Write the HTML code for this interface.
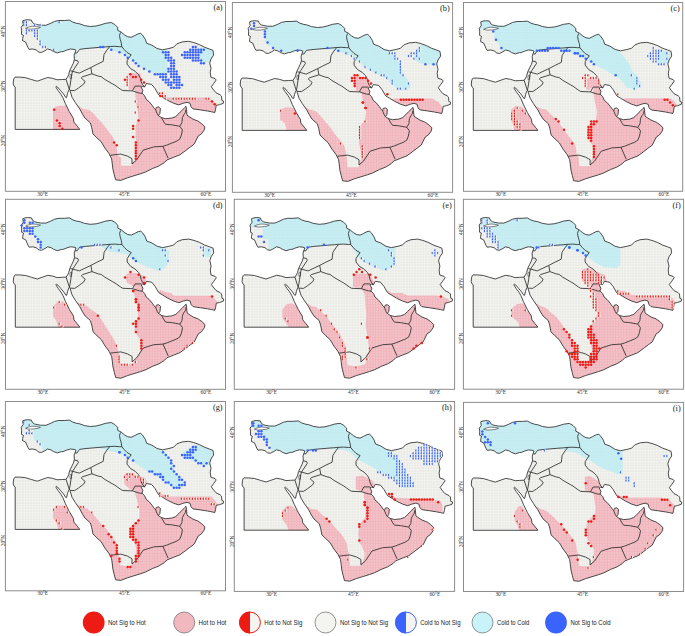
<!DOCTYPE html>
<html><head><meta charset="utf-8"><style>
html,body{margin:0;padding:0;background:#fff;width:685px;height:636px;overflow:hidden}
svg{display:block}
.ax{font-family:"Liberation Serif",serif;font-size:5.4px;fill:#333;text-anchor:middle}
.ax2{font-family:"Liberation Serif",serif;font-size:5.4px;fill:#333;text-anchor:middle}
.pl{font-family:"Liberation Serif",serif;font-size:8.3px;fill:#222;text-anchor:end}
.lg{font-family:"Liberation Sans",sans-serif;font-size:7.2px;fill:#1a1a1a}
</style></head><body>
<svg width="685" height="636" viewBox="0 0 685 636">
<defs>
<pattern id="pg" patternUnits="userSpaceOnUse" x="1.180" y="-0.875" width="2.72" height="2.73"><rect width="2.72" height="2.73" fill="#e7e7e3"/><rect x="0.38" y="0.38" width="1.96" height="1.97" rx="0.5" fill="#f7f8f3"/></pattern>
<pattern id="pp" patternUnits="userSpaceOnUse" x="1.180" y="-0.875" width="2.72" height="2.73"><rect width="2.72" height="2.73" fill="#efb1b9"/><rect x="0.35" y="0.35" width="2.02" height="2.03" rx="0.9" fill="#f2b6be"/><circle cx="0" cy="0" r="0.62" fill="#fbe8ea"/><circle cx="2.72" cy="0" r="0.62" fill="#fbe8ea"/><circle cx="0" cy="2.73" r="0.62" fill="#fbe8ea"/><circle cx="2.72" cy="2.73" r="0.62" fill="#fbe8ea"/></pattern>
<pattern id="pc" patternUnits="userSpaceOnUse" x="1.180" y="-0.875" width="2.72" height="2.73"><rect width="2.72" height="2.73" fill="#bde5ea"/><rect x="0.4" y="0.4" width="1.92" height="1.93" rx="0.6" fill="#c8f4fa"/><circle cx="0" cy="0" r="0.5" fill="#eafafb"/><circle cx="2.72" cy="0" r="0.5" fill="#eafafb"/><circle cx="0" cy="2.73" r="0.5" fill="#eafafb"/><circle cx="2.72" cy="2.73" r="0.5" fill="#eafafb"/></pattern>
<clipPath id="land"><polygon points="22.7,20.8 25.0,20.1 27.3,19.7 31.4,20.1 32.4,22.5 34.4,23.9 37.0,24.6 40.5,25.2 45.8,25.3 50.1,23.6 54.5,21.4 58.9,20.5 64.2,20.5 69.3,20.1 72.8,22.1 76.3,23.3 79.8,23.9 84.5,25.6 90.3,26.5 96.1,26.0 100.8,24.8 105.5,23.3 111.3,22.5 114.8,24.5 117.7,27.4 117.7,30.3 121.2,32.1 124.7,35.0 127.7,36.7 131.2,37.3 134.7,35.6 138.2,33.8 140.7,33.4 142.7,35.3 145.3,39.3 146.6,43.2 151.9,45.2 157.1,48.5 162.4,49.8 169.0,48.5 173.6,47.2 176.8,43.9 182.1,41.9 188.7,41.3 193.9,42.6 199.2,44.5 204.4,47.2 209.7,49.1 213.0,50.4 213.6,55.1 211.0,59.0 209.7,62.9 211.0,68.2 210.2,72.2 210.9,77.2 215.1,78.6 216.2,80.0 213.7,83.5 211.3,86.7 213.0,89.2 215.9,92.7 220.1,94.8 221.5,96.2 221.9,100.5 223.6,101.2 223.3,103.3 219.4,104.7 216.2,105.4 215.5,109.7 214.8,112.5 211.6,111.8 207.4,111.0 200.3,109.9 193.1,108.9 191.1,106.9 190.0,103.3 187.0,102.3 182.9,103.3 178.8,104.9 173.7,103.3 167.6,100.3 162.5,97.2 158.7,94.9 155.1,88.7 151.6,84.4 146.4,83.5 144.6,87.0 142.5,86.3 141.1,87.0 142.9,90.5 142.0,93.1 144.6,95.7 146.1,99.2 149.2,101.8 152.2,105.4 154.3,108.4 155.6,109.8 156.3,107.4 158.4,106.9 160.4,108.4 159.9,113.6 158.4,115.6 161.4,117.6 165.5,118.7 171.6,118.1 175.7,116.6 178.8,113.6 181.9,110.5 184.9,107.4 186.0,106.4 186.5,109.5 187.0,115.1 189.0,116.6 193.1,119.2 198.2,121.2 201.8,123.8 204.9,126.8 204.3,129.9 201.3,134.0 198.2,136.0 196.2,140.1 194.1,144.2 190.4,146.9 185.2,150.9 179.9,154.8 173.4,157.4 166.8,160.0 164.2,162.7 158.9,166.0 152.3,168.6 145.8,171.9 140.5,173.8 133.9,175.8 127.4,177.8 120.8,180.4 115.6,179.8 114.2,174.5 112.9,169.2 112.3,164.0 111.6,158.7 109.0,153.5 105.0,148.2 101.1,141.7 96.9,137.9 93.0,134.0 91.7,127.4 90.3,122.8 85.1,118.2 82.5,114.2 79.8,109.0 75.2,102.4 72.0,97.2 70.0,90.6 69.3,89.5 68.7,90.2 67.5,93.5 66.7,97.2 66.0,97.8 63.5,94.0 60.5,90.5 57.5,87.0 56.5,86.2 55.8,87.0 58.0,90.5 61.0,94.5 62.8,97.5 65.4,103.7 69.3,111.6 73.3,118.2 73.9,122.1 77.2,126.1 79.8,129.4 15.2,129.4 15.2,87.0 14.0,86.0 13.2,84.0 13.5,80.0 14.3,77.8 15.0,77.1 19.7,77.1 25.5,77.7 31.4,79.5 37.2,81.2 41.9,79.5 47.7,77.5 52.4,78.3 57.1,79.8 61.7,79.5 66.0,79.3 67.5,77.1 68.6,74.9 69.7,70.6 71.5,66.9 73.3,63.3 74.4,59.6 74.1,55.2 75.1,52.3 75.9,50.1 74.0,49.4 70.4,49.0 66.7,50.1 63.1,51.6 61.5,51.6 57.2,52.9 53.6,51.6 51.0,49.9 47.5,49.0 44.9,50.7 41.4,52.5 38.8,52.1 36.1,49.9 32.6,49.0 29.1,49.4 27.8,47.2 26.9,45.1 25.6,42.0 22.6,40.7 22.6,38.5 23.4,35.4 21.5,34.4 21.6,30.3 21.2,27.3 23.2,24.5 22.7,21.8"/></clipPath>
</defs>
<rect width="685" height="636" fill="#fff"/>
<rect x="5.4" y="1.5" width="220.1" height="189.8" fill="none" stroke="#8c8c8c" stroke-width="1"/>
<g transform="translate(0.00,0.00)">
<polygon points="22.7,20.8 25.0,20.1 27.3,19.7 31.4,20.1 32.4,22.5 34.4,23.9 37.0,24.6 40.5,25.2 45.8,25.3 50.1,23.6 54.5,21.4 58.9,20.5 64.2,20.5 69.3,20.1 72.8,22.1 76.3,23.3 79.8,23.9 84.5,25.6 90.3,26.5 96.1,26.0 100.8,24.8 105.5,23.3 111.3,22.5 114.8,24.5 117.7,27.4 117.7,30.3 121.2,32.1 124.7,35.0 127.7,36.7 131.2,37.3 134.7,35.6 138.2,33.8 140.7,33.4 142.7,35.3 145.3,39.3 146.6,43.2 151.9,45.2 157.1,48.5 162.4,49.8 169.0,48.5 173.6,47.2 176.8,43.9 182.1,41.9 188.7,41.3 193.9,42.6 199.2,44.5 204.4,47.2 209.7,49.1 213.0,50.4 213.6,55.1 211.0,59.0 209.7,62.9 211.0,68.2 210.2,72.2 210.9,77.2 215.1,78.6 216.2,80.0 213.7,83.5 211.3,86.7 213.0,89.2 215.9,92.7 220.1,94.8 221.5,96.2 221.9,100.5 223.6,101.2 223.3,103.3 219.4,104.7 216.2,105.4 215.5,109.7 214.8,112.5 211.6,111.8 207.4,111.0 200.3,109.9 193.1,108.9 191.1,106.9 190.0,103.3 187.0,102.3 182.9,103.3 178.8,104.9 173.7,103.3 167.6,100.3 162.5,97.2 158.7,94.9 155.1,88.7 151.6,84.4 146.4,83.5 144.6,87.0 142.5,86.3 141.1,87.0 142.9,90.5 142.0,93.1 144.6,95.7 146.1,99.2 149.2,101.8 152.2,105.4 154.3,108.4 155.6,109.8 156.3,107.4 158.4,106.9 160.4,108.4 159.9,113.6 158.4,115.6 161.4,117.6 165.5,118.7 171.6,118.1 175.7,116.6 178.8,113.6 181.9,110.5 184.9,107.4 186.0,106.4 186.5,109.5 187.0,115.1 189.0,116.6 193.1,119.2 198.2,121.2 201.8,123.8 204.9,126.8 204.3,129.9 201.3,134.0 198.2,136.0 196.2,140.1 194.1,144.2 190.4,146.9 185.2,150.9 179.9,154.8 173.4,157.4 166.8,160.0 164.2,162.7 158.9,166.0 152.3,168.6 145.8,171.9 140.5,173.8 133.9,175.8 127.4,177.8 120.8,180.4 115.6,179.8 114.2,174.5 112.9,169.2 112.3,164.0 111.6,158.7 109.0,153.5 105.0,148.2 101.1,141.7 96.9,137.9 93.0,134.0 91.7,127.4 90.3,122.8 85.1,118.2 82.5,114.2 79.8,109.0 75.2,102.4 72.0,97.2 70.0,90.6 69.3,89.5 68.7,90.2 67.5,93.5 66.7,97.2 66.0,97.8 63.5,94.0 60.5,90.5 57.5,87.0 56.5,86.2 55.8,87.0 58.0,90.5 61.0,94.5 62.8,97.5 65.4,103.7 69.3,111.6 73.3,118.2 73.9,122.1 77.2,126.1 79.8,129.4 15.2,129.4 15.2,87.0 14.0,86.0 13.2,84.0 13.5,80.0 14.3,77.8 15.0,77.1 19.7,77.1 25.5,77.7 31.4,79.5 37.2,81.2 41.9,79.5 47.7,77.5 52.4,78.3 57.1,79.8 61.7,79.5 66.0,79.3 67.5,77.1 68.6,74.9 69.7,70.6 71.5,66.9 73.3,63.3 74.4,59.6 74.1,55.2 75.1,52.3 75.9,50.1 74.0,49.4 70.4,49.0 66.7,50.1 63.1,51.6 61.5,51.6 57.2,52.9 53.6,51.6 51.0,49.9 47.5,49.0 44.9,50.7 41.4,52.5 38.8,52.1 36.1,49.9 32.6,49.0 29.1,49.4 27.8,47.2 26.9,45.1 25.6,42.0 22.6,40.7 22.6,38.5 23.4,35.4 21.5,34.4 21.6,30.3 21.2,27.3 23.2,24.5 22.7,21.8" fill="url(#pg)"/>
<g clip-path="url(#land)">
<polygon points="37.9,10.0 125.0,10.0 165.0,40.0 166.8,50.8 167.5,73.0 151.9,72.7 144.0,68.7 138.7,66.1 133.1,60.5 127.9,57.9 125.0,55.3 119.5,52.6 111.3,49.7 104.0,47.8 90.0,48.5 76.5,49.5 76.5,58.0 52.5,58.0 52.5,48.5 46.0,48.5 46.0,45.8 40.6,45.8 40.6,40.3 37.9,40.3" fill="url(#pc)"/>
<polygon points="199.0,48.0 214.0,46.0 216.0,62.0 203.0,62.0 199.0,57.0" fill="url(#pc)"/>
<polygon points="76.0,104.0 83.1,108.9 88.9,109.7 93.8,113.8 98.0,118.8 102.1,122.9 106.2,127.9 109.5,132.8 112.8,136.9 115.3,142.7 116.9,149.3 117.5,155.5 121.1,157.6 121.1,165.8 131.8,165.8 131.8,162.5 135.5,160.0 136.0,150.0 135.5,126.0 138.4,118.0 137.6,109.7 135.9,101.5 135.1,91.6 134.7,89.7 128.5,89.7 128.5,73.3 140.5,73.3 141.5,80.0 142.4,84.4 144.5,88.0 162.0,99.0 165.5,97.5 205.5,97.5 210.5,99.0 216.0,103.5 220.0,112.0 230.0,120.0 230.0,195.0 100.0,195.0 92.0,140.0" fill="url(#pp)"/>
<polygon points="53.0,133.0 53.0,108.5 56.0,106.5 60.0,105.8 64.0,106.0 68.0,104.0 70.0,110.0 82.0,132.0" fill="url(#pp)"/>
</g>
<polygon points="25.5,28.3 28.0,27.2 32.0,26.2 36.5,26.5 40.5,27.3 38.0,28.3 34.0,28.9 29.0,29.2" fill="#fff" stroke="#333" stroke-width="0.6"/>
<polyline points="75.1,53.0 77.0,53.0 78.4,50.9 79.5,49.4 85.0,48.6 92.0,48.0 99.0,47.4 105.5,46.9 109.8,46.5" fill="none" stroke="#2d2d2d" stroke-width="0.85" stroke-linejoin="round"/>
<polyline points="109.8,46.5 114.8,46.3 119.5,46.7 121.8,46.7" fill="none" stroke="#2d2d2d" stroke-width="0.85" stroke-linejoin="round"/>
<polyline points="120.5,32.5 119.5,35.6 120.1,39.1 121.2,42.6 121.8,46.7" fill="none" stroke="#2d2d2d" stroke-width="0.85" stroke-linejoin="round"/>
<polyline points="121.8,46.7 124.2,49.6 127.1,52.5 130.0,54.2 131.2,54.8 129.4,57.2 127.1,60.7 127.1,64.2 130.6,68.6 135.0,71.2 138.5,74.7 140.3,78.2 141.1,81.7 142.4,84.4 144.6,87.0" fill="none" stroke="#2d2d2d" stroke-width="0.85" stroke-linejoin="round"/>
<polyline points="109.8,46.5 106.9,50.1 104.0,54.5 103.2,61.4 96.1,64.8 90.8,67.6" fill="none" stroke="#2d2d2d" stroke-width="0.85" stroke-linejoin="round"/>
<polyline points="90.8,67.6 79.2,73.1 72.6,71.3" fill="none" stroke="#2d2d2d" stroke-width="0.85" stroke-linejoin="round"/>
<polyline points="74.2,60.0 77.7,60.7 78.4,62.5 74.0,69.1 72.6,71.3" fill="none" stroke="#2d2d2d" stroke-width="0.85" stroke-linejoin="round"/>
<polyline points="70.2,70.8 72.6,71.3" fill="none" stroke="#2d2d2d" stroke-width="0.85" stroke-linejoin="round"/>
<polyline points="72.6,71.3 71.8,74.0 71.2,78.0 70.6,82.0 70.0,86.0 69.3,89.5" fill="none" stroke="#2d2d2d" stroke-width="0.85" stroke-linejoin="round"/>
<polyline points="66.0,79.3 69.3,89.5" fill="none" stroke="#2d2d2d" stroke-width="0.85" stroke-linejoin="round"/>
<polyline points="90.8,67.6 91.9,73.8" fill="none" stroke="#2d2d2d" stroke-width="0.85" stroke-linejoin="round"/>
<polyline points="91.9,73.8 82.5,76.8 81.2,78.0 85.1,81.4 83.8,84.0 78.5,88.0 74.6,90.6 70.0,90.3" fill="none" stroke="#2d2d2d" stroke-width="0.85" stroke-linejoin="round"/>
<polyline points="91.9,73.8 98.2,76.1 101.1,76.6 104.8,79.4 112.7,84.0 114.9,85.2 120.6,89.3 122.7,90.5 132.4,90.9" fill="none" stroke="#2d2d2d" stroke-width="0.85" stroke-linejoin="round"/>
<polyline points="132.4,90.9 135.0,86.1 141.1,86.1" fill="none" stroke="#2d2d2d" stroke-width="0.85" stroke-linejoin="round"/>
<polyline points="132.4,90.9 139.4,93.1 142.3,93.3" fill="none" stroke="#2d2d2d" stroke-width="0.85" stroke-linejoin="round"/>
<polyline points="155.6,109.8 157.2,113.8 158.4,115.6" fill="none" stroke="#2d2d2d" stroke-width="0.85" stroke-linejoin="round"/>
<polyline points="161.4,117.6 164.0,122.2 165.5,124.3 171.6,124.8 179.8,126.3" fill="none" stroke="#2d2d2d" stroke-width="0.85" stroke-linejoin="round"/>
<polyline points="179.8,126.3 181.9,122.7 182.4,117.6 183.9,114.6 185.4,112.5 185.9,109.5" fill="none" stroke="#2d2d2d" stroke-width="0.85" stroke-linejoin="round"/>
<polyline points="179.8,126.3 182.4,129.9 181.4,135.0 179.8,139.1 176.8,141.1 171.6,143.2 166.5,145.2 162.9,146.3" fill="none" stroke="#2d2d2d" stroke-width="0.85" stroke-linejoin="round"/>
<polyline points="162.9,146.3 168.1,158.1" fill="none" stroke="#2d2d2d" stroke-width="0.85" stroke-linejoin="round"/>
<polyline points="162.9,146.3 153.7,146.9 143.1,150.2 136.6,160.0 132.0,164.0 132.0,158.7 127.4,156.1 120.8,154.1 114.2,154.8 110.3,155.3" fill="none" stroke="#2d2d2d" stroke-width="0.85" stroke-linejoin="round"/>
<polygon points="70.3,74.5 71.8,74.3 71.5,78.3 70.2,78.6 69.8,76.5" fill="none" stroke="#3a3a3a" stroke-width="0.6"/>
<polygon points="22.7,20.8 25.0,20.1 27.3,19.7 31.4,20.1 32.4,22.5 34.4,23.9 37.0,24.6 40.5,25.2 45.8,25.3 50.1,23.6 54.5,21.4 58.9,20.5 64.2,20.5 69.3,20.1 72.8,22.1 76.3,23.3 79.8,23.9 84.5,25.6 90.3,26.5 96.1,26.0 100.8,24.8 105.5,23.3 111.3,22.5 114.8,24.5 117.7,27.4 117.7,30.3 121.2,32.1 124.7,35.0 127.7,36.7 131.2,37.3 134.7,35.6 138.2,33.8 140.7,33.4 142.7,35.3 145.3,39.3 146.6,43.2 151.9,45.2 157.1,48.5 162.4,49.8 169.0,48.5 173.6,47.2 176.8,43.9 182.1,41.9 188.7,41.3 193.9,42.6 199.2,44.5 204.4,47.2 209.7,49.1 213.0,50.4 213.6,55.1 211.0,59.0 209.7,62.9 211.0,68.2 210.2,72.2 210.9,77.2 215.1,78.6 216.2,80.0 213.7,83.5 211.3,86.7 213.0,89.2 215.9,92.7 220.1,94.8 221.5,96.2 221.9,100.5 223.6,101.2 223.3,103.3 219.4,104.7 216.2,105.4 215.5,109.7 214.8,112.5 211.6,111.8 207.4,111.0 200.3,109.9 193.1,108.9 191.1,106.9 190.0,103.3 187.0,102.3 182.9,103.3 178.8,104.9 173.7,103.3 167.6,100.3 162.5,97.2 158.7,94.9 155.1,88.7 151.6,84.4 146.4,83.5 144.6,87.0 142.5,86.3 141.1,87.0 142.9,90.5 142.0,93.1 144.6,95.7 146.1,99.2 149.2,101.8 152.2,105.4 154.3,108.4 155.6,109.8 156.3,107.4 158.4,106.9 160.4,108.4 159.9,113.6 158.4,115.6 161.4,117.6 165.5,118.7 171.6,118.1 175.7,116.6 178.8,113.6 181.9,110.5 184.9,107.4 186.0,106.4 186.5,109.5 187.0,115.1 189.0,116.6 193.1,119.2 198.2,121.2 201.8,123.8 204.9,126.8 204.3,129.9 201.3,134.0 198.2,136.0 196.2,140.1 194.1,144.2 190.4,146.9 185.2,150.9 179.9,154.8 173.4,157.4 166.8,160.0 164.2,162.7 158.9,166.0 152.3,168.6 145.8,171.9 140.5,173.8 133.9,175.8 127.4,177.8 120.8,180.4 115.6,179.8 114.2,174.5 112.9,169.2 112.3,164.0 111.6,158.7 109.0,153.5 105.0,148.2 101.1,141.7 96.9,137.9 93.0,134.0 91.7,127.4 90.3,122.8 85.1,118.2 82.5,114.2 79.8,109.0 75.2,102.4 72.0,97.2 70.0,90.6 69.3,89.5 68.7,90.2 67.5,93.5 66.7,97.2 66.0,97.8 63.5,94.0 60.5,90.5 57.5,87.0 56.5,86.2 55.8,87.0 58.0,90.5 61.0,94.5 62.8,97.5 65.4,103.7 69.3,111.6 73.3,118.2 73.9,122.1 77.2,126.1 79.8,129.4 15.2,129.4 15.2,87.0 14.0,86.0 13.2,84.0 13.5,80.0 14.3,77.8 15.0,77.1 19.7,77.1 25.5,77.7 31.4,79.5 37.2,81.2 41.9,79.5 47.7,77.5 52.4,78.3 57.1,79.8 61.7,79.5 66.0,79.3 67.5,77.1 68.6,74.9 69.7,70.6 71.5,66.9 73.3,63.3 74.4,59.6 74.1,55.2 75.1,52.3 75.9,50.1 74.0,49.4 70.4,49.0 66.7,50.1 63.1,51.6 61.5,51.6 57.2,52.9 53.6,51.6 51.0,49.9 47.5,49.0 44.9,50.7 41.4,52.5 38.8,52.1 36.1,49.9 32.6,49.0 29.1,49.4 27.8,47.2 26.9,45.1 25.6,42.0 22.6,40.7 22.6,38.5 23.4,35.4 21.5,34.4 21.6,30.3 21.2,27.3 23.2,24.5 22.7,21.8" fill="none" stroke="#2d2d2d" stroke-width="0.85" stroke-linejoin="round"/>
<circle cx="192.94" cy="46.90" r="1.25" fill="#3a63ff"/>
<circle cx="195.66" cy="46.90" r="1.25" fill="#3a63ff"/>
<circle cx="190.22" cy="49.63" r="1.25" fill="#3a63ff"/>
<circle cx="192.94" cy="49.63" r="1.25" fill="#3a63ff"/>
<circle cx="195.66" cy="49.63" r="1.25" fill="#3a63ff"/>
<circle cx="198.38" cy="49.63" r="1.25" fill="#3a63ff"/>
<circle cx="201.10" cy="49.63" r="1.25" fill="#3a63ff"/>
<circle cx="203.82" cy="49.63" r="1.25" fill="#3a63ff"/>
<circle cx="184.78" cy="52.36" r="1.25" fill="#3a63ff"/>
<circle cx="187.50" cy="52.36" r="1.25" fill="#3a63ff"/>
<circle cx="190.22" cy="52.36" r="1.25" fill="#3a63ff"/>
<circle cx="192.94" cy="52.36" r="1.25" fill="#3a63ff"/>
<circle cx="195.66" cy="52.36" r="1.25" fill="#3a63ff"/>
<circle cx="198.38" cy="52.36" r="1.25" fill="#3a63ff"/>
<circle cx="201.10" cy="52.36" r="1.25" fill="#3a63ff"/>
<circle cx="182.06" cy="55.09" r="1.25" fill="#3a63ff"/>
<circle cx="184.78" cy="55.09" r="1.25" fill="#3a63ff"/>
<circle cx="187.50" cy="55.09" r="1.25" fill="#3a63ff"/>
<circle cx="190.22" cy="55.09" r="1.25" fill="#3a63ff"/>
<circle cx="192.94" cy="55.09" r="1.25" fill="#3a63ff"/>
<circle cx="195.66" cy="55.09" r="1.25" fill="#3a63ff"/>
<circle cx="198.38" cy="55.09" r="1.25" fill="#3a63ff"/>
<circle cx="184.78" cy="57.82" r="1.25" fill="#3a63ff"/>
<circle cx="187.50" cy="57.82" r="1.25" fill="#3a63ff"/>
<circle cx="190.22" cy="57.82" r="1.25" fill="#3a63ff"/>
<circle cx="192.94" cy="57.82" r="1.25" fill="#3a63ff"/>
<circle cx="195.66" cy="57.82" r="1.25" fill="#3a63ff"/>
<circle cx="198.38" cy="57.82" r="1.25" fill="#3a63ff"/>
<circle cx="192.94" cy="60.55" r="1.25" fill="#3a63ff"/>
<circle cx="195.66" cy="60.55" r="1.25" fill="#3a63ff"/>
<circle cx="198.38" cy="60.55" r="1.25" fill="#3a63ff"/>
<circle cx="201.10" cy="60.55" r="1.25" fill="#3a63ff"/>
<circle cx="201.10" cy="63.28" r="1.25" fill="#3a63ff"/>
<circle cx="203.82" cy="63.28" r="1.25" fill="#3a63ff"/>
<circle cx="163.02" cy="52.36" r="1.25" fill="#3a63ff"/>
<circle cx="165.74" cy="52.36" r="1.25" fill="#3a63ff"/>
<circle cx="168.46" cy="52.36" r="1.25" fill="#3a63ff"/>
<circle cx="165.74" cy="55.09" r="1.25" fill="#3a63ff"/>
<circle cx="168.46" cy="55.09" r="1.25" fill="#3a63ff"/>
<circle cx="165.74" cy="57.82" r="1.25" fill="#3a63ff"/>
<circle cx="168.46" cy="57.82" r="1.25" fill="#3a63ff"/>
<circle cx="171.18" cy="57.82" r="1.25" fill="#3a63ff"/>
<circle cx="168.46" cy="60.55" r="1.25" fill="#3a63ff"/>
<circle cx="171.18" cy="60.55" r="1.25" fill="#3a63ff"/>
<circle cx="173.90" cy="60.55" r="1.25" fill="#3a63ff"/>
<circle cx="171.18" cy="63.28" r="1.25" fill="#3a63ff"/>
<circle cx="173.90" cy="63.28" r="1.25" fill="#3a63ff"/>
<circle cx="171.18" cy="66.01" r="1.25" fill="#3a63ff"/>
<circle cx="173.90" cy="66.01" r="1.25" fill="#3a63ff"/>
<circle cx="168.46" cy="68.74" r="1.25" fill="#3a63ff"/>
<circle cx="171.18" cy="68.74" r="1.25" fill="#3a63ff"/>
<circle cx="173.90" cy="68.74" r="1.25" fill="#3a63ff"/>
<circle cx="168.46" cy="71.47" r="1.25" fill="#3a63ff"/>
<circle cx="171.18" cy="71.47" r="1.25" fill="#3a63ff"/>
<circle cx="173.90" cy="71.47" r="1.25" fill="#3a63ff"/>
<circle cx="176.62" cy="71.47" r="1.25" fill="#3a63ff"/>
<circle cx="154.86" cy="74.20" r="1.25" fill="#3a63ff"/>
<circle cx="157.58" cy="74.20" r="1.25" fill="#3a63ff"/>
<circle cx="160.30" cy="74.20" r="1.25" fill="#3a63ff"/>
<circle cx="163.02" cy="74.20" r="1.25" fill="#3a63ff"/>
<circle cx="165.74" cy="74.20" r="1.25" fill="#3a63ff"/>
<circle cx="171.18" cy="74.20" r="1.25" fill="#3a63ff"/>
<circle cx="173.90" cy="74.20" r="1.25" fill="#3a63ff"/>
<circle cx="176.62" cy="74.20" r="1.25" fill="#3a63ff"/>
<circle cx="160.30" cy="76.93" r="1.25" fill="#3a63ff"/>
<circle cx="163.02" cy="76.93" r="1.25" fill="#3a63ff"/>
<circle cx="165.74" cy="76.93" r="1.25" fill="#3a63ff"/>
<circle cx="171.18" cy="76.93" r="1.25" fill="#3a63ff"/>
<circle cx="173.90" cy="76.93" r="1.25" fill="#3a63ff"/>
<circle cx="176.62" cy="76.93" r="1.25" fill="#3a63ff"/>
<circle cx="179.34" cy="76.93" r="1.25" fill="#3a63ff"/>
<circle cx="163.02" cy="79.66" r="1.25" fill="#3a63ff"/>
<circle cx="165.74" cy="79.66" r="1.25" fill="#3a63ff"/>
<circle cx="168.46" cy="79.66" r="1.25" fill="#3a63ff"/>
<circle cx="173.90" cy="79.66" r="1.25" fill="#3a63ff"/>
<circle cx="176.62" cy="79.66" r="1.25" fill="#3a63ff"/>
<circle cx="179.34" cy="79.66" r="1.25" fill="#3a63ff"/>
<circle cx="165.74" cy="82.39" r="1.25" fill="#3a63ff"/>
<circle cx="168.46" cy="82.39" r="1.25" fill="#3a63ff"/>
<circle cx="171.18" cy="82.39" r="1.25" fill="#3a63ff"/>
<circle cx="173.90" cy="82.39" r="1.25" fill="#3a63ff"/>
<circle cx="176.62" cy="82.39" r="1.25" fill="#3a63ff"/>
<circle cx="179.34" cy="82.39" r="1.25" fill="#3a63ff"/>
<circle cx="168.46" cy="85.12" r="1.25" fill="#3a63ff"/>
<circle cx="171.18" cy="85.12" r="1.25" fill="#3a63ff"/>
<circle cx="176.62" cy="85.12" r="1.25" fill="#3a63ff"/>
<circle cx="179.34" cy="85.12" r="1.25" fill="#3a63ff"/>
<circle cx="182.06" cy="85.12" r="1.25" fill="#3a63ff"/>
<circle cx="171.18" cy="87.85" r="1.25" fill="#3a63ff"/>
<circle cx="173.90" cy="87.85" r="1.25" fill="#3a63ff"/>
<circle cx="176.62" cy="87.85" r="1.25" fill="#3a63ff"/>
<circle cx="179.34" cy="87.85" r="1.25" fill="#3a63ff"/>
<circle cx="100.46" cy="46.90" r="1.25" fill="#3a63ff"/>
<circle cx="103.18" cy="46.90" r="1.25" fill="#3a63ff"/>
<circle cx="111.34" cy="49.63" r="1.25" fill="#3a63ff"/>
<circle cx="119.50" cy="52.36" r="1.25" fill="#3a63ff"/>
<circle cx="124.94" cy="55.09" r="1.25" fill="#3a63ff"/>
<circle cx="127.66" cy="57.82" r="1.25" fill="#3a63ff"/>
<circle cx="133.10" cy="60.55" r="1.25" fill="#3a63ff"/>
<circle cx="135.82" cy="63.28" r="1.25" fill="#3a63ff"/>
<circle cx="138.54" cy="66.01" r="1.25" fill="#3a63ff"/>
<circle cx="143.98" cy="68.74" r="1.25" fill="#3a63ff"/>
<circle cx="149.42" cy="71.47" r="1.25" fill="#3a63ff"/>
<circle cx="24.30" cy="22.33" r="1.25" fill="#f4f5f0"/>
<path d="M24.30,21.08a1.25,1.25 0 0 0 0,2.5z" fill="#3a63ff"/>
<circle cx="24.30" cy="25.06" r="1.25" fill="#f4f5f0"/>
<path d="M24.30,23.81a1.25,1.25 0 0 0 0,2.5z" fill="#3a63ff"/>
<circle cx="27.02" cy="22.33" r="1.25" fill="#f4f5f0"/>
<path d="M27.02,21.08a1.25,1.25 0 0 0 0,2.5z" fill="#3a63ff"/>
<circle cx="27.02" cy="25.06" r="1.25" fill="#f4f5f0"/>
<path d="M27.02,23.81a1.25,1.25 0 0 0 0,2.5z" fill="#3a63ff"/>
<circle cx="27.02" cy="30.52" r="1.25" fill="#f4f5f0"/>
<path d="M27.02,29.27a1.25,1.25 0 0 0 0,2.5z" fill="#3a63ff"/>
<circle cx="27.02" cy="33.25" r="1.25" fill="#f4f5f0"/>
<path d="M27.02,32.00a1.25,1.25 0 0 0 0,2.5z" fill="#3a63ff"/>
<circle cx="29.74" cy="30.52" r="1.25" fill="#f4f5f0"/>
<path d="M29.74,29.27a1.25,1.25 0 0 0 0,2.5z" fill="#3a63ff"/>
<circle cx="32.46" cy="30.52" r="1.25" fill="#f4f5f0"/>
<path d="M32.46,29.27a1.25,1.25 0 0 0 0,2.5z" fill="#3a63ff"/>
<circle cx="35.18" cy="30.52" r="1.25" fill="#f4f5f0"/>
<path d="M35.18,29.27a1.25,1.25 0 0 0 0,2.5z" fill="#3a63ff"/>
<circle cx="35.18" cy="33.25" r="1.25" fill="#f4f5f0"/>
<path d="M35.18,32.00a1.25,1.25 0 0 0 0,2.5z" fill="#3a63ff"/>
<circle cx="35.18" cy="35.98" r="1.25" fill="#f4f5f0"/>
<path d="M35.18,34.73a1.25,1.25 0 0 0 0,2.5z" fill="#3a63ff"/>
<circle cx="35.18" cy="25.06" r="1.25" fill="#f4f5f0"/>
<path d="M35.18,23.81a1.25,1.25 0 0 0 0,2.5z" fill="#3a63ff"/>
<circle cx="37.90" cy="30.52" r="1.25" fill="#f4f5f0"/>
<path d="M37.90,29.27a1.25,1.25 0 0 0 0,2.5z" fill="#3a63ff"/>
<circle cx="37.90" cy="33.25" r="1.25" fill="#f4f5f0"/>
<path d="M37.90,32.00a1.25,1.25 0 0 0 0,2.5z" fill="#3a63ff"/>
<circle cx="37.90" cy="35.98" r="1.25" fill="#f4f5f0"/>
<path d="M37.90,34.73a1.25,1.25 0 0 0 0,2.5z" fill="#3a63ff"/>
<circle cx="37.90" cy="38.71" r="1.25" fill="#f4f5f0"/>
<path d="M37.90,37.46a1.25,1.25 0 0 0 0,2.5z" fill="#3a63ff"/>
<circle cx="40.62" cy="41.44" r="1.25" fill="#f4f5f0"/>
<path d="M40.62,40.19a1.25,1.25 0 0 0 0,2.5z" fill="#3a63ff"/>
<circle cx="40.62" cy="44.17" r="1.25" fill="#f4f5f0"/>
<path d="M40.62,42.92a1.25,1.25 0 0 0 0,2.5z" fill="#3a63ff"/>
<circle cx="40.62" cy="25.06" r="1.25" fill="#f4f5f0"/>
<path d="M40.62,23.81a1.25,1.25 0 0 0 0,2.5z" fill="#3a63ff"/>
<circle cx="43.34" cy="46.90" r="1.25" fill="#f4f5f0"/>
<path d="M43.34,45.65a1.25,1.25 0 0 0 0,2.5z" fill="#3a63ff"/>
<circle cx="46.06" cy="46.90" r="1.25" fill="#f4f5f0"/>
<path d="M46.06,45.65a1.25,1.25 0 0 0 0,2.5z" fill="#3a63ff"/>
<circle cx="54.22" cy="49.63" r="1.25" fill="#f4f5f0"/>
<path d="M54.22,48.38a1.25,1.25 0 0 0 0,2.5z" fill="#3a63ff"/>
<circle cx="59.66" cy="22.33" r="1.25" fill="#f4f5f0"/>
<path d="M59.66,21.08a1.25,1.25 0 0 0 0,2.5z" fill="#3a63ff"/>
<circle cx="54.22" cy="109.69" r="1.25" fill="#ee1b14"/>
<circle cx="56.94" cy="120.61" r="1.25" fill="#ee1b14"/>
<circle cx="59.66" cy="123.34" r="1.25" fill="#ee1b14"/>
<circle cx="59.66" cy="126.07" r="1.25" fill="#ee1b14"/>
<circle cx="62.38" cy="128.80" r="1.25" fill="#ee1b14"/>
<circle cx="114.06" cy="142.45" r="1.25" fill="#ee1b14"/>
<circle cx="116.78" cy="145.18" r="1.25" fill="#ee1b14"/>
<circle cx="138.54" cy="120.61" r="1.25" fill="#ee1b14"/>
<circle cx="133.10" cy="126.07" r="1.25" fill="#ee1b14"/>
<circle cx="133.10" cy="128.80" r="1.25" fill="#ee1b14"/>
<circle cx="133.10" cy="136.99" r="1.25" fill="#ee1b14"/>
<circle cx="135.82" cy="142.45" r="1.25" fill="#ee1b14"/>
<circle cx="135.82" cy="145.18" r="1.25" fill="#ee1b14"/>
<circle cx="135.82" cy="147.91" r="1.25" fill="#ee1b14"/>
<circle cx="135.82" cy="150.64" r="1.25" fill="#ee1b14"/>
<circle cx="135.82" cy="153.37" r="1.25" fill="#ee1b14"/>
<circle cx="135.82" cy="156.10" r="1.25" fill="#ee1b14"/>
<circle cx="135.82" cy="158.83" r="1.25" fill="#ee1b14"/>
<circle cx="130.38" cy="74.20" r="1.25" fill="#ee1b14"/>
<circle cx="133.10" cy="76.93" r="1.25" fill="#ee1b14"/>
<circle cx="135.82" cy="76.93" r="1.25" fill="#ee1b14"/>
<circle cx="141.26" cy="79.66" r="1.25" fill="#ee1b14"/>
<circle cx="143.98" cy="82.39" r="1.25" fill="#ee1b14"/>
<circle cx="124.94" cy="79.66" r="1.25" fill="#ee1b14"/>
<circle cx="160.30" cy="96.04" r="1.25" fill="#ee1b14"/>
<circle cx="211.98" cy="101.50" r="1.25" fill="#ee1b14"/>
<circle cx="214.70" cy="104.23" r="1.25" fill="#ee1b14"/>
<circle cx="127.66" cy="76.93" r="1.25" fill="#f4f5f0"/>
<path d="M127.66,75.68a1.25,1.25 0 0 0 0,2.5z" fill="#ee1b14"/>
<circle cx="127.66" cy="79.66" r="1.25" fill="#f4f5f0"/>
<path d="M127.66,78.41a1.25,1.25 0 0 0 0,2.5z" fill="#ee1b14"/>
<circle cx="127.66" cy="82.39" r="1.25" fill="#f4f5f0"/>
<path d="M127.66,81.14a1.25,1.25 0 0 0 0,2.5z" fill="#ee1b14"/>
<circle cx="127.66" cy="85.12" r="1.25" fill="#f4f5f0"/>
<path d="M127.66,83.87a1.25,1.25 0 0 0 0,2.5z" fill="#ee1b14"/>
<circle cx="135.82" cy="101.50" r="1.25" fill="#f4f5f0"/>
<path d="M135.82,100.25a1.25,1.25 0 0 0 0,2.5z" fill="#ee1b14"/>
<circle cx="138.54" cy="106.96" r="1.25" fill="#f4f5f0"/>
<path d="M138.54,105.71a1.25,1.25 0 0 0 0,2.5z" fill="#ee1b14"/>
<circle cx="135.82" cy="112.42" r="1.25" fill="#f4f5f0"/>
<path d="M135.82,111.17a1.25,1.25 0 0 0 0,2.5z" fill="#ee1b14"/>
<circle cx="160.30" cy="93.31" r="1.25" fill="#f4f5f0"/>
<path d="M160.30,92.06a1.25,1.25 0 0 0 0,2.5z" fill="#ee1b14"/>
<circle cx="163.02" cy="93.31" r="1.25" fill="#f4f5f0"/>
<path d="M163.02,92.06a1.25,1.25 0 0 0 0,2.5z" fill="#ee1b14"/>
<circle cx="163.02" cy="96.04" r="1.25" fill="#f4f5f0"/>
<path d="M163.02,94.79a1.25,1.25 0 0 0 0,2.5z" fill="#ee1b14"/>
<circle cx="165.74" cy="96.04" r="1.25" fill="#f4f5f0"/>
<path d="M165.74,94.79a1.25,1.25 0 0 0 0,2.5z" fill="#ee1b14"/>
<circle cx="165.74" cy="98.77" r="1.25" fill="#f4f5f0"/>
<path d="M165.74,97.52a1.25,1.25 0 0 0 0,2.5z" fill="#ee1b14"/>
<circle cx="173.90" cy="98.77" r="1.25" fill="#f4f5f0"/>
<path d="M173.90,97.52a1.25,1.25 0 0 0 0,2.5z" fill="#ee1b14"/>
<circle cx="176.62" cy="98.77" r="1.25" fill="#f4f5f0"/>
<path d="M176.62,97.52a1.25,1.25 0 0 0 0,2.5z" fill="#ee1b14"/>
<circle cx="179.34" cy="98.77" r="1.25" fill="#f4f5f0"/>
<path d="M179.34,97.52a1.25,1.25 0 0 0 0,2.5z" fill="#ee1b14"/>
<circle cx="182.06" cy="98.77" r="1.25" fill="#f4f5f0"/>
<path d="M182.06,97.52a1.25,1.25 0 0 0 0,2.5z" fill="#ee1b14"/>
<circle cx="184.78" cy="98.77" r="1.25" fill="#f4f5f0"/>
<path d="M184.78,97.52a1.25,1.25 0 0 0 0,2.5z" fill="#ee1b14"/>
<circle cx="187.50" cy="98.77" r="1.25" fill="#f4f5f0"/>
<path d="M187.50,97.52a1.25,1.25 0 0 0 0,2.5z" fill="#ee1b14"/>
<circle cx="190.22" cy="98.77" r="1.25" fill="#f4f5f0"/>
<path d="M190.22,97.52a1.25,1.25 0 0 0 0,2.5z" fill="#ee1b14"/>
<circle cx="192.94" cy="98.77" r="1.25" fill="#f4f5f0"/>
<path d="M192.94,97.52a1.25,1.25 0 0 0 0,2.5z" fill="#ee1b14"/>
<circle cx="195.66" cy="98.77" r="1.25" fill="#f4f5f0"/>
<path d="M195.66,97.52a1.25,1.25 0 0 0 0,2.5z" fill="#ee1b14"/>
<circle cx="206.54" cy="98.77" r="1.25" fill="#f4f5f0"/>
<path d="M206.54,97.52a1.25,1.25 0 0 0 0,2.5z" fill="#ee1b14"/>
<circle cx="209.26" cy="98.77" r="1.25" fill="#f4f5f0"/>
<path d="M209.26,97.52a1.25,1.25 0 0 0 0,2.5z" fill="#ee1b14"/>
</g>
<text x="0" y="0" transform="translate(5.10,31.40) rotate(-90)" class="ax">40°N</text>
<text x="0" y="0" transform="translate(5.10,86.00) rotate(-90)" class="ax">30°N</text>
<text x="0" y="0" transform="translate(5.10,140.60) rotate(-90)" class="ax">20°N</text>
<text x="42.70" y="195.90" class="ax2">30°E</text>
<text x="124.50" y="195.90" class="ax2">45°E</text>
<text x="205.90" y="195.90" class="ax2">60°E</text>
<text x="222.60" y="10.30" class="pl">(a)</text>
<rect x="232.4" y="2.5" width="220.2" height="189.8" fill="none" stroke="#8c8c8c" stroke-width="1"/>
<g transform="translate(227.00,1.00)">
<polygon points="22.7,20.8 25.0,20.1 27.3,19.7 31.4,20.1 32.4,22.5 34.4,23.9 37.0,24.6 40.5,25.2 45.8,25.3 50.1,23.6 54.5,21.4 58.9,20.5 64.2,20.5 69.3,20.1 72.8,22.1 76.3,23.3 79.8,23.9 84.5,25.6 90.3,26.5 96.1,26.0 100.8,24.8 105.5,23.3 111.3,22.5 114.8,24.5 117.7,27.4 117.7,30.3 121.2,32.1 124.7,35.0 127.7,36.7 131.2,37.3 134.7,35.6 138.2,33.8 140.7,33.4 142.7,35.3 145.3,39.3 146.6,43.2 151.9,45.2 157.1,48.5 162.4,49.8 169.0,48.5 173.6,47.2 176.8,43.9 182.1,41.9 188.7,41.3 193.9,42.6 199.2,44.5 204.4,47.2 209.7,49.1 213.0,50.4 213.6,55.1 211.0,59.0 209.7,62.9 211.0,68.2 210.2,72.2 210.9,77.2 215.1,78.6 216.2,80.0 213.7,83.5 211.3,86.7 213.0,89.2 215.9,92.7 220.1,94.8 221.5,96.2 221.9,100.5 223.6,101.2 223.3,103.3 219.4,104.7 216.2,105.4 215.5,109.7 214.8,112.5 211.6,111.8 207.4,111.0 200.3,109.9 193.1,108.9 191.1,106.9 190.0,103.3 187.0,102.3 182.9,103.3 178.8,104.9 173.7,103.3 167.6,100.3 162.5,97.2 158.7,94.9 155.1,88.7 151.6,84.4 146.4,83.5 144.6,87.0 142.5,86.3 141.1,87.0 142.9,90.5 142.0,93.1 144.6,95.7 146.1,99.2 149.2,101.8 152.2,105.4 154.3,108.4 155.6,109.8 156.3,107.4 158.4,106.9 160.4,108.4 159.9,113.6 158.4,115.6 161.4,117.6 165.5,118.7 171.6,118.1 175.7,116.6 178.8,113.6 181.9,110.5 184.9,107.4 186.0,106.4 186.5,109.5 187.0,115.1 189.0,116.6 193.1,119.2 198.2,121.2 201.8,123.8 204.9,126.8 204.3,129.9 201.3,134.0 198.2,136.0 196.2,140.1 194.1,144.2 190.4,146.9 185.2,150.9 179.9,154.8 173.4,157.4 166.8,160.0 164.2,162.7 158.9,166.0 152.3,168.6 145.8,171.9 140.5,173.8 133.9,175.8 127.4,177.8 120.8,180.4 115.6,179.8 114.2,174.5 112.9,169.2 112.3,164.0 111.6,158.7 109.0,153.5 105.0,148.2 101.1,141.7 96.9,137.9 93.0,134.0 91.7,127.4 90.3,122.8 85.1,118.2 82.5,114.2 79.8,109.0 75.2,102.4 72.0,97.2 70.0,90.6 69.3,89.5 68.7,90.2 67.5,93.5 66.7,97.2 66.0,97.8 63.5,94.0 60.5,90.5 57.5,87.0 56.5,86.2 55.8,87.0 58.0,90.5 61.0,94.5 62.8,97.5 65.4,103.7 69.3,111.6 73.3,118.2 73.9,122.1 77.2,126.1 79.8,129.4 15.2,129.4 15.2,87.0 14.0,86.0 13.2,84.0 13.5,80.0 14.3,77.8 15.0,77.1 19.7,77.1 25.5,77.7 31.4,79.5 37.2,81.2 41.9,79.5 47.7,77.5 52.4,78.3 57.1,79.8 61.7,79.5 66.0,79.3 67.5,77.1 68.6,74.9 69.7,70.6 71.5,66.9 73.3,63.3 74.4,59.6 74.1,55.2 75.1,52.3 75.9,50.1 74.0,49.4 70.4,49.0 66.7,50.1 63.1,51.6 61.5,51.6 57.2,52.9 53.6,51.6 51.0,49.9 47.5,49.0 44.9,50.7 41.4,52.5 38.8,52.1 36.1,49.9 32.6,49.0 29.1,49.4 27.8,47.2 26.9,45.1 25.6,42.0 22.6,40.7 22.6,38.5 23.4,35.4 21.5,34.4 21.6,30.3 21.2,27.3 23.2,24.5 22.7,21.8" fill="url(#pg)"/>
<g clip-path="url(#land)">
<polygon points="37.9,17.1 37.9,40.9 41.0,44.0 46.4,47.0 54.0,50.1 64.0,53.2 70.0,56.0 75.1,53.0 77.0,53.0 78.4,50.9 79.5,49.4 85.0,48.6 92.0,48.0 99.0,47.4 100.8,47.8 110.7,50.5 119.2,52.7 124.5,55.3 127.0,58.6 132.8,61.1 137.7,66.9 143.5,69.4 148.5,72.7 154.2,75.1 160.8,78.4 165.8,83.4 170.7,89.2 180.6,89.2 183.6,85.0 180.6,78.4 176.5,73.5 174.0,64.4 169.1,57.0 162.5,48.7 162.5,40.5 125.0,10.0 37.9,10.0" fill="url(#pc)"/>
<polygon points="189.7,48.7 193.8,43.8 213.6,47.1 213.6,65.2 192.2,61.9 186.4,57.8" fill="url(#pc)"/>
<polygon points="73.0,103.0 82.9,108.5 89.1,110.3 93.4,114.7 97.8,119.9 103.1,126.0 106.6,131.3 110.1,135.7 113.6,140.1 117.1,144.4 118.8,150.6 119.7,155.8 120.2,166.3 131.5,166.3 132.9,161.1 134.6,157.6 133.7,150.6 132.0,141.8 132.0,129.5 133.7,124.3 138.1,119.0 139.0,110.3 136.4,101.5 134.6,92.8 133.7,87.5 134.5,91.3 129.2,89.7 128.4,85.7 128.4,75.2 138.9,76.8 142.1,83.3 150.0,92.0 162.0,99.0 167.4,97.4 205.4,97.4 212.0,101.5 216.1,107.3 222.0,112.0 230.0,125.0 230.0,195.0 100.0,195.0 92.0,140.0" fill="url(#pp)"/>
<polygon points="53.1,108.5 59.3,106.2 65.4,106.8 70.7,110.3 74.2,114.7 85.6,133.1 59.3,133.1 59.3,126.9 57.5,121.7 53.1,119.0" fill="url(#pp)"/>
</g>
<polygon points="25.5,28.3 28.0,27.2 32.0,26.2 36.5,26.5 40.5,27.3 38.0,28.3 34.0,28.9 29.0,29.2" fill="#fff" stroke="#333" stroke-width="0.6"/>
<polyline points="75.1,53.0 77.0,53.0 78.4,50.9 79.5,49.4 85.0,48.6 92.0,48.0 99.0,47.4 105.5,46.9 109.8,46.5" fill="none" stroke="#2d2d2d" stroke-width="0.85" stroke-linejoin="round"/>
<polyline points="109.8,46.5 114.8,46.3 119.5,46.7 121.8,46.7" fill="none" stroke="#2d2d2d" stroke-width="0.85" stroke-linejoin="round"/>
<polyline points="120.5,32.5 119.5,35.6 120.1,39.1 121.2,42.6 121.8,46.7" fill="none" stroke="#2d2d2d" stroke-width="0.85" stroke-linejoin="round"/>
<polyline points="121.8,46.7 124.2,49.6 127.1,52.5 130.0,54.2 131.2,54.8 129.4,57.2 127.1,60.7 127.1,64.2 130.6,68.6 135.0,71.2 138.5,74.7 140.3,78.2 141.1,81.7 142.4,84.4 144.6,87.0" fill="none" stroke="#2d2d2d" stroke-width="0.85" stroke-linejoin="round"/>
<polyline points="109.8,46.5 106.9,50.1 104.0,54.5 103.2,61.4 96.1,64.8 90.8,67.6" fill="none" stroke="#2d2d2d" stroke-width="0.85" stroke-linejoin="round"/>
<polyline points="90.8,67.6 79.2,73.1 72.6,71.3" fill="none" stroke="#2d2d2d" stroke-width="0.85" stroke-linejoin="round"/>
<polyline points="74.2,60.0 77.7,60.7 78.4,62.5 74.0,69.1 72.6,71.3" fill="none" stroke="#2d2d2d" stroke-width="0.85" stroke-linejoin="round"/>
<polyline points="70.2,70.8 72.6,71.3" fill="none" stroke="#2d2d2d" stroke-width="0.85" stroke-linejoin="round"/>
<polyline points="72.6,71.3 71.8,74.0 71.2,78.0 70.6,82.0 70.0,86.0 69.3,89.5" fill="none" stroke="#2d2d2d" stroke-width="0.85" stroke-linejoin="round"/>
<polyline points="66.0,79.3 69.3,89.5" fill="none" stroke="#2d2d2d" stroke-width="0.85" stroke-linejoin="round"/>
<polyline points="90.8,67.6 91.9,73.8" fill="none" stroke="#2d2d2d" stroke-width="0.85" stroke-linejoin="round"/>
<polyline points="91.9,73.8 82.5,76.8 81.2,78.0 85.1,81.4 83.8,84.0 78.5,88.0 74.6,90.6 70.0,90.3" fill="none" stroke="#2d2d2d" stroke-width="0.85" stroke-linejoin="round"/>
<polyline points="91.9,73.8 98.2,76.1 101.1,76.6 104.8,79.4 112.7,84.0 114.9,85.2 120.6,89.3 122.7,90.5 132.4,90.9" fill="none" stroke="#2d2d2d" stroke-width="0.85" stroke-linejoin="round"/>
<polyline points="132.4,90.9 135.0,86.1 141.1,86.1" fill="none" stroke="#2d2d2d" stroke-width="0.85" stroke-linejoin="round"/>
<polyline points="132.4,90.9 139.4,93.1 142.3,93.3" fill="none" stroke="#2d2d2d" stroke-width="0.85" stroke-linejoin="round"/>
<polyline points="155.6,109.8 157.2,113.8 158.4,115.6" fill="none" stroke="#2d2d2d" stroke-width="0.85" stroke-linejoin="round"/>
<polyline points="161.4,117.6 164.0,122.2 165.5,124.3 171.6,124.8 179.8,126.3" fill="none" stroke="#2d2d2d" stroke-width="0.85" stroke-linejoin="round"/>
<polyline points="179.8,126.3 181.9,122.7 182.4,117.6 183.9,114.6 185.4,112.5 185.9,109.5" fill="none" stroke="#2d2d2d" stroke-width="0.85" stroke-linejoin="round"/>
<polyline points="179.8,126.3 182.4,129.9 181.4,135.0 179.8,139.1 176.8,141.1 171.6,143.2 166.5,145.2 162.9,146.3" fill="none" stroke="#2d2d2d" stroke-width="0.85" stroke-linejoin="round"/>
<polyline points="162.9,146.3 168.1,158.1" fill="none" stroke="#2d2d2d" stroke-width="0.85" stroke-linejoin="round"/>
<polyline points="162.9,146.3 153.7,146.9 143.1,150.2 136.6,160.0 132.0,164.0 132.0,158.7 127.4,156.1 120.8,154.1 114.2,154.8 110.3,155.3" fill="none" stroke="#2d2d2d" stroke-width="0.85" stroke-linejoin="round"/>
<polygon points="70.3,74.5 71.8,74.3 71.5,78.3 70.2,78.6 69.8,76.5" fill="none" stroke="#3a3a3a" stroke-width="0.6"/>
<polygon points="22.7,20.8 25.0,20.1 27.3,19.7 31.4,20.1 32.4,22.5 34.4,23.9 37.0,24.6 40.5,25.2 45.8,25.3 50.1,23.6 54.5,21.4 58.9,20.5 64.2,20.5 69.3,20.1 72.8,22.1 76.3,23.3 79.8,23.9 84.5,25.6 90.3,26.5 96.1,26.0 100.8,24.8 105.5,23.3 111.3,22.5 114.8,24.5 117.7,27.4 117.7,30.3 121.2,32.1 124.7,35.0 127.7,36.7 131.2,37.3 134.7,35.6 138.2,33.8 140.7,33.4 142.7,35.3 145.3,39.3 146.6,43.2 151.9,45.2 157.1,48.5 162.4,49.8 169.0,48.5 173.6,47.2 176.8,43.9 182.1,41.9 188.7,41.3 193.9,42.6 199.2,44.5 204.4,47.2 209.7,49.1 213.0,50.4 213.6,55.1 211.0,59.0 209.7,62.9 211.0,68.2 210.2,72.2 210.9,77.2 215.1,78.6 216.2,80.0 213.7,83.5 211.3,86.7 213.0,89.2 215.9,92.7 220.1,94.8 221.5,96.2 221.9,100.5 223.6,101.2 223.3,103.3 219.4,104.7 216.2,105.4 215.5,109.7 214.8,112.5 211.6,111.8 207.4,111.0 200.3,109.9 193.1,108.9 191.1,106.9 190.0,103.3 187.0,102.3 182.9,103.3 178.8,104.9 173.7,103.3 167.6,100.3 162.5,97.2 158.7,94.9 155.1,88.7 151.6,84.4 146.4,83.5 144.6,87.0 142.5,86.3 141.1,87.0 142.9,90.5 142.0,93.1 144.6,95.7 146.1,99.2 149.2,101.8 152.2,105.4 154.3,108.4 155.6,109.8 156.3,107.4 158.4,106.9 160.4,108.4 159.9,113.6 158.4,115.6 161.4,117.6 165.5,118.7 171.6,118.1 175.7,116.6 178.8,113.6 181.9,110.5 184.9,107.4 186.0,106.4 186.5,109.5 187.0,115.1 189.0,116.6 193.1,119.2 198.2,121.2 201.8,123.8 204.9,126.8 204.3,129.9 201.3,134.0 198.2,136.0 196.2,140.1 194.1,144.2 190.4,146.9 185.2,150.9 179.9,154.8 173.4,157.4 166.8,160.0 164.2,162.7 158.9,166.0 152.3,168.6 145.8,171.9 140.5,173.8 133.9,175.8 127.4,177.8 120.8,180.4 115.6,179.8 114.2,174.5 112.9,169.2 112.3,164.0 111.6,158.7 109.0,153.5 105.0,148.2 101.1,141.7 96.9,137.9 93.0,134.0 91.7,127.4 90.3,122.8 85.1,118.2 82.5,114.2 79.8,109.0 75.2,102.4 72.0,97.2 70.0,90.6 69.3,89.5 68.7,90.2 67.5,93.5 66.7,97.2 66.0,97.8 63.5,94.0 60.5,90.5 57.5,87.0 56.5,86.2 55.8,87.0 58.0,90.5 61.0,94.5 62.8,97.5 65.4,103.7 69.3,111.6 73.3,118.2 73.9,122.1 77.2,126.1 79.8,129.4 15.2,129.4 15.2,87.0 14.0,86.0 13.2,84.0 13.5,80.0 14.3,77.8 15.0,77.1 19.7,77.1 25.5,77.7 31.4,79.5 37.2,81.2 41.9,79.5 47.7,77.5 52.4,78.3 57.1,79.8 61.7,79.5 66.0,79.3 67.5,77.1 68.6,74.9 69.7,70.6 71.5,66.9 73.3,63.3 74.4,59.6 74.1,55.2 75.1,52.3 75.9,50.1 74.0,49.4 70.4,49.0 66.7,50.1 63.1,51.6 61.5,51.6 57.2,52.9 53.6,51.6 51.0,49.9 47.5,49.0 44.9,50.7 41.4,52.5 38.8,52.1 36.1,49.9 32.6,49.0 29.1,49.4 27.8,47.2 26.9,45.1 25.6,42.0 22.6,40.7 22.6,38.5 23.4,35.4 21.5,34.4 21.6,30.3 21.2,27.3 23.2,24.5 22.7,21.8" fill="none" stroke="#2d2d2d" stroke-width="0.85" stroke-linejoin="round"/>
<circle cx="27.02" cy="22.33" r="1.25" fill="#3a63ff"/>
<circle cx="27.02" cy="25.06" r="1.25" fill="#3a63ff"/>
<circle cx="24.30" cy="27.79" r="1.25" fill="#3a63ff"/>
<circle cx="37.90" cy="30.52" r="1.25" fill="#3a63ff"/>
<circle cx="37.90" cy="33.25" r="1.25" fill="#3a63ff"/>
<circle cx="37.90" cy="35.98" r="1.25" fill="#3a63ff"/>
<circle cx="40.62" cy="41.44" r="1.25" fill="#3a63ff"/>
<circle cx="46.06" cy="46.90" r="1.25" fill="#3a63ff"/>
<circle cx="54.22" cy="49.63" r="1.25" fill="#3a63ff"/>
<circle cx="70.54" cy="49.63" r="1.25" fill="#3a63ff"/>
<circle cx="100.46" cy="46.90" r="1.25" fill="#3a63ff"/>
<circle cx="111.34" cy="49.63" r="1.25" fill="#3a63ff"/>
<circle cx="119.50" cy="52.36" r="1.25" fill="#3a63ff"/>
<circle cx="198.38" cy="63.28" r="1.25" fill="#3a63ff"/>
<circle cx="206.54" cy="63.28" r="1.25" fill="#3a63ff"/>
<circle cx="119.50" cy="52.36" r="1.25" fill="#f4f5f0"/>
<path d="M119.50,51.11a1.25,1.25 0 0 0 0,2.5z" fill="#3a63ff"/>
<circle cx="124.94" cy="55.09" r="1.25" fill="#f4f5f0"/>
<path d="M124.94,53.84a1.25,1.25 0 0 0 0,2.5z" fill="#3a63ff"/>
<circle cx="127.66" cy="57.82" r="1.25" fill="#f4f5f0"/>
<path d="M127.66,56.57a1.25,1.25 0 0 0 0,2.5z" fill="#3a63ff"/>
<circle cx="133.10" cy="60.55" r="1.25" fill="#f4f5f0"/>
<path d="M133.10,59.30a1.25,1.25 0 0 0 0,2.5z" fill="#3a63ff"/>
<circle cx="138.54" cy="66.01" r="1.25" fill="#f4f5f0"/>
<path d="M138.54,64.76a1.25,1.25 0 0 0 0,2.5z" fill="#3a63ff"/>
<circle cx="143.98" cy="68.74" r="1.25" fill="#f4f5f0"/>
<path d="M143.98,67.49a1.25,1.25 0 0 0 0,2.5z" fill="#3a63ff"/>
<circle cx="149.42" cy="71.47" r="1.25" fill="#f4f5f0"/>
<path d="M149.42,70.22a1.25,1.25 0 0 0 0,2.5z" fill="#3a63ff"/>
<circle cx="154.86" cy="74.20" r="1.25" fill="#f4f5f0"/>
<path d="M154.86,72.95a1.25,1.25 0 0 0 0,2.5z" fill="#3a63ff"/>
<circle cx="157.58" cy="74.20" r="1.25" fill="#f4f5f0"/>
<path d="M157.58,72.95a1.25,1.25 0 0 0 0,2.5z" fill="#3a63ff"/>
<circle cx="160.30" cy="76.93" r="1.25" fill="#f4f5f0"/>
<path d="M160.30,75.68a1.25,1.25 0 0 0 0,2.5z" fill="#3a63ff"/>
<circle cx="165.74" cy="79.66" r="1.25" fill="#f4f5f0"/>
<path d="M165.74,78.41a1.25,1.25 0 0 0 0,2.5z" fill="#3a63ff"/>
<circle cx="165.74" cy="82.39" r="1.25" fill="#f4f5f0"/>
<path d="M165.74,81.14a1.25,1.25 0 0 0 0,2.5z" fill="#3a63ff"/>
<circle cx="171.18" cy="87.85" r="1.25" fill="#f4f5f0"/>
<path d="M171.18,86.60a1.25,1.25 0 0 0 0,2.5z" fill="#3a63ff"/>
<circle cx="173.90" cy="87.85" r="1.25" fill="#f4f5f0"/>
<path d="M173.90,86.60a1.25,1.25 0 0 0 0,2.5z" fill="#3a63ff"/>
<circle cx="179.34" cy="87.85" r="1.25" fill="#f4f5f0"/>
<path d="M179.34,86.60a1.25,1.25 0 0 0 0,2.5z" fill="#3a63ff"/>
<circle cx="182.06" cy="82.39" r="1.25" fill="#f4f5f0"/>
<path d="M182.06,81.14a1.25,1.25 0 0 0 0,2.5z" fill="#3a63ff"/>
<circle cx="163.02" cy="52.36" r="1.25" fill="#f4f5f0"/>
<path d="M163.02,51.11a1.25,1.25 0 0 0 0,2.5z" fill="#3a63ff"/>
<circle cx="165.74" cy="52.36" r="1.25" fill="#f4f5f0"/>
<path d="M165.74,51.11a1.25,1.25 0 0 0 0,2.5z" fill="#3a63ff"/>
<circle cx="168.46" cy="52.36" r="1.25" fill="#f4f5f0"/>
<path d="M168.46,51.11a1.25,1.25 0 0 0 0,2.5z" fill="#3a63ff"/>
<circle cx="168.46" cy="55.09" r="1.25" fill="#f4f5f0"/>
<path d="M168.46,53.84a1.25,1.25 0 0 0 0,2.5z" fill="#3a63ff"/>
<circle cx="168.46" cy="57.82" r="1.25" fill="#f4f5f0"/>
<path d="M168.46,56.57a1.25,1.25 0 0 0 0,2.5z" fill="#3a63ff"/>
<circle cx="171.18" cy="57.82" r="1.25" fill="#f4f5f0"/>
<path d="M171.18,56.57a1.25,1.25 0 0 0 0,2.5z" fill="#3a63ff"/>
<circle cx="173.90" cy="60.55" r="1.25" fill="#f4f5f0"/>
<path d="M173.90,59.30a1.25,1.25 0 0 0 0,2.5z" fill="#3a63ff"/>
<circle cx="173.90" cy="63.28" r="1.25" fill="#f4f5f0"/>
<path d="M173.90,62.03a1.25,1.25 0 0 0 0,2.5z" fill="#3a63ff"/>
<circle cx="173.90" cy="66.01" r="1.25" fill="#f4f5f0"/>
<path d="M173.90,64.76a1.25,1.25 0 0 0 0,2.5z" fill="#3a63ff"/>
<circle cx="173.90" cy="68.74" r="1.25" fill="#f4f5f0"/>
<path d="M173.90,67.49a1.25,1.25 0 0 0 0,2.5z" fill="#3a63ff"/>
<circle cx="173.90" cy="71.47" r="1.25" fill="#f4f5f0"/>
<path d="M173.90,70.22a1.25,1.25 0 0 0 0,2.5z" fill="#3a63ff"/>
<circle cx="176.62" cy="74.20" r="1.25" fill="#f4f5f0"/>
<path d="M176.62,72.95a1.25,1.25 0 0 0 0,2.5z" fill="#3a63ff"/>
<circle cx="182.06" cy="55.09" r="1.25" fill="#f4f5f0"/>
<path d="M182.06,53.84a1.25,1.25 0 0 0 0,2.5z" fill="#3a63ff"/>
<circle cx="184.78" cy="52.36" r="1.25" fill="#f4f5f0"/>
<path d="M184.78,51.11a1.25,1.25 0 0 0 0,2.5z" fill="#3a63ff"/>
<circle cx="184.78" cy="55.09" r="1.25" fill="#f4f5f0"/>
<path d="M184.78,53.84a1.25,1.25 0 0 0 0,2.5z" fill="#3a63ff"/>
<circle cx="187.50" cy="52.36" r="1.25" fill="#f4f5f0"/>
<path d="M187.50,51.11a1.25,1.25 0 0 0 0,2.5z" fill="#3a63ff"/>
<circle cx="187.50" cy="57.82" r="1.25" fill="#f4f5f0"/>
<path d="M187.50,56.57a1.25,1.25 0 0 0 0,2.5z" fill="#3a63ff"/>
<circle cx="190.22" cy="49.63" r="1.25" fill="#f4f5f0"/>
<path d="M190.22,48.38a1.25,1.25 0 0 0 0,2.5z" fill="#3a63ff"/>
<circle cx="190.22" cy="52.36" r="1.25" fill="#f4f5f0"/>
<path d="M190.22,51.11a1.25,1.25 0 0 0 0,2.5z" fill="#3a63ff"/>
<circle cx="190.22" cy="55.09" r="1.25" fill="#f4f5f0"/>
<path d="M190.22,53.84a1.25,1.25 0 0 0 0,2.5z" fill="#3a63ff"/>
<circle cx="192.94" cy="46.90" r="1.25" fill="#f4f5f0"/>
<path d="M192.94,45.65a1.25,1.25 0 0 0 0,2.5z" fill="#3a63ff"/>
<circle cx="192.94" cy="49.63" r="1.25" fill="#f4f5f0"/>
<path d="M192.94,48.38a1.25,1.25 0 0 0 0,2.5z" fill="#3a63ff"/>
<circle cx="192.94" cy="57.82" r="1.25" fill="#f4f5f0"/>
<path d="M192.94,56.57a1.25,1.25 0 0 0 0,2.5z" fill="#3a63ff"/>
<circle cx="127.66" cy="74.20" r="1.25" fill="#ee1b14"/>
<circle cx="130.38" cy="74.20" r="1.25" fill="#ee1b14"/>
<circle cx="124.94" cy="76.93" r="1.25" fill="#ee1b14"/>
<circle cx="127.66" cy="76.93" r="1.25" fill="#ee1b14"/>
<circle cx="133.10" cy="76.93" r="1.25" fill="#ee1b14"/>
<circle cx="135.82" cy="76.93" r="1.25" fill="#ee1b14"/>
<circle cx="138.54" cy="76.93" r="1.25" fill="#ee1b14"/>
<circle cx="124.94" cy="79.66" r="1.25" fill="#ee1b14"/>
<circle cx="127.66" cy="79.66" r="1.25" fill="#ee1b14"/>
<circle cx="127.66" cy="82.39" r="1.25" fill="#ee1b14"/>
<circle cx="127.66" cy="85.12" r="1.25" fill="#ee1b14"/>
<circle cx="141.26" cy="79.66" r="1.25" fill="#ee1b14"/>
<circle cx="143.98" cy="82.39" r="1.25" fill="#ee1b14"/>
<circle cx="160.30" cy="93.31" r="1.25" fill="#ee1b14"/>
<circle cx="135.82" cy="101.50" r="1.25" fill="#ee1b14"/>
<circle cx="138.54" cy="106.96" r="1.25" fill="#ee1b14"/>
<circle cx="173.90" cy="98.77" r="1.25" fill="#ee1b14"/>
<circle cx="176.62" cy="98.77" r="1.25" fill="#ee1b14"/>
<circle cx="179.34" cy="98.77" r="1.25" fill="#ee1b14"/>
<circle cx="182.06" cy="98.77" r="1.25" fill="#ee1b14"/>
<circle cx="184.78" cy="98.77" r="1.25" fill="#ee1b14"/>
<circle cx="187.50" cy="98.77" r="1.25" fill="#ee1b14"/>
<circle cx="190.22" cy="98.77" r="1.25" fill="#ee1b14"/>
<circle cx="192.94" cy="98.77" r="1.25" fill="#ee1b14"/>
<circle cx="195.66" cy="98.77" r="1.25" fill="#ee1b14"/>
<circle cx="67.82" cy="112.42" r="1.25" fill="#ee1b14"/>
<circle cx="135.82" cy="101.50" r="1.25" fill="#ee1b14"/>
<circle cx="138.54" cy="106.96" r="1.25" fill="#ee1b14"/>
<circle cx="54.22" cy="109.69" r="1.25" fill="#f4f5f0"/>
<path d="M54.22,108.44a1.25,1.25 0 0 0 0,2.5z" fill="#ee1b14"/>
<circle cx="138.54" cy="120.61" r="1.25" fill="#f4f5f0"/>
<path d="M138.54,119.36a1.25,1.25 0 0 0 0,2.5z" fill="#ee1b14"/>
<circle cx="114.06" cy="142.45" r="1.25" fill="#f4f5f0"/>
<path d="M114.06,141.20a1.25,1.25 0 0 0 0,2.5z" fill="#ee1b14"/>
<circle cx="133.10" cy="126.07" r="1.25" fill="#f4f5f0"/>
<path d="M133.10,124.82a1.25,1.25 0 0 0 0,2.5z" fill="#ee1b14"/>
<circle cx="133.10" cy="128.80" r="1.25" fill="#f4f5f0"/>
<path d="M133.10,127.55a1.25,1.25 0 0 0 0,2.5z" fill="#ee1b14"/>
<circle cx="133.10" cy="131.53" r="1.25" fill="#f4f5f0"/>
<path d="M133.10,130.28a1.25,1.25 0 0 0 0,2.5z" fill="#ee1b14"/>
<circle cx="133.10" cy="134.26" r="1.25" fill="#f4f5f0"/>
<path d="M133.10,133.01a1.25,1.25 0 0 0 0,2.5z" fill="#ee1b14"/>
<circle cx="133.10" cy="136.99" r="1.25" fill="#f4f5f0"/>
<path d="M133.10,135.74a1.25,1.25 0 0 0 0,2.5z" fill="#ee1b14"/>
<circle cx="135.82" cy="145.18" r="1.25" fill="#f4f5f0"/>
<path d="M135.82,143.93a1.25,1.25 0 0 0 0,2.5z" fill="#ee1b14"/>
<circle cx="135.82" cy="147.91" r="1.25" fill="#f4f5f0"/>
<path d="M135.82,146.66a1.25,1.25 0 0 0 0,2.5z" fill="#ee1b14"/>
<circle cx="135.82" cy="150.64" r="1.25" fill="#f4f5f0"/>
<path d="M135.82,149.39a1.25,1.25 0 0 0 0,2.5z" fill="#ee1b14"/>
<circle cx="135.82" cy="153.37" r="1.25" fill="#f4f5f0"/>
<path d="M135.82,152.12a1.25,1.25 0 0 0 0,2.5z" fill="#ee1b14"/>
<circle cx="135.82" cy="156.10" r="1.25" fill="#f4f5f0"/>
<path d="M135.82,154.85a1.25,1.25 0 0 0 0,2.5z" fill="#ee1b14"/>
</g>
<text x="0" y="0" transform="translate(232.10,32.40) rotate(-90)" class="ax">40°N</text>
<text x="0" y="0" transform="translate(232.10,87.00) rotate(-90)" class="ax">30°N</text>
<text x="0" y="0" transform="translate(232.10,141.60) rotate(-90)" class="ax">20°N</text>
<text x="269.70" y="196.90" class="ax2">30°E</text>
<text x="351.50" y="196.90" class="ax2">45°E</text>
<text x="432.90" y="196.90" class="ax2">60°E</text>
<text x="449.70" y="11.30" class="pl">(b)</text>
<rect x="463.5" y="2.5" width="219.2" height="188.8" fill="none" stroke="#8c8c8c" stroke-width="1"/>
<g transform="translate(458.10,1.00)">
<polygon points="22.7,20.8 25.0,20.1 27.3,19.7 31.4,20.1 32.4,22.5 34.4,23.9 37.0,24.6 40.5,25.2 45.8,25.3 50.1,23.6 54.5,21.4 58.9,20.5 64.2,20.5 69.3,20.1 72.8,22.1 76.3,23.3 79.8,23.9 84.5,25.6 90.3,26.5 96.1,26.0 100.8,24.8 105.5,23.3 111.3,22.5 114.8,24.5 117.7,27.4 117.7,30.3 121.2,32.1 124.7,35.0 127.7,36.7 131.2,37.3 134.7,35.6 138.2,33.8 140.7,33.4 142.7,35.3 145.3,39.3 146.6,43.2 151.9,45.2 157.1,48.5 162.4,49.8 169.0,48.5 173.6,47.2 176.8,43.9 182.1,41.9 188.7,41.3 193.9,42.6 199.2,44.5 204.4,47.2 209.7,49.1 213.0,50.4 213.6,55.1 211.0,59.0 209.7,62.9 211.0,68.2 210.2,72.2 210.9,77.2 215.1,78.6 216.2,80.0 213.7,83.5 211.3,86.7 213.0,89.2 215.9,92.7 220.1,94.8 221.5,96.2 221.9,100.5 223.6,101.2 223.3,103.3 219.4,104.7 216.2,105.4 215.5,109.7 214.8,112.5 211.6,111.8 207.4,111.0 200.3,109.9 193.1,108.9 191.1,106.9 190.0,103.3 187.0,102.3 182.9,103.3 178.8,104.9 173.7,103.3 167.6,100.3 162.5,97.2 158.7,94.9 155.1,88.7 151.6,84.4 146.4,83.5 144.6,87.0 142.5,86.3 141.1,87.0 142.9,90.5 142.0,93.1 144.6,95.7 146.1,99.2 149.2,101.8 152.2,105.4 154.3,108.4 155.6,109.8 156.3,107.4 158.4,106.9 160.4,108.4 159.9,113.6 158.4,115.6 161.4,117.6 165.5,118.7 171.6,118.1 175.7,116.6 178.8,113.6 181.9,110.5 184.9,107.4 186.0,106.4 186.5,109.5 187.0,115.1 189.0,116.6 193.1,119.2 198.2,121.2 201.8,123.8 204.9,126.8 204.3,129.9 201.3,134.0 198.2,136.0 196.2,140.1 194.1,144.2 190.4,146.9 185.2,150.9 179.9,154.8 173.4,157.4 166.8,160.0 164.2,162.7 158.9,166.0 152.3,168.6 145.8,171.9 140.5,173.8 133.9,175.8 127.4,177.8 120.8,180.4 115.6,179.8 114.2,174.5 112.9,169.2 112.3,164.0 111.6,158.7 109.0,153.5 105.0,148.2 101.1,141.7 96.9,137.9 93.0,134.0 91.7,127.4 90.3,122.8 85.1,118.2 82.5,114.2 79.8,109.0 75.2,102.4 72.0,97.2 70.0,90.6 69.3,89.5 68.7,90.2 67.5,93.5 66.7,97.2 66.0,97.8 63.5,94.0 60.5,90.5 57.5,87.0 56.5,86.2 55.8,87.0 58.0,90.5 61.0,94.5 62.8,97.5 65.4,103.7 69.3,111.6 73.3,118.2 73.9,122.1 77.2,126.1 79.8,129.4 15.2,129.4 15.2,87.0 14.0,86.0 13.2,84.0 13.5,80.0 14.3,77.8 15.0,77.1 19.7,77.1 25.5,77.7 31.4,79.5 37.2,81.2 41.9,79.5 47.7,77.5 52.4,78.3 57.1,79.8 61.7,79.5 66.0,79.3 67.5,77.1 68.6,74.9 69.7,70.6 71.5,66.9 73.3,63.3 74.4,59.6 74.1,55.2 75.1,52.3 75.9,50.1 74.0,49.4 70.4,49.0 66.7,50.1 63.1,51.6 61.5,51.6 57.2,52.9 53.6,51.6 51.0,49.9 47.5,49.0 44.9,50.7 41.4,52.5 38.8,52.1 36.1,49.9 32.6,49.0 29.1,49.4 27.8,47.2 26.9,45.1 25.6,42.0 22.6,40.7 22.6,38.5 23.4,35.4 21.5,34.4 21.6,30.3 21.2,27.3 23.2,24.5 22.7,21.8" fill="url(#pg)"/>
<g clip-path="url(#land)">
<polygon points="20.0,17.1 125.0,10.0 150.0,25.0 160.2,49.0 166.8,57.3 171.8,63.9 174.3,70.6 178.5,73.9 182.6,80.6 182.6,86.4 176.8,88.1 168.5,86.4 165.2,81.4 160.2,76.4 153.5,73.1 145.2,68.1 138.5,64.8 131.9,60.6 126.9,58.1 121.9,54.8 115.2,52.3 111.9,51.5 116.5,53.2 111.9,51.2 102.7,51.2 100.4,47.8 99.0,47.4 92.0,48.0 85.0,48.6 79.5,49.4 78.4,50.9 77.0,53.0 75.1,53.0 70.0,56.0 45.3,53.2 42.2,46.3 39.9,41.7 36.1,38.6 36.1,27.9 32.2,28.2 21.5,28.2" fill="url(#pc)"/>
<polygon points="199.0,50.0 206.0,49.0 212.0,52.0 212.0,62.0 205.0,63.0 199.0,62.0" fill="url(#pc)"/>
<polygon points="73.0,103.0 82.7,107.6 88.0,108.5 92.3,112.9 96.7,117.3 101.1,121.7 104.6,126.9 109.0,133.1 112.5,137.4 116.0,141.8 117.7,146.2 118.6,153.2 120.4,155.8 121.2,164.9 131.8,164.9 132.6,161.1 135.3,154.1 134.4,144.4 130.9,140.1 129.1,133.1 130.0,125.2 133.5,121.7 137.9,119.0 138.8,110.3 137.0,101.5 135.3,92.8 135.3,85.8 128.5,89.7 127.7,77.3 136.9,77.3 141.9,81.4 145.2,87.2 150.0,92.0 162.0,99.0 166.8,97.2 211.8,97.2 215.9,99.7 219.2,104.7 222.0,112.0 230.0,125.0 230.0,195.0 100.0,195.0 92.0,140.0" fill="url(#pp)"/>
<polygon points="52.9,108.5 58.2,104.7 63.4,105.9 67.8,109.4 71.3,114.7 84.5,133.1 56.4,133.1 55.5,124.3 52.9,119.0" fill="url(#pp)"/>
</g>
<polygon points="25.5,28.3 28.0,27.2 32.0,26.2 36.5,26.5 40.5,27.3 38.0,28.3 34.0,28.9 29.0,29.2" fill="#fff" stroke="#333" stroke-width="0.6"/>
<polyline points="75.1,53.0 77.0,53.0 78.4,50.9 79.5,49.4 85.0,48.6 92.0,48.0 99.0,47.4 105.5,46.9 109.8,46.5" fill="none" stroke="#2d2d2d" stroke-width="0.85" stroke-linejoin="round"/>
<polyline points="109.8,46.5 114.8,46.3 119.5,46.7 121.8,46.7" fill="none" stroke="#2d2d2d" stroke-width="0.85" stroke-linejoin="round"/>
<polyline points="120.5,32.5 119.5,35.6 120.1,39.1 121.2,42.6 121.8,46.7" fill="none" stroke="#2d2d2d" stroke-width="0.85" stroke-linejoin="round"/>
<polyline points="121.8,46.7 124.2,49.6 127.1,52.5 130.0,54.2 131.2,54.8 129.4,57.2 127.1,60.7 127.1,64.2 130.6,68.6 135.0,71.2 138.5,74.7 140.3,78.2 141.1,81.7 142.4,84.4 144.6,87.0" fill="none" stroke="#2d2d2d" stroke-width="0.85" stroke-linejoin="round"/>
<polyline points="109.8,46.5 106.9,50.1 104.0,54.5 103.2,61.4 96.1,64.8 90.8,67.6" fill="none" stroke="#2d2d2d" stroke-width="0.85" stroke-linejoin="round"/>
<polyline points="90.8,67.6 79.2,73.1 72.6,71.3" fill="none" stroke="#2d2d2d" stroke-width="0.85" stroke-linejoin="round"/>
<polyline points="74.2,60.0 77.7,60.7 78.4,62.5 74.0,69.1 72.6,71.3" fill="none" stroke="#2d2d2d" stroke-width="0.85" stroke-linejoin="round"/>
<polyline points="70.2,70.8 72.6,71.3" fill="none" stroke="#2d2d2d" stroke-width="0.85" stroke-linejoin="round"/>
<polyline points="72.6,71.3 71.8,74.0 71.2,78.0 70.6,82.0 70.0,86.0 69.3,89.5" fill="none" stroke="#2d2d2d" stroke-width="0.85" stroke-linejoin="round"/>
<polyline points="66.0,79.3 69.3,89.5" fill="none" stroke="#2d2d2d" stroke-width="0.85" stroke-linejoin="round"/>
<polyline points="90.8,67.6 91.9,73.8" fill="none" stroke="#2d2d2d" stroke-width="0.85" stroke-linejoin="round"/>
<polyline points="91.9,73.8 82.5,76.8 81.2,78.0 85.1,81.4 83.8,84.0 78.5,88.0 74.6,90.6 70.0,90.3" fill="none" stroke="#2d2d2d" stroke-width="0.85" stroke-linejoin="round"/>
<polyline points="91.9,73.8 98.2,76.1 101.1,76.6 104.8,79.4 112.7,84.0 114.9,85.2 120.6,89.3 122.7,90.5 132.4,90.9" fill="none" stroke="#2d2d2d" stroke-width="0.85" stroke-linejoin="round"/>
<polyline points="132.4,90.9 135.0,86.1 141.1,86.1" fill="none" stroke="#2d2d2d" stroke-width="0.85" stroke-linejoin="round"/>
<polyline points="132.4,90.9 139.4,93.1 142.3,93.3" fill="none" stroke="#2d2d2d" stroke-width="0.85" stroke-linejoin="round"/>
<polyline points="155.6,109.8 157.2,113.8 158.4,115.6" fill="none" stroke="#2d2d2d" stroke-width="0.85" stroke-linejoin="round"/>
<polyline points="161.4,117.6 164.0,122.2 165.5,124.3 171.6,124.8 179.8,126.3" fill="none" stroke="#2d2d2d" stroke-width="0.85" stroke-linejoin="round"/>
<polyline points="179.8,126.3 181.9,122.7 182.4,117.6 183.9,114.6 185.4,112.5 185.9,109.5" fill="none" stroke="#2d2d2d" stroke-width="0.85" stroke-linejoin="round"/>
<polyline points="179.8,126.3 182.4,129.9 181.4,135.0 179.8,139.1 176.8,141.1 171.6,143.2 166.5,145.2 162.9,146.3" fill="none" stroke="#2d2d2d" stroke-width="0.85" stroke-linejoin="round"/>
<polyline points="162.9,146.3 168.1,158.1" fill="none" stroke="#2d2d2d" stroke-width="0.85" stroke-linejoin="round"/>
<polyline points="162.9,146.3 153.7,146.9 143.1,150.2 136.6,160.0 132.0,164.0 132.0,158.7 127.4,156.1 120.8,154.1 114.2,154.8 110.3,155.3" fill="none" stroke="#2d2d2d" stroke-width="0.85" stroke-linejoin="round"/>
<polygon points="70.3,74.5 71.8,74.3 71.5,78.3 70.2,78.6 69.8,76.5" fill="none" stroke="#3a3a3a" stroke-width="0.6"/>
<polygon points="22.7,20.8 25.0,20.1 27.3,19.7 31.4,20.1 32.4,22.5 34.4,23.9 37.0,24.6 40.5,25.2 45.8,25.3 50.1,23.6 54.5,21.4 58.9,20.5 64.2,20.5 69.3,20.1 72.8,22.1 76.3,23.3 79.8,23.9 84.5,25.6 90.3,26.5 96.1,26.0 100.8,24.8 105.5,23.3 111.3,22.5 114.8,24.5 117.7,27.4 117.7,30.3 121.2,32.1 124.7,35.0 127.7,36.7 131.2,37.3 134.7,35.6 138.2,33.8 140.7,33.4 142.7,35.3 145.3,39.3 146.6,43.2 151.9,45.2 157.1,48.5 162.4,49.8 169.0,48.5 173.6,47.2 176.8,43.9 182.1,41.9 188.7,41.3 193.9,42.6 199.2,44.5 204.4,47.2 209.7,49.1 213.0,50.4 213.6,55.1 211.0,59.0 209.7,62.9 211.0,68.2 210.2,72.2 210.9,77.2 215.1,78.6 216.2,80.0 213.7,83.5 211.3,86.7 213.0,89.2 215.9,92.7 220.1,94.8 221.5,96.2 221.9,100.5 223.6,101.2 223.3,103.3 219.4,104.7 216.2,105.4 215.5,109.7 214.8,112.5 211.6,111.8 207.4,111.0 200.3,109.9 193.1,108.9 191.1,106.9 190.0,103.3 187.0,102.3 182.9,103.3 178.8,104.9 173.7,103.3 167.6,100.3 162.5,97.2 158.7,94.9 155.1,88.7 151.6,84.4 146.4,83.5 144.6,87.0 142.5,86.3 141.1,87.0 142.9,90.5 142.0,93.1 144.6,95.7 146.1,99.2 149.2,101.8 152.2,105.4 154.3,108.4 155.6,109.8 156.3,107.4 158.4,106.9 160.4,108.4 159.9,113.6 158.4,115.6 161.4,117.6 165.5,118.7 171.6,118.1 175.7,116.6 178.8,113.6 181.9,110.5 184.9,107.4 186.0,106.4 186.5,109.5 187.0,115.1 189.0,116.6 193.1,119.2 198.2,121.2 201.8,123.8 204.9,126.8 204.3,129.9 201.3,134.0 198.2,136.0 196.2,140.1 194.1,144.2 190.4,146.9 185.2,150.9 179.9,154.8 173.4,157.4 166.8,160.0 164.2,162.7 158.9,166.0 152.3,168.6 145.8,171.9 140.5,173.8 133.9,175.8 127.4,177.8 120.8,180.4 115.6,179.8 114.2,174.5 112.9,169.2 112.3,164.0 111.6,158.7 109.0,153.5 105.0,148.2 101.1,141.7 96.9,137.9 93.0,134.0 91.7,127.4 90.3,122.8 85.1,118.2 82.5,114.2 79.8,109.0 75.2,102.4 72.0,97.2 70.0,90.6 69.3,89.5 68.7,90.2 67.5,93.5 66.7,97.2 66.0,97.8 63.5,94.0 60.5,90.5 57.5,87.0 56.5,86.2 55.8,87.0 58.0,90.5 61.0,94.5 62.8,97.5 65.4,103.7 69.3,111.6 73.3,118.2 73.9,122.1 77.2,126.1 79.8,129.4 15.2,129.4 15.2,87.0 14.0,86.0 13.2,84.0 13.5,80.0 14.3,77.8 15.0,77.1 19.7,77.1 25.5,77.7 31.4,79.5 37.2,81.2 41.9,79.5 47.7,77.5 52.4,78.3 57.1,79.8 61.7,79.5 66.0,79.3 67.5,77.1 68.6,74.9 69.7,70.6 71.5,66.9 73.3,63.3 74.4,59.6 74.1,55.2 75.1,52.3 75.9,50.1 74.0,49.4 70.4,49.0 66.7,50.1 63.1,51.6 61.5,51.6 57.2,52.9 53.6,51.6 51.0,49.9 47.5,49.0 44.9,50.7 41.4,52.5 38.8,52.1 36.1,49.9 32.6,49.0 29.1,49.4 27.8,47.2 26.9,45.1 25.6,42.0 22.6,40.7 22.6,38.5 23.4,35.4 21.5,34.4 21.6,30.3 21.2,27.3 23.2,24.5 22.7,21.8" fill="none" stroke="#2d2d2d" stroke-width="0.85" stroke-linejoin="round"/>
<circle cx="35.18" cy="30.52" r="1.25" fill="#3a63ff"/>
<circle cx="37.90" cy="38.71" r="1.25" fill="#3a63ff"/>
<circle cx="43.34" cy="46.90" r="1.25" fill="#3a63ff"/>
<circle cx="78.70" cy="49.63" r="1.25" fill="#3a63ff"/>
<circle cx="81.42" cy="49.63" r="1.25" fill="#3a63ff"/>
<circle cx="84.14" cy="49.63" r="1.25" fill="#3a63ff"/>
<circle cx="86.86" cy="49.63" r="1.25" fill="#3a63ff"/>
<circle cx="89.58" cy="49.63" r="1.25" fill="#3a63ff"/>
<circle cx="89.58" cy="46.90" r="1.25" fill="#3a63ff"/>
<circle cx="92.30" cy="46.90" r="1.25" fill="#3a63ff"/>
<circle cx="95.02" cy="46.90" r="1.25" fill="#3a63ff"/>
<circle cx="97.74" cy="46.90" r="1.25" fill="#3a63ff"/>
<circle cx="100.46" cy="46.90" r="1.25" fill="#3a63ff"/>
<circle cx="103.18" cy="49.63" r="1.25" fill="#3a63ff"/>
<circle cx="105.90" cy="49.63" r="1.25" fill="#3a63ff"/>
<circle cx="108.62" cy="49.63" r="1.25" fill="#3a63ff"/>
<circle cx="111.34" cy="49.63" r="1.25" fill="#3a63ff"/>
<circle cx="116.78" cy="52.36" r="1.25" fill="#3a63ff"/>
<circle cx="119.50" cy="52.36" r="1.25" fill="#3a63ff"/>
<circle cx="122.22" cy="55.09" r="1.25" fill="#3a63ff"/>
<circle cx="116.78" cy="52.36" r="1.25" fill="#3a63ff"/>
<circle cx="119.50" cy="52.36" r="1.25" fill="#3a63ff"/>
<circle cx="122.22" cy="55.09" r="1.25" fill="#3a63ff"/>
<circle cx="124.94" cy="55.09" r="1.25" fill="#3a63ff"/>
<circle cx="127.66" cy="57.82" r="1.25" fill="#3a63ff"/>
<circle cx="133.10" cy="60.55" r="1.25" fill="#3a63ff"/>
<circle cx="135.82" cy="63.28" r="1.25" fill="#3a63ff"/>
<circle cx="157.58" cy="74.20" r="1.25" fill="#3a63ff"/>
<circle cx="173.90" cy="74.20" r="1.25" fill="#f4f5f0"/>
<path d="M173.90,72.95a1.25,1.25 0 0 0 0,2.5z" fill="#3a63ff"/>
<circle cx="179.34" cy="76.93" r="1.25" fill="#f4f5f0"/>
<path d="M179.34,75.68a1.25,1.25 0 0 0 0,2.5z" fill="#3a63ff"/>
<circle cx="179.34" cy="79.66" r="1.25" fill="#f4f5f0"/>
<path d="M179.34,78.41a1.25,1.25 0 0 0 0,2.5z" fill="#3a63ff"/>
<circle cx="179.34" cy="82.39" r="1.25" fill="#f4f5f0"/>
<path d="M179.34,81.14a1.25,1.25 0 0 0 0,2.5z" fill="#3a63ff"/>
<circle cx="182.06" cy="85.12" r="1.25" fill="#f4f5f0"/>
<path d="M182.06,83.87a1.25,1.25 0 0 0 0,2.5z" fill="#3a63ff"/>
<circle cx="176.62" cy="87.85" r="1.25" fill="#f4f5f0"/>
<path d="M176.62,86.60a1.25,1.25 0 0 0 0,2.5z" fill="#3a63ff"/>
<circle cx="190.22" cy="55.09" r="1.25" fill="#f4f5f0"/>
<path d="M190.22,53.84a1.25,1.25 0 0 0 0,2.5z" fill="#3a63ff"/>
<circle cx="192.94" cy="52.36" r="1.25" fill="#f4f5f0"/>
<path d="M192.94,51.11a1.25,1.25 0 0 0 0,2.5z" fill="#3a63ff"/>
<circle cx="192.94" cy="55.09" r="1.25" fill="#f4f5f0"/>
<path d="M192.94,53.84a1.25,1.25 0 0 0 0,2.5z" fill="#3a63ff"/>
<circle cx="192.94" cy="57.82" r="1.25" fill="#f4f5f0"/>
<path d="M192.94,56.57a1.25,1.25 0 0 0 0,2.5z" fill="#3a63ff"/>
<circle cx="195.66" cy="46.90" r="1.25" fill="#f4f5f0"/>
<path d="M195.66,45.65a1.25,1.25 0 0 0 0,2.5z" fill="#3a63ff"/>
<circle cx="195.66" cy="49.63" r="1.25" fill="#f4f5f0"/>
<path d="M195.66,48.38a1.25,1.25 0 0 0 0,2.5z" fill="#3a63ff"/>
<circle cx="195.66" cy="52.36" r="1.25" fill="#f4f5f0"/>
<path d="M195.66,51.11a1.25,1.25 0 0 0 0,2.5z" fill="#3a63ff"/>
<circle cx="195.66" cy="55.09" r="1.25" fill="#f4f5f0"/>
<path d="M195.66,53.84a1.25,1.25 0 0 0 0,2.5z" fill="#3a63ff"/>
<circle cx="195.66" cy="57.82" r="1.25" fill="#f4f5f0"/>
<path d="M195.66,56.57a1.25,1.25 0 0 0 0,2.5z" fill="#3a63ff"/>
<circle cx="195.66" cy="60.55" r="1.25" fill="#f4f5f0"/>
<path d="M195.66,59.30a1.25,1.25 0 0 0 0,2.5z" fill="#3a63ff"/>
<circle cx="198.38" cy="49.63" r="1.25" fill="#f4f5f0"/>
<path d="M198.38,48.38a1.25,1.25 0 0 0 0,2.5z" fill="#3a63ff"/>
<circle cx="198.38" cy="52.36" r="1.25" fill="#f4f5f0"/>
<path d="M198.38,51.11a1.25,1.25 0 0 0 0,2.5z" fill="#3a63ff"/>
<circle cx="198.38" cy="55.09" r="1.25" fill="#f4f5f0"/>
<path d="M198.38,53.84a1.25,1.25 0 0 0 0,2.5z" fill="#3a63ff"/>
<circle cx="198.38" cy="57.82" r="1.25" fill="#f4f5f0"/>
<path d="M198.38,56.57a1.25,1.25 0 0 0 0,2.5z" fill="#3a63ff"/>
<circle cx="198.38" cy="60.55" r="1.25" fill="#f4f5f0"/>
<path d="M198.38,59.30a1.25,1.25 0 0 0 0,2.5z" fill="#3a63ff"/>
<circle cx="201.10" cy="49.63" r="1.25" fill="#f4f5f0"/>
<path d="M201.10,48.38a1.25,1.25 0 0 0 0,2.5z" fill="#3a63ff"/>
<circle cx="201.10" cy="52.36" r="1.25" fill="#f4f5f0"/>
<path d="M201.10,51.11a1.25,1.25 0 0 0 0,2.5z" fill="#3a63ff"/>
<circle cx="201.10" cy="55.09" r="1.25" fill="#f4f5f0"/>
<path d="M201.10,53.84a1.25,1.25 0 0 0 0,2.5z" fill="#3a63ff"/>
<circle cx="201.10" cy="57.82" r="1.25" fill="#f4f5f0"/>
<path d="M201.10,56.57a1.25,1.25 0 0 0 0,2.5z" fill="#3a63ff"/>
<circle cx="201.10" cy="63.28" r="1.25" fill="#f4f5f0"/>
<path d="M201.10,62.03a1.25,1.25 0 0 0 0,2.5z" fill="#3a63ff"/>
<circle cx="203.82" cy="49.63" r="1.25" fill="#f4f5f0"/>
<path d="M203.82,48.38a1.25,1.25 0 0 0 0,2.5z" fill="#3a63ff"/>
<circle cx="203.82" cy="63.28" r="1.25" fill="#f4f5f0"/>
<path d="M203.82,62.03a1.25,1.25 0 0 0 0,2.5z" fill="#3a63ff"/>
<circle cx="206.54" cy="63.28" r="1.25" fill="#f4f5f0"/>
<path d="M206.54,62.03a1.25,1.25 0 0 0 0,2.5z" fill="#3a63ff"/>
<circle cx="209.26" cy="52.36" r="1.25" fill="#f4f5f0"/>
<path d="M209.26,51.11a1.25,1.25 0 0 0 0,2.5z" fill="#3a63ff"/>
<circle cx="209.26" cy="57.82" r="1.25" fill="#f4f5f0"/>
<path d="M209.26,56.57a1.25,1.25 0 0 0 0,2.5z" fill="#3a63ff"/>
<circle cx="206.54" cy="98.77" r="1.25" fill="#ee1b14"/>
<circle cx="209.26" cy="98.77" r="1.25" fill="#ee1b14"/>
<circle cx="211.98" cy="101.50" r="1.25" fill="#ee1b14"/>
<circle cx="214.70" cy="104.23" r="1.25" fill="#ee1b14"/>
<circle cx="97.74" cy="117.88" r="1.25" fill="#ee1b14"/>
<circle cx="100.46" cy="120.61" r="1.25" fill="#ee1b14"/>
<circle cx="105.90" cy="128.80" r="1.25" fill="#ee1b14"/>
<circle cx="114.06" cy="142.45" r="1.25" fill="#ee1b14"/>
<circle cx="135.82" cy="120.61" r="1.25" fill="#ee1b14"/>
<circle cx="138.54" cy="120.61" r="1.25" fill="#ee1b14"/>
<circle cx="133.10" cy="120.61" r="1.25" fill="#ee1b14"/>
<circle cx="133.10" cy="123.34" r="1.25" fill="#ee1b14"/>
<circle cx="135.82" cy="123.34" r="1.25" fill="#ee1b14"/>
<circle cx="130.38" cy="126.07" r="1.25" fill="#ee1b14"/>
<circle cx="133.10" cy="126.07" r="1.25" fill="#ee1b14"/>
<circle cx="130.38" cy="128.80" r="1.25" fill="#ee1b14"/>
<circle cx="133.10" cy="128.80" r="1.25" fill="#ee1b14"/>
<circle cx="130.38" cy="131.53" r="1.25" fill="#ee1b14"/>
<circle cx="133.10" cy="131.53" r="1.25" fill="#ee1b14"/>
<circle cx="130.38" cy="134.26" r="1.25" fill="#ee1b14"/>
<circle cx="133.10" cy="134.26" r="1.25" fill="#ee1b14"/>
<circle cx="130.38" cy="136.99" r="1.25" fill="#ee1b14"/>
<circle cx="133.10" cy="136.99" r="1.25" fill="#ee1b14"/>
<circle cx="133.10" cy="139.72" r="1.25" fill="#ee1b14"/>
<circle cx="135.82" cy="145.18" r="1.25" fill="#ee1b14"/>
<circle cx="135.82" cy="147.91" r="1.25" fill="#ee1b14"/>
<circle cx="135.82" cy="150.64" r="1.25" fill="#ee1b14"/>
<circle cx="135.82" cy="153.37" r="1.25" fill="#ee1b14"/>
<circle cx="135.82" cy="156.10" r="1.25" fill="#ee1b14"/>
<circle cx="124.94" cy="76.93" r="1.25" fill="#f4f5f0"/>
<path d="M124.94,75.68a1.25,1.25 0 0 0 0,2.5z" fill="#ee1b14"/>
<circle cx="127.66" cy="74.20" r="1.25" fill="#f4f5f0"/>
<path d="M127.66,72.95a1.25,1.25 0 0 0 0,2.5z" fill="#ee1b14"/>
<circle cx="127.66" cy="76.93" r="1.25" fill="#f4f5f0"/>
<path d="M127.66,75.68a1.25,1.25 0 0 0 0,2.5z" fill="#ee1b14"/>
<circle cx="127.66" cy="79.66" r="1.25" fill="#f4f5f0"/>
<path d="M127.66,78.41a1.25,1.25 0 0 0 0,2.5z" fill="#ee1b14"/>
<circle cx="127.66" cy="82.39" r="1.25" fill="#f4f5f0"/>
<path d="M127.66,81.14a1.25,1.25 0 0 0 0,2.5z" fill="#ee1b14"/>
<circle cx="127.66" cy="85.12" r="1.25" fill="#f4f5f0"/>
<path d="M127.66,83.87a1.25,1.25 0 0 0 0,2.5z" fill="#ee1b14"/>
<circle cx="130.38" cy="74.20" r="1.25" fill="#f4f5f0"/>
<path d="M130.38,72.95a1.25,1.25 0 0 0 0,2.5z" fill="#ee1b14"/>
<circle cx="133.10" cy="76.93" r="1.25" fill="#f4f5f0"/>
<path d="M133.10,75.68a1.25,1.25 0 0 0 0,2.5z" fill="#ee1b14"/>
<circle cx="135.82" cy="76.93" r="1.25" fill="#f4f5f0"/>
<path d="M135.82,75.68a1.25,1.25 0 0 0 0,2.5z" fill="#ee1b14"/>
<circle cx="138.54" cy="76.93" r="1.25" fill="#f4f5f0"/>
<path d="M138.54,75.68a1.25,1.25 0 0 0 0,2.5z" fill="#ee1b14"/>
<circle cx="141.26" cy="79.66" r="1.25" fill="#f4f5f0"/>
<path d="M141.26,78.41a1.25,1.25 0 0 0 0,2.5z" fill="#ee1b14"/>
<circle cx="141.26" cy="82.39" r="1.25" fill="#f4f5f0"/>
<path d="M141.26,81.14a1.25,1.25 0 0 0 0,2.5z" fill="#ee1b14"/>
<circle cx="160.30" cy="93.31" r="1.25" fill="#f4f5f0"/>
<path d="M160.30,92.06a1.25,1.25 0 0 0 0,2.5z" fill="#ee1b14"/>
<circle cx="54.22" cy="112.42" r="1.25" fill="#f4f5f0"/>
<path d="M54.22,111.17a1.25,1.25 0 0 0 0,2.5z" fill="#ee1b14"/>
<circle cx="54.22" cy="115.15" r="1.25" fill="#f4f5f0"/>
<path d="M54.22,113.90a1.25,1.25 0 0 0 0,2.5z" fill="#ee1b14"/>
<circle cx="54.22" cy="117.88" r="1.25" fill="#f4f5f0"/>
<path d="M54.22,116.63a1.25,1.25 0 0 0 0,2.5z" fill="#ee1b14"/>
<circle cx="56.94" cy="109.69" r="1.25" fill="#f4f5f0"/>
<path d="M56.94,108.44a1.25,1.25 0 0 0 0,2.5z" fill="#ee1b14"/>
<circle cx="56.94" cy="112.42" r="1.25" fill="#f4f5f0"/>
<path d="M56.94,111.17a1.25,1.25 0 0 0 0,2.5z" fill="#ee1b14"/>
<circle cx="56.94" cy="115.15" r="1.25" fill="#f4f5f0"/>
<path d="M56.94,113.90a1.25,1.25 0 0 0 0,2.5z" fill="#ee1b14"/>
<circle cx="56.94" cy="117.88" r="1.25" fill="#f4f5f0"/>
<path d="M56.94,116.63a1.25,1.25 0 0 0 0,2.5z" fill="#ee1b14"/>
<circle cx="56.94" cy="120.61" r="1.25" fill="#f4f5f0"/>
<path d="M56.94,119.36a1.25,1.25 0 0 0 0,2.5z" fill="#ee1b14"/>
<circle cx="56.94" cy="123.34" r="1.25" fill="#f4f5f0"/>
<path d="M56.94,122.09a1.25,1.25 0 0 0 0,2.5z" fill="#ee1b14"/>
<circle cx="59.66" cy="106.96" r="1.25" fill="#f4f5f0"/>
<path d="M59.66,105.71a1.25,1.25 0 0 0 0,2.5z" fill="#ee1b14"/>
<circle cx="59.66" cy="120.61" r="1.25" fill="#f4f5f0"/>
<path d="M59.66,119.36a1.25,1.25 0 0 0 0,2.5z" fill="#ee1b14"/>
<circle cx="59.66" cy="123.34" r="1.25" fill="#f4f5f0"/>
<path d="M59.66,122.09a1.25,1.25 0 0 0 0,2.5z" fill="#ee1b14"/>
<circle cx="59.66" cy="126.07" r="1.25" fill="#f4f5f0"/>
<path d="M59.66,124.82a1.25,1.25 0 0 0 0,2.5z" fill="#ee1b14"/>
<circle cx="62.38" cy="123.34" r="1.25" fill="#f4f5f0"/>
<path d="M62.38,122.09a1.25,1.25 0 0 0 0,2.5z" fill="#ee1b14"/>
<circle cx="62.38" cy="126.07" r="1.25" fill="#f4f5f0"/>
<path d="M62.38,124.82a1.25,1.25 0 0 0 0,2.5z" fill="#ee1b14"/>
<circle cx="62.38" cy="128.80" r="1.25" fill="#f4f5f0"/>
<path d="M62.38,127.55a1.25,1.25 0 0 0 0,2.5z" fill="#ee1b14"/>
<circle cx="65.10" cy="109.69" r="1.25" fill="#f4f5f0"/>
<path d="M65.10,108.44a1.25,1.25 0 0 0 0,2.5z" fill="#ee1b14"/>
<circle cx="67.82" cy="112.42" r="1.25" fill="#f4f5f0"/>
<path d="M67.82,111.17a1.25,1.25 0 0 0 0,2.5z" fill="#ee1b14"/>
</g>
<text x="0" y="0" transform="translate(463.20,32.40) rotate(-90)" class="ax">40°N</text>
<text x="0" y="0" transform="translate(463.20,87.00) rotate(-90)" class="ax">30°N</text>
<text x="0" y="0" transform="translate(463.20,141.60) rotate(-90)" class="ax">20°N</text>
<text x="500.80" y="195.90" class="ax2">30°E</text>
<text x="582.60" y="195.90" class="ax2">45°E</text>
<text x="664.00" y="195.90" class="ax2">60°E</text>
<text x="679.80" y="11.30" class="pl">(c)</text>
<rect x="5.5" y="199.3" width="220.0" height="190.0" fill="none" stroke="#8c8c8c" stroke-width="1"/>
<g transform="translate(0.10,197.80)">
<polygon points="22.7,20.8 25.0,20.1 27.3,19.7 31.4,20.1 32.4,22.5 34.4,23.9 37.0,24.6 40.5,25.2 45.8,25.3 50.1,23.6 54.5,21.4 58.9,20.5 64.2,20.5 69.3,20.1 72.8,22.1 76.3,23.3 79.8,23.9 84.5,25.6 90.3,26.5 96.1,26.0 100.8,24.8 105.5,23.3 111.3,22.5 114.8,24.5 117.7,27.4 117.7,30.3 121.2,32.1 124.7,35.0 127.7,36.7 131.2,37.3 134.7,35.6 138.2,33.8 140.7,33.4 142.7,35.3 145.3,39.3 146.6,43.2 151.9,45.2 157.1,48.5 162.4,49.8 169.0,48.5 173.6,47.2 176.8,43.9 182.1,41.9 188.7,41.3 193.9,42.6 199.2,44.5 204.4,47.2 209.7,49.1 213.0,50.4 213.6,55.1 211.0,59.0 209.7,62.9 211.0,68.2 210.2,72.2 210.9,77.2 215.1,78.6 216.2,80.0 213.7,83.5 211.3,86.7 213.0,89.2 215.9,92.7 220.1,94.8 221.5,96.2 221.9,100.5 223.6,101.2 223.3,103.3 219.4,104.7 216.2,105.4 215.5,109.7 214.8,112.5 211.6,111.8 207.4,111.0 200.3,109.9 193.1,108.9 191.1,106.9 190.0,103.3 187.0,102.3 182.9,103.3 178.8,104.9 173.7,103.3 167.6,100.3 162.5,97.2 158.7,94.9 155.1,88.7 151.6,84.4 146.4,83.5 144.6,87.0 142.5,86.3 141.1,87.0 142.9,90.5 142.0,93.1 144.6,95.7 146.1,99.2 149.2,101.8 152.2,105.4 154.3,108.4 155.6,109.8 156.3,107.4 158.4,106.9 160.4,108.4 159.9,113.6 158.4,115.6 161.4,117.6 165.5,118.7 171.6,118.1 175.7,116.6 178.8,113.6 181.9,110.5 184.9,107.4 186.0,106.4 186.5,109.5 187.0,115.1 189.0,116.6 193.1,119.2 198.2,121.2 201.8,123.8 204.9,126.8 204.3,129.9 201.3,134.0 198.2,136.0 196.2,140.1 194.1,144.2 190.4,146.9 185.2,150.9 179.9,154.8 173.4,157.4 166.8,160.0 164.2,162.7 158.9,166.0 152.3,168.6 145.8,171.9 140.5,173.8 133.9,175.8 127.4,177.8 120.8,180.4 115.6,179.8 114.2,174.5 112.9,169.2 112.3,164.0 111.6,158.7 109.0,153.5 105.0,148.2 101.1,141.7 96.9,137.9 93.0,134.0 91.7,127.4 90.3,122.8 85.1,118.2 82.5,114.2 79.8,109.0 75.2,102.4 72.0,97.2 70.0,90.6 69.3,89.5 68.7,90.2 67.5,93.5 66.7,97.2 66.0,97.8 63.5,94.0 60.5,90.5 57.5,87.0 56.5,86.2 55.8,87.0 58.0,90.5 61.0,94.5 62.8,97.5 65.4,103.7 69.3,111.6 73.3,118.2 73.9,122.1 77.2,126.1 79.8,129.4 15.2,129.4 15.2,87.0 14.0,86.0 13.2,84.0 13.5,80.0 14.3,77.8 15.0,77.1 19.7,77.1 25.5,77.7 31.4,79.5 37.2,81.2 41.9,79.5 47.7,77.5 52.4,78.3 57.1,79.8 61.7,79.5 66.0,79.3 67.5,77.1 68.6,74.9 69.7,70.6 71.5,66.9 73.3,63.3 74.4,59.6 74.1,55.2 75.1,52.3 75.9,50.1 74.0,49.4 70.4,49.0 66.7,50.1 63.1,51.6 61.5,51.6 57.2,52.9 53.6,51.6 51.0,49.9 47.5,49.0 44.9,50.7 41.4,52.5 38.8,52.1 36.1,49.9 32.6,49.0 29.1,49.4 27.8,47.2 26.9,45.1 25.6,42.0 22.6,40.7 22.6,38.5 23.4,35.4 21.5,34.4 21.6,30.3 21.2,27.3 23.2,24.5 22.7,21.8" fill="url(#pg)"/>
<g clip-path="url(#land)">
<polygon points="33.9,22.7 33.9,37.0 36.1,37.6 36.1,40.3 38.8,42.0 41.6,43.6 42.1,50.2 42.1,55.7 70.0,56.0 75.1,53.0 77.0,53.0 78.4,50.9 79.5,49.4 85.0,48.6 92.0,48.0 99.0,47.4 109.9,54.3 120.1,55.1 126.8,56.8 131.9,61.1 137.0,64.8 143.8,67.8 155.6,72.1 160.7,72.6 166.1,68.2 168.8,63.6 168.8,52.6 165.8,50.1 164.1,44.1 125.0,10.0 60.0,10.0 40.0,10.0 31.7,20.5 31.7,22.7" fill="url(#pc)"/>
<polygon points="203.0,50.0 211.0,50.0 211.0,59.0 203.0,59.0" fill="url(#pc)"/>
<polygon points="73.0,103.0 81.1,105.9 85.4,107.1 90.7,111.5 96.0,115.0 100.3,120.2 104.7,127.2 109.1,134.2 113.5,141.3 117.0,148.3 117.9,153.5 119.6,157.0 120.5,166.1 132.7,166.1 134.5,162.3 138.0,158.8 140.6,151.8 139.8,141.3 137.1,137.7 134.5,132.5 135.4,125.5 138.0,118.5 138.0,109.7 135.4,101.0 132.7,92.2 135.3,89.9 126.8,84.8 125.1,78.0 128.5,75.1 135.3,75.1 143.8,78.0 146.3,83.1 150.0,92.0 157.0,97.0 159.9,92.1 164.1,93.8 170.9,95.4 174.3,98.0 211.5,98.0 215.2,101.7 219.1,105.9 222.0,112.0 230.0,125.0 230.0,195.0 100.0,195.0 92.0,140.0" fill="url(#pp)"/>
<polygon points="53.0,108.8 57.4,103.8 63.5,103.8 67.9,108.0 74.9,118.5 85.4,136.0 59.2,136.0 56.5,123.7 53.0,118.5" fill="url(#pp)"/>
</g>
<polygon points="25.5,28.3 28.0,27.2 32.0,26.2 36.5,26.5 40.5,27.3 38.0,28.3 34.0,28.9 29.0,29.2" fill="#fff" stroke="#333" stroke-width="0.6"/>
<polyline points="75.1,53.0 77.0,53.0 78.4,50.9 79.5,49.4 85.0,48.6 92.0,48.0 99.0,47.4 105.5,46.9 109.8,46.5" fill="none" stroke="#2d2d2d" stroke-width="0.85" stroke-linejoin="round"/>
<polyline points="109.8,46.5 114.8,46.3 119.5,46.7 121.8,46.7" fill="none" stroke="#2d2d2d" stroke-width="0.85" stroke-linejoin="round"/>
<polyline points="120.5,32.5 119.5,35.6 120.1,39.1 121.2,42.6 121.8,46.7" fill="none" stroke="#2d2d2d" stroke-width="0.85" stroke-linejoin="round"/>
<polyline points="121.8,46.7 124.2,49.6 127.1,52.5 130.0,54.2 131.2,54.8 129.4,57.2 127.1,60.7 127.1,64.2 130.6,68.6 135.0,71.2 138.5,74.7 140.3,78.2 141.1,81.7 142.4,84.4 144.6,87.0" fill="none" stroke="#2d2d2d" stroke-width="0.85" stroke-linejoin="round"/>
<polyline points="109.8,46.5 106.9,50.1 104.0,54.5 103.2,61.4 96.1,64.8 90.8,67.6" fill="none" stroke="#2d2d2d" stroke-width="0.85" stroke-linejoin="round"/>
<polyline points="90.8,67.6 79.2,73.1 72.6,71.3" fill="none" stroke="#2d2d2d" stroke-width="0.85" stroke-linejoin="round"/>
<polyline points="74.2,60.0 77.7,60.7 78.4,62.5 74.0,69.1 72.6,71.3" fill="none" stroke="#2d2d2d" stroke-width="0.85" stroke-linejoin="round"/>
<polyline points="70.2,70.8 72.6,71.3" fill="none" stroke="#2d2d2d" stroke-width="0.85" stroke-linejoin="round"/>
<polyline points="72.6,71.3 71.8,74.0 71.2,78.0 70.6,82.0 70.0,86.0 69.3,89.5" fill="none" stroke="#2d2d2d" stroke-width="0.85" stroke-linejoin="round"/>
<polyline points="66.0,79.3 69.3,89.5" fill="none" stroke="#2d2d2d" stroke-width="0.85" stroke-linejoin="round"/>
<polyline points="90.8,67.6 91.9,73.8" fill="none" stroke="#2d2d2d" stroke-width="0.85" stroke-linejoin="round"/>
<polyline points="91.9,73.8 82.5,76.8 81.2,78.0 85.1,81.4 83.8,84.0 78.5,88.0 74.6,90.6 70.0,90.3" fill="none" stroke="#2d2d2d" stroke-width="0.85" stroke-linejoin="round"/>
<polyline points="91.9,73.8 98.2,76.1 101.1,76.6 104.8,79.4 112.7,84.0 114.9,85.2 120.6,89.3 122.7,90.5 132.4,90.9" fill="none" stroke="#2d2d2d" stroke-width="0.85" stroke-linejoin="round"/>
<polyline points="132.4,90.9 135.0,86.1 141.1,86.1" fill="none" stroke="#2d2d2d" stroke-width="0.85" stroke-linejoin="round"/>
<polyline points="132.4,90.9 139.4,93.1 142.3,93.3" fill="none" stroke="#2d2d2d" stroke-width="0.85" stroke-linejoin="round"/>
<polyline points="155.6,109.8 157.2,113.8 158.4,115.6" fill="none" stroke="#2d2d2d" stroke-width="0.85" stroke-linejoin="round"/>
<polyline points="161.4,117.6 164.0,122.2 165.5,124.3 171.6,124.8 179.8,126.3" fill="none" stroke="#2d2d2d" stroke-width="0.85" stroke-linejoin="round"/>
<polyline points="179.8,126.3 181.9,122.7 182.4,117.6 183.9,114.6 185.4,112.5 185.9,109.5" fill="none" stroke="#2d2d2d" stroke-width="0.85" stroke-linejoin="round"/>
<polyline points="179.8,126.3 182.4,129.9 181.4,135.0 179.8,139.1 176.8,141.1 171.6,143.2 166.5,145.2 162.9,146.3" fill="none" stroke="#2d2d2d" stroke-width="0.85" stroke-linejoin="round"/>
<polyline points="162.9,146.3 168.1,158.1" fill="none" stroke="#2d2d2d" stroke-width="0.85" stroke-linejoin="round"/>
<polyline points="162.9,146.3 153.7,146.9 143.1,150.2 136.6,160.0 132.0,164.0 132.0,158.7 127.4,156.1 120.8,154.1 114.2,154.8 110.3,155.3" fill="none" stroke="#2d2d2d" stroke-width="0.85" stroke-linejoin="round"/>
<polygon points="70.3,74.5 71.8,74.3 71.5,78.3 70.2,78.6 69.8,76.5" fill="none" stroke="#3a3a3a" stroke-width="0.6"/>
<polygon points="22.7,20.8 25.0,20.1 27.3,19.7 31.4,20.1 32.4,22.5 34.4,23.9 37.0,24.6 40.5,25.2 45.8,25.3 50.1,23.6 54.5,21.4 58.9,20.5 64.2,20.5 69.3,20.1 72.8,22.1 76.3,23.3 79.8,23.9 84.5,25.6 90.3,26.5 96.1,26.0 100.8,24.8 105.5,23.3 111.3,22.5 114.8,24.5 117.7,27.4 117.7,30.3 121.2,32.1 124.7,35.0 127.7,36.7 131.2,37.3 134.7,35.6 138.2,33.8 140.7,33.4 142.7,35.3 145.3,39.3 146.6,43.2 151.9,45.2 157.1,48.5 162.4,49.8 169.0,48.5 173.6,47.2 176.8,43.9 182.1,41.9 188.7,41.3 193.9,42.6 199.2,44.5 204.4,47.2 209.7,49.1 213.0,50.4 213.6,55.1 211.0,59.0 209.7,62.9 211.0,68.2 210.2,72.2 210.9,77.2 215.1,78.6 216.2,80.0 213.7,83.5 211.3,86.7 213.0,89.2 215.9,92.7 220.1,94.8 221.5,96.2 221.9,100.5 223.6,101.2 223.3,103.3 219.4,104.7 216.2,105.4 215.5,109.7 214.8,112.5 211.6,111.8 207.4,111.0 200.3,109.9 193.1,108.9 191.1,106.9 190.0,103.3 187.0,102.3 182.9,103.3 178.8,104.9 173.7,103.3 167.6,100.3 162.5,97.2 158.7,94.9 155.1,88.7 151.6,84.4 146.4,83.5 144.6,87.0 142.5,86.3 141.1,87.0 142.9,90.5 142.0,93.1 144.6,95.7 146.1,99.2 149.2,101.8 152.2,105.4 154.3,108.4 155.6,109.8 156.3,107.4 158.4,106.9 160.4,108.4 159.9,113.6 158.4,115.6 161.4,117.6 165.5,118.7 171.6,118.1 175.7,116.6 178.8,113.6 181.9,110.5 184.9,107.4 186.0,106.4 186.5,109.5 187.0,115.1 189.0,116.6 193.1,119.2 198.2,121.2 201.8,123.8 204.9,126.8 204.3,129.9 201.3,134.0 198.2,136.0 196.2,140.1 194.1,144.2 190.4,146.9 185.2,150.9 179.9,154.8 173.4,157.4 166.8,160.0 164.2,162.7 158.9,166.0 152.3,168.6 145.8,171.9 140.5,173.8 133.9,175.8 127.4,177.8 120.8,180.4 115.6,179.8 114.2,174.5 112.9,169.2 112.3,164.0 111.6,158.7 109.0,153.5 105.0,148.2 101.1,141.7 96.9,137.9 93.0,134.0 91.7,127.4 90.3,122.8 85.1,118.2 82.5,114.2 79.8,109.0 75.2,102.4 72.0,97.2 70.0,90.6 69.3,89.5 68.7,90.2 67.5,93.5 66.7,97.2 66.0,97.8 63.5,94.0 60.5,90.5 57.5,87.0 56.5,86.2 55.8,87.0 58.0,90.5 61.0,94.5 62.8,97.5 65.4,103.7 69.3,111.6 73.3,118.2 73.9,122.1 77.2,126.1 79.8,129.4 15.2,129.4 15.2,87.0 14.0,86.0 13.2,84.0 13.5,80.0 14.3,77.8 15.0,77.1 19.7,77.1 25.5,77.7 31.4,79.5 37.2,81.2 41.9,79.5 47.7,77.5 52.4,78.3 57.1,79.8 61.7,79.5 66.0,79.3 67.5,77.1 68.6,74.9 69.7,70.6 71.5,66.9 73.3,63.3 74.4,59.6 74.1,55.2 75.1,52.3 75.9,50.1 74.0,49.4 70.4,49.0 66.7,50.1 63.1,51.6 61.5,51.6 57.2,52.9 53.6,51.6 51.0,49.9 47.5,49.0 44.9,50.7 41.4,52.5 38.8,52.1 36.1,49.9 32.6,49.0 29.1,49.4 27.8,47.2 26.9,45.1 25.6,42.0 22.6,40.7 22.6,38.5 23.4,35.4 21.5,34.4 21.6,30.3 21.2,27.3 23.2,24.5 22.7,21.8" fill="none" stroke="#2d2d2d" stroke-width="0.85" stroke-linejoin="round"/>
<circle cx="24.30" cy="22.33" r="1.25" fill="#3a63ff"/>
<circle cx="24.30" cy="25.06" r="1.25" fill="#3a63ff"/>
<circle cx="29.74" cy="25.06" r="1.25" fill="#3a63ff"/>
<circle cx="32.46" cy="25.06" r="1.25" fill="#3a63ff"/>
<circle cx="21.58" cy="27.79" r="1.25" fill="#3a63ff"/>
<circle cx="24.30" cy="30.52" r="1.25" fill="#3a63ff"/>
<circle cx="27.02" cy="30.52" r="1.25" fill="#3a63ff"/>
<circle cx="29.74" cy="30.52" r="1.25" fill="#3a63ff"/>
<circle cx="32.46" cy="30.52" r="1.25" fill="#3a63ff"/>
<circle cx="24.30" cy="33.25" r="1.25" fill="#3a63ff"/>
<circle cx="27.02" cy="33.25" r="1.25" fill="#3a63ff"/>
<circle cx="29.74" cy="33.25" r="1.25" fill="#3a63ff"/>
<circle cx="32.46" cy="33.25" r="1.25" fill="#3a63ff"/>
<circle cx="29.74" cy="35.98" r="1.25" fill="#3a63ff"/>
<circle cx="32.46" cy="35.98" r="1.25" fill="#3a63ff"/>
<circle cx="35.18" cy="38.71" r="1.25" fill="#3a63ff"/>
<circle cx="37.90" cy="41.44" r="1.25" fill="#3a63ff"/>
<circle cx="37.90" cy="44.17" r="1.25" fill="#3a63ff"/>
<circle cx="40.62" cy="44.17" r="1.25" fill="#3a63ff"/>
<circle cx="40.62" cy="46.90" r="1.25" fill="#3a63ff"/>
<circle cx="40.62" cy="49.63" r="1.25" fill="#3a63ff"/>
<circle cx="81.42" cy="49.63" r="1.25" fill="#3a63ff"/>
<circle cx="133.10" cy="60.55" r="1.25" fill="#3a63ff"/>
<circle cx="135.82" cy="63.28" r="1.25" fill="#3a63ff"/>
<circle cx="95.02" cy="46.90" r="1.25" fill="#f4f5f0"/>
<path d="M95.02,45.65a1.25,1.25 0 0 0 0,2.5z" fill="#3a63ff"/>
<circle cx="97.74" cy="46.90" r="1.25" fill="#f4f5f0"/>
<path d="M97.74,45.65a1.25,1.25 0 0 0 0,2.5z" fill="#3a63ff"/>
<circle cx="100.46" cy="46.90" r="1.25" fill="#f4f5f0"/>
<path d="M100.46,45.65a1.25,1.25 0 0 0 0,2.5z" fill="#3a63ff"/>
<circle cx="111.34" cy="49.63" r="1.25" fill="#f4f5f0"/>
<path d="M111.34,48.38a1.25,1.25 0 0 0 0,2.5z" fill="#3a63ff"/>
<circle cx="111.34" cy="49.63" r="1.25" fill="#f4f5f0"/>
<path d="M111.34,48.38a1.25,1.25 0 0 0 0,2.5z" fill="#3a63ff"/>
<circle cx="119.50" cy="52.36" r="1.25" fill="#f4f5f0"/>
<path d="M119.50,51.11a1.25,1.25 0 0 0 0,2.5z" fill="#3a63ff"/>
<circle cx="163.02" cy="52.36" r="1.25" fill="#f4f5f0"/>
<path d="M163.02,51.11a1.25,1.25 0 0 0 0,2.5z" fill="#3a63ff"/>
<circle cx="165.74" cy="52.36" r="1.25" fill="#f4f5f0"/>
<path d="M165.74,51.11a1.25,1.25 0 0 0 0,2.5z" fill="#3a63ff"/>
<circle cx="165.74" cy="57.82" r="1.25" fill="#f4f5f0"/>
<path d="M165.74,56.57a1.25,1.25 0 0 0 0,2.5z" fill="#3a63ff"/>
<circle cx="168.46" cy="63.28" r="1.25" fill="#f4f5f0"/>
<path d="M168.46,62.03a1.25,1.25 0 0 0 0,2.5z" fill="#3a63ff"/>
<circle cx="160.30" cy="71.47" r="1.25" fill="#f4f5f0"/>
<path d="M160.30,70.22a1.25,1.25 0 0 0 0,2.5z" fill="#3a63ff"/>
<circle cx="201.10" cy="49.63" r="1.25" fill="#f4f5f0"/>
<path d="M201.10,48.38a1.25,1.25 0 0 0 0,2.5z" fill="#3a63ff"/>
<circle cx="203.82" cy="49.63" r="1.25" fill="#f4f5f0"/>
<path d="M203.82,48.38a1.25,1.25 0 0 0 0,2.5z" fill="#3a63ff"/>
<circle cx="203.82" cy="52.36" r="1.25" fill="#f4f5f0"/>
<path d="M203.82,51.11a1.25,1.25 0 0 0 0,2.5z" fill="#3a63ff"/>
<circle cx="209.26" cy="52.36" r="1.25" fill="#f4f5f0"/>
<path d="M209.26,51.11a1.25,1.25 0 0 0 0,2.5z" fill="#3a63ff"/>
<circle cx="203.82" cy="57.82" r="1.25" fill="#f4f5f0"/>
<path d="M203.82,56.57a1.25,1.25 0 0 0 0,2.5z" fill="#3a63ff"/>
<circle cx="130.38" cy="74.20" r="1.25" fill="#ee1b14"/>
<circle cx="124.94" cy="79.66" r="1.25" fill="#ee1b14"/>
<circle cx="138.54" cy="76.93" r="1.25" fill="#ee1b14"/>
<circle cx="143.98" cy="79.66" r="1.25" fill="#ee1b14"/>
<circle cx="143.98" cy="85.12" r="1.25" fill="#ee1b14"/>
<circle cx="133.10" cy="93.31" r="1.25" fill="#ee1b14"/>
<circle cx="135.82" cy="101.50" r="1.25" fill="#ee1b14"/>
<circle cx="135.82" cy="104.23" r="1.25" fill="#ee1b14"/>
<circle cx="138.54" cy="109.69" r="1.25" fill="#ee1b14"/>
<circle cx="211.98" cy="98.77" r="1.25" fill="#ee1b14"/>
<circle cx="97.74" cy="117.88" r="1.25" fill="#ee1b14"/>
<circle cx="133.10" cy="93.31" r="1.25" fill="#ee1b14"/>
<circle cx="135.82" cy="101.50" r="1.25" fill="#ee1b14"/>
<circle cx="135.82" cy="104.23" r="1.25" fill="#ee1b14"/>
<circle cx="138.54" cy="106.96" r="1.25" fill="#ee1b14"/>
<circle cx="138.54" cy="109.69" r="1.25" fill="#ee1b14"/>
<circle cx="138.54" cy="112.42" r="1.25" fill="#ee1b14"/>
<circle cx="138.54" cy="120.61" r="1.25" fill="#ee1b14"/>
<circle cx="135.82" cy="123.34" r="1.25" fill="#ee1b14"/>
<circle cx="133.10" cy="126.07" r="1.25" fill="#ee1b14"/>
<circle cx="135.82" cy="126.07" r="1.25" fill="#ee1b14"/>
<circle cx="135.82" cy="128.80" r="1.25" fill="#ee1b14"/>
<circle cx="135.82" cy="134.26" r="1.25" fill="#ee1b14"/>
<circle cx="141.26" cy="142.45" r="1.25" fill="#ee1b14"/>
<circle cx="141.26" cy="145.18" r="1.25" fill="#ee1b14"/>
<circle cx="141.26" cy="147.91" r="1.25" fill="#ee1b14"/>
<circle cx="141.26" cy="150.64" r="1.25" fill="#ee1b14"/>
<circle cx="54.22" cy="109.69" r="1.25" fill="#f4f5f0"/>
<path d="M54.22,108.44a1.25,1.25 0 0 0 0,2.5z" fill="#ee1b14"/>
<circle cx="59.66" cy="104.23" r="1.25" fill="#f4f5f0"/>
<path d="M59.66,102.98a1.25,1.25 0 0 0 0,2.5z" fill="#ee1b14"/>
<circle cx="65.10" cy="106.96" r="1.25" fill="#f4f5f0"/>
<path d="M65.10,105.71a1.25,1.25 0 0 0 0,2.5z" fill="#ee1b14"/>
<circle cx="59.66" cy="126.07" r="1.25" fill="#f4f5f0"/>
<path d="M59.66,124.82a1.25,1.25 0 0 0 0,2.5z" fill="#ee1b14"/>
<circle cx="62.38" cy="128.80" r="1.25" fill="#f4f5f0"/>
<path d="M62.38,127.55a1.25,1.25 0 0 0 0,2.5z" fill="#ee1b14"/>
<circle cx="81.42" cy="106.96" r="1.25" fill="#f4f5f0"/>
<path d="M81.42,105.71a1.25,1.25 0 0 0 0,2.5z" fill="#ee1b14"/>
<circle cx="84.14" cy="106.96" r="1.25" fill="#f4f5f0"/>
<path d="M84.14,105.71a1.25,1.25 0 0 0 0,2.5z" fill="#ee1b14"/>
<circle cx="116.78" cy="147.91" r="1.25" fill="#f4f5f0"/>
<path d="M116.78,146.66a1.25,1.25 0 0 0 0,2.5z" fill="#ee1b14"/>
<circle cx="119.50" cy="158.83" r="1.25" fill="#f4f5f0"/>
<path d="M119.50,157.58a1.25,1.25 0 0 0 0,2.5z" fill="#ee1b14"/>
<circle cx="119.50" cy="161.56" r="1.25" fill="#f4f5f0"/>
<path d="M119.50,160.31a1.25,1.25 0 0 0 0,2.5z" fill="#ee1b14"/>
<circle cx="119.50" cy="164.29" r="1.25" fill="#f4f5f0"/>
<path d="M119.50,163.04a1.25,1.25 0 0 0 0,2.5z" fill="#ee1b14"/>
<circle cx="122.22" cy="167.02" r="1.25" fill="#f4f5f0"/>
<path d="M122.22,165.77a1.25,1.25 0 0 0 0,2.5z" fill="#ee1b14"/>
<circle cx="124.94" cy="167.02" r="1.25" fill="#f4f5f0"/>
<path d="M124.94,165.77a1.25,1.25 0 0 0 0,2.5z" fill="#ee1b14"/>
<circle cx="127.66" cy="167.02" r="1.25" fill="#f4f5f0"/>
<path d="M127.66,165.77a1.25,1.25 0 0 0 0,2.5z" fill="#ee1b14"/>
<circle cx="133.10" cy="167.02" r="1.25" fill="#f4f5f0"/>
<path d="M133.10,165.77a1.25,1.25 0 0 0 0,2.5z" fill="#ee1b14"/>
<circle cx="135.82" cy="164.29" r="1.25" fill="#f4f5f0"/>
<path d="M135.82,163.04a1.25,1.25 0 0 0 0,2.5z" fill="#ee1b14"/>
<circle cx="184.78" cy="150.64" r="1.25" fill="#f4f5f0"/>
<path d="M184.78,149.39a1.25,1.25 0 0 0 0,2.5z" fill="#ee1b14"/>
<circle cx="187.50" cy="147.91" r="1.25" fill="#f4f5f0"/>
<path d="M187.50,146.66a1.25,1.25 0 0 0 0,2.5z" fill="#ee1b14"/>
<circle cx="192.94" cy="145.18" r="1.25" fill="#f4f5f0"/>
<path d="M192.94,143.93a1.25,1.25 0 0 0 0,2.5z" fill="#ee1b14"/>
</g>
<text x="0" y="0" transform="translate(5.20,229.20) rotate(-90)" class="ax">40°N</text>
<text x="0" y="0" transform="translate(5.20,283.80) rotate(-90)" class="ax">30°N</text>
<text x="0" y="0" transform="translate(5.20,338.40) rotate(-90)" class="ax">20°N</text>
<text x="42.80" y="393.90" class="ax2">30°E</text>
<text x="124.60" y="393.90" class="ax2">45°E</text>
<text x="206.00" y="393.90" class="ax2">60°E</text>
<text x="222.60" y="208.10" class="pl">(d)</text>
<rect x="234.3" y="199.3" width="220.3" height="190.0" fill="none" stroke="#8c8c8c" stroke-width="1"/>
<g transform="translate(228.90,197.80)">
<polygon points="22.7,20.8 25.0,20.1 27.3,19.7 31.4,20.1 32.4,22.5 34.4,23.9 37.0,24.6 40.5,25.2 45.8,25.3 50.1,23.6 54.5,21.4 58.9,20.5 64.2,20.5 69.3,20.1 72.8,22.1 76.3,23.3 79.8,23.9 84.5,25.6 90.3,26.5 96.1,26.0 100.8,24.8 105.5,23.3 111.3,22.5 114.8,24.5 117.7,27.4 117.7,30.3 121.2,32.1 124.7,35.0 127.7,36.7 131.2,37.3 134.7,35.6 138.2,33.8 140.7,33.4 142.7,35.3 145.3,39.3 146.6,43.2 151.9,45.2 157.1,48.5 162.4,49.8 169.0,48.5 173.6,47.2 176.8,43.9 182.1,41.9 188.7,41.3 193.9,42.6 199.2,44.5 204.4,47.2 209.7,49.1 213.0,50.4 213.6,55.1 211.0,59.0 209.7,62.9 211.0,68.2 210.2,72.2 210.9,77.2 215.1,78.6 216.2,80.0 213.7,83.5 211.3,86.7 213.0,89.2 215.9,92.7 220.1,94.8 221.5,96.2 221.9,100.5 223.6,101.2 223.3,103.3 219.4,104.7 216.2,105.4 215.5,109.7 214.8,112.5 211.6,111.8 207.4,111.0 200.3,109.9 193.1,108.9 191.1,106.9 190.0,103.3 187.0,102.3 182.9,103.3 178.8,104.9 173.7,103.3 167.6,100.3 162.5,97.2 158.7,94.9 155.1,88.7 151.6,84.4 146.4,83.5 144.6,87.0 142.5,86.3 141.1,87.0 142.9,90.5 142.0,93.1 144.6,95.7 146.1,99.2 149.2,101.8 152.2,105.4 154.3,108.4 155.6,109.8 156.3,107.4 158.4,106.9 160.4,108.4 159.9,113.6 158.4,115.6 161.4,117.6 165.5,118.7 171.6,118.1 175.7,116.6 178.8,113.6 181.9,110.5 184.9,107.4 186.0,106.4 186.5,109.5 187.0,115.1 189.0,116.6 193.1,119.2 198.2,121.2 201.8,123.8 204.9,126.8 204.3,129.9 201.3,134.0 198.2,136.0 196.2,140.1 194.1,144.2 190.4,146.9 185.2,150.9 179.9,154.8 173.4,157.4 166.8,160.0 164.2,162.7 158.9,166.0 152.3,168.6 145.8,171.9 140.5,173.8 133.9,175.8 127.4,177.8 120.8,180.4 115.6,179.8 114.2,174.5 112.9,169.2 112.3,164.0 111.6,158.7 109.0,153.5 105.0,148.2 101.1,141.7 96.9,137.9 93.0,134.0 91.7,127.4 90.3,122.8 85.1,118.2 82.5,114.2 79.8,109.0 75.2,102.4 72.0,97.2 70.0,90.6 69.3,89.5 68.7,90.2 67.5,93.5 66.7,97.2 66.0,97.8 63.5,94.0 60.5,90.5 57.5,87.0 56.5,86.2 55.8,87.0 58.0,90.5 61.0,94.5 62.8,97.5 65.4,103.7 69.3,111.6 73.3,118.2 73.9,122.1 77.2,126.1 79.8,129.4 15.2,129.4 15.2,87.0 14.0,86.0 13.2,84.0 13.5,80.0 14.3,77.8 15.0,77.1 19.7,77.1 25.5,77.7 31.4,79.5 37.2,81.2 41.9,79.5 47.7,77.5 52.4,78.3 57.1,79.8 61.7,79.5 66.0,79.3 67.5,77.1 68.6,74.9 69.7,70.6 71.5,66.9 73.3,63.3 74.4,59.6 74.1,55.2 75.1,52.3 75.9,50.1 74.0,49.4 70.4,49.0 66.7,50.1 63.1,51.6 61.5,51.6 57.2,52.9 53.6,51.6 51.0,49.9 47.5,49.0 44.9,50.7 41.4,52.5 38.8,52.1 36.1,49.9 32.6,49.0 29.1,49.4 27.8,47.2 26.9,45.1 25.6,42.0 22.6,40.7 22.6,38.5 23.4,35.4 21.5,34.4 21.6,30.3 21.2,27.3 23.2,24.5 22.7,21.8" fill="url(#pg)"/>
<g clip-path="url(#land)">
<polygon points="16.9,15.7 125.0,10.0 150.0,25.0 166.3,48.5 166.6,66.9 163.0,70.2 155.8,72.8 149.2,70.8 142.7,68.2 136.1,66.2 155.2,72.1 146.4,69.9 141.1,67.3 135.4,64.6 132.4,62.0 129.7,59.8 121.8,47.2 110.2,46.1 99.0,47.4 92.0,48.0 85.0,48.6 79.5,49.4 78.4,50.9 77.0,53.0 75.1,53.0 70.0,56.0 40.5,57.7 39.2,42.0 33.9,41.1 33.9,29.7 20.4,29.7 16.9,29.7" fill="url(#pc)"/>
<polygon points="73.0,103.0 83.1,108.5 87.5,109.4 91.9,113.7 97.2,118.1 101.5,124.2 105.9,129.5 110.3,134.8 113.8,141.8 116.4,147.9 117.8,154.0 118.5,167.2 126.9,168.4 132.2,167.5 136.6,166.3 137.5,159.3 140.1,152.3 139.2,143.5 138.3,136.5 136.6,127.7 137.5,117.2 136.6,108.5 135.7,96.2 132.2,90.1 128.7,85.7 132.4,91.4 124.1,88.7 124.1,76.0 141.1,76.0 143.8,81.7 150.0,92.0 160.0,99.0 159.1,92.1 162.4,95.1 172.9,95.3 179.5,97.7 207.0,97.7 214.9,99.0 220.2,101.9 222.0,112.0 230.0,125.0 230.0,195.0 100.0,195.0 92.0,140.0" fill="url(#pp)"/>
<polygon points="53.4,112.0 57.7,106.4 63.0,105.5 68.3,108.5 74.4,115.5 86.6,133.0 62.1,133.0 56.9,125.1 53.4,119.9" fill="url(#pp)"/>
</g>
<polygon points="25.5,28.3 28.0,27.2 32.0,26.2 36.5,26.5 40.5,27.3 38.0,28.3 34.0,28.9 29.0,29.2" fill="#fff" stroke="#333" stroke-width="0.6"/>
<polyline points="75.1,53.0 77.0,53.0 78.4,50.9 79.5,49.4 85.0,48.6 92.0,48.0 99.0,47.4 105.5,46.9 109.8,46.5" fill="none" stroke="#2d2d2d" stroke-width="0.85" stroke-linejoin="round"/>
<polyline points="109.8,46.5 114.8,46.3 119.5,46.7 121.8,46.7" fill="none" stroke="#2d2d2d" stroke-width="0.85" stroke-linejoin="round"/>
<polyline points="120.5,32.5 119.5,35.6 120.1,39.1 121.2,42.6 121.8,46.7" fill="none" stroke="#2d2d2d" stroke-width="0.85" stroke-linejoin="round"/>
<polyline points="121.8,46.7 124.2,49.6 127.1,52.5 130.0,54.2 131.2,54.8 129.4,57.2 127.1,60.7 127.1,64.2 130.6,68.6 135.0,71.2 138.5,74.7 140.3,78.2 141.1,81.7 142.4,84.4 144.6,87.0" fill="none" stroke="#2d2d2d" stroke-width="0.85" stroke-linejoin="round"/>
<polyline points="109.8,46.5 106.9,50.1 104.0,54.5 103.2,61.4 96.1,64.8 90.8,67.6" fill="none" stroke="#2d2d2d" stroke-width="0.85" stroke-linejoin="round"/>
<polyline points="90.8,67.6 79.2,73.1 72.6,71.3" fill="none" stroke="#2d2d2d" stroke-width="0.85" stroke-linejoin="round"/>
<polyline points="74.2,60.0 77.7,60.7 78.4,62.5 74.0,69.1 72.6,71.3" fill="none" stroke="#2d2d2d" stroke-width="0.85" stroke-linejoin="round"/>
<polyline points="70.2,70.8 72.6,71.3" fill="none" stroke="#2d2d2d" stroke-width="0.85" stroke-linejoin="round"/>
<polyline points="72.6,71.3 71.8,74.0 71.2,78.0 70.6,82.0 70.0,86.0 69.3,89.5" fill="none" stroke="#2d2d2d" stroke-width="0.85" stroke-linejoin="round"/>
<polyline points="66.0,79.3 69.3,89.5" fill="none" stroke="#2d2d2d" stroke-width="0.85" stroke-linejoin="round"/>
<polyline points="90.8,67.6 91.9,73.8" fill="none" stroke="#2d2d2d" stroke-width="0.85" stroke-linejoin="round"/>
<polyline points="91.9,73.8 82.5,76.8 81.2,78.0 85.1,81.4 83.8,84.0 78.5,88.0 74.6,90.6 70.0,90.3" fill="none" stroke="#2d2d2d" stroke-width="0.85" stroke-linejoin="round"/>
<polyline points="91.9,73.8 98.2,76.1 101.1,76.6 104.8,79.4 112.7,84.0 114.9,85.2 120.6,89.3 122.7,90.5 132.4,90.9" fill="none" stroke="#2d2d2d" stroke-width="0.85" stroke-linejoin="round"/>
<polyline points="132.4,90.9 135.0,86.1 141.1,86.1" fill="none" stroke="#2d2d2d" stroke-width="0.85" stroke-linejoin="round"/>
<polyline points="132.4,90.9 139.4,93.1 142.3,93.3" fill="none" stroke="#2d2d2d" stroke-width="0.85" stroke-linejoin="round"/>
<polyline points="155.6,109.8 157.2,113.8 158.4,115.6" fill="none" stroke="#2d2d2d" stroke-width="0.85" stroke-linejoin="round"/>
<polyline points="161.4,117.6 164.0,122.2 165.5,124.3 171.6,124.8 179.8,126.3" fill="none" stroke="#2d2d2d" stroke-width="0.85" stroke-linejoin="round"/>
<polyline points="179.8,126.3 181.9,122.7 182.4,117.6 183.9,114.6 185.4,112.5 185.9,109.5" fill="none" stroke="#2d2d2d" stroke-width="0.85" stroke-linejoin="round"/>
<polyline points="179.8,126.3 182.4,129.9 181.4,135.0 179.8,139.1 176.8,141.1 171.6,143.2 166.5,145.2 162.9,146.3" fill="none" stroke="#2d2d2d" stroke-width="0.85" stroke-linejoin="round"/>
<polyline points="162.9,146.3 168.1,158.1" fill="none" stroke="#2d2d2d" stroke-width="0.85" stroke-linejoin="round"/>
<polyline points="162.9,146.3 153.7,146.9 143.1,150.2 136.6,160.0 132.0,164.0 132.0,158.7 127.4,156.1 120.8,154.1 114.2,154.8 110.3,155.3" fill="none" stroke="#2d2d2d" stroke-width="0.85" stroke-linejoin="round"/>
<polygon points="70.3,74.5 71.8,74.3 71.5,78.3 70.2,78.6 69.8,76.5" fill="none" stroke="#3a3a3a" stroke-width="0.6"/>
<polygon points="22.7,20.8 25.0,20.1 27.3,19.7 31.4,20.1 32.4,22.5 34.4,23.9 37.0,24.6 40.5,25.2 45.8,25.3 50.1,23.6 54.5,21.4 58.9,20.5 64.2,20.5 69.3,20.1 72.8,22.1 76.3,23.3 79.8,23.9 84.5,25.6 90.3,26.5 96.1,26.0 100.8,24.8 105.5,23.3 111.3,22.5 114.8,24.5 117.7,27.4 117.7,30.3 121.2,32.1 124.7,35.0 127.7,36.7 131.2,37.3 134.7,35.6 138.2,33.8 140.7,33.4 142.7,35.3 145.3,39.3 146.6,43.2 151.9,45.2 157.1,48.5 162.4,49.8 169.0,48.5 173.6,47.2 176.8,43.9 182.1,41.9 188.7,41.3 193.9,42.6 199.2,44.5 204.4,47.2 209.7,49.1 213.0,50.4 213.6,55.1 211.0,59.0 209.7,62.9 211.0,68.2 210.2,72.2 210.9,77.2 215.1,78.6 216.2,80.0 213.7,83.5 211.3,86.7 213.0,89.2 215.9,92.7 220.1,94.8 221.5,96.2 221.9,100.5 223.6,101.2 223.3,103.3 219.4,104.7 216.2,105.4 215.5,109.7 214.8,112.5 211.6,111.8 207.4,111.0 200.3,109.9 193.1,108.9 191.1,106.9 190.0,103.3 187.0,102.3 182.9,103.3 178.8,104.9 173.7,103.3 167.6,100.3 162.5,97.2 158.7,94.9 155.1,88.7 151.6,84.4 146.4,83.5 144.6,87.0 142.5,86.3 141.1,87.0 142.9,90.5 142.0,93.1 144.6,95.7 146.1,99.2 149.2,101.8 152.2,105.4 154.3,108.4 155.6,109.8 156.3,107.4 158.4,106.9 160.4,108.4 159.9,113.6 158.4,115.6 161.4,117.6 165.5,118.7 171.6,118.1 175.7,116.6 178.8,113.6 181.9,110.5 184.9,107.4 186.0,106.4 186.5,109.5 187.0,115.1 189.0,116.6 193.1,119.2 198.2,121.2 201.8,123.8 204.9,126.8 204.3,129.9 201.3,134.0 198.2,136.0 196.2,140.1 194.1,144.2 190.4,146.9 185.2,150.9 179.9,154.8 173.4,157.4 166.8,160.0 164.2,162.7 158.9,166.0 152.3,168.6 145.8,171.9 140.5,173.8 133.9,175.8 127.4,177.8 120.8,180.4 115.6,179.8 114.2,174.5 112.9,169.2 112.3,164.0 111.6,158.7 109.0,153.5 105.0,148.2 101.1,141.7 96.9,137.9 93.0,134.0 91.7,127.4 90.3,122.8 85.1,118.2 82.5,114.2 79.8,109.0 75.2,102.4 72.0,97.2 70.0,90.6 69.3,89.5 68.7,90.2 67.5,93.5 66.7,97.2 66.0,97.8 63.5,94.0 60.5,90.5 57.5,87.0 56.5,86.2 55.8,87.0 58.0,90.5 61.0,94.5 62.8,97.5 65.4,103.7 69.3,111.6 73.3,118.2 73.9,122.1 77.2,126.1 79.8,129.4 15.2,129.4 15.2,87.0 14.0,86.0 13.2,84.0 13.5,80.0 14.3,77.8 15.0,77.1 19.7,77.1 25.5,77.7 31.4,79.5 37.2,81.2 41.9,79.5 47.7,77.5 52.4,78.3 57.1,79.8 61.7,79.5 66.0,79.3 67.5,77.1 68.6,74.9 69.7,70.6 71.5,66.9 73.3,63.3 74.4,59.6 74.1,55.2 75.1,52.3 75.9,50.1 74.0,49.4 70.4,49.0 66.7,50.1 63.1,51.6 61.5,51.6 57.2,52.9 53.6,51.6 51.0,49.9 47.5,49.0 44.9,50.7 41.4,52.5 38.8,52.1 36.1,49.9 32.6,49.0 29.1,49.4 27.8,47.2 26.9,45.1 25.6,42.0 22.6,40.7 22.6,38.5 23.4,35.4 21.5,34.4 21.6,30.3 21.2,27.3 23.2,24.5 22.7,21.8" fill="none" stroke="#2d2d2d" stroke-width="0.85" stroke-linejoin="round"/>
<circle cx="29.74" cy="22.33" r="1.25" fill="#3a63ff"/>
<circle cx="29.74" cy="38.71" r="1.25" fill="#3a63ff"/>
<circle cx="32.46" cy="38.71" r="1.25" fill="#3a63ff"/>
<circle cx="35.18" cy="44.17" r="1.25" fill="#3a63ff"/>
<circle cx="78.70" cy="49.63" r="1.25" fill="#3a63ff"/>
<circle cx="95.02" cy="46.90" r="1.25" fill="#3a63ff"/>
<circle cx="160.30" cy="52.36" r="1.25" fill="#f4f5f0"/>
<path d="M160.30,51.11a1.25,1.25 0 0 0 0,2.5z" fill="#3a63ff"/>
<circle cx="163.02" cy="55.09" r="1.25" fill="#f4f5f0"/>
<path d="M163.02,53.84a1.25,1.25 0 0 0 0,2.5z" fill="#3a63ff"/>
<circle cx="163.02" cy="57.82" r="1.25" fill="#f4f5f0"/>
<path d="M163.02,56.57a1.25,1.25 0 0 0 0,2.5z" fill="#3a63ff"/>
<circle cx="165.74" cy="60.55" r="1.25" fill="#f4f5f0"/>
<path d="M165.74,59.30a1.25,1.25 0 0 0 0,2.5z" fill="#3a63ff"/>
<circle cx="165.74" cy="63.28" r="1.25" fill="#f4f5f0"/>
<path d="M165.74,62.03a1.25,1.25 0 0 0 0,2.5z" fill="#3a63ff"/>
<circle cx="165.74" cy="66.01" r="1.25" fill="#f4f5f0"/>
<path d="M165.74,64.76a1.25,1.25 0 0 0 0,2.5z" fill="#3a63ff"/>
<circle cx="163.02" cy="68.74" r="1.25" fill="#f4f5f0"/>
<path d="M163.02,67.49a1.25,1.25 0 0 0 0,2.5z" fill="#3a63ff"/>
<circle cx="157.58" cy="71.47" r="1.25" fill="#f4f5f0"/>
<path d="M157.58,70.22a1.25,1.25 0 0 0 0,2.5z" fill="#3a63ff"/>
<circle cx="146.70" cy="68.74" r="1.25" fill="#f4f5f0"/>
<path d="M146.70,67.49a1.25,1.25 0 0 0 0,2.5z" fill="#3a63ff"/>
<circle cx="141.26" cy="66.01" r="1.25" fill="#f4f5f0"/>
<path d="M141.26,64.76a1.25,1.25 0 0 0 0,2.5z" fill="#3a63ff"/>
<circle cx="203.82" cy="55.09" r="1.25" fill="#f4f5f0"/>
<path d="M203.82,53.84a1.25,1.25 0 0 0 0,2.5z" fill="#3a63ff"/>
<circle cx="206.54" cy="52.36" r="1.25" fill="#f4f5f0"/>
<path d="M206.54,51.11a1.25,1.25 0 0 0 0,2.5z" fill="#3a63ff"/>
<circle cx="206.54" cy="55.09" r="1.25" fill="#f4f5f0"/>
<path d="M206.54,53.84a1.25,1.25 0 0 0 0,2.5z" fill="#3a63ff"/>
<circle cx="206.54" cy="57.82" r="1.25" fill="#f4f5f0"/>
<path d="M206.54,56.57a1.25,1.25 0 0 0 0,2.5z" fill="#3a63ff"/>
<circle cx="209.26" cy="55.09" r="1.25" fill="#f4f5f0"/>
<path d="M209.26,53.84a1.25,1.25 0 0 0 0,2.5z" fill="#3a63ff"/>
<circle cx="133.10" cy="60.55" r="1.25" fill="#f4f5f0"/>
<path d="M133.10,59.30a1.25,1.25 0 0 0 0,2.5z" fill="#3a63ff"/>
<circle cx="135.82" cy="63.28" r="1.25" fill="#f4f5f0"/>
<path d="M135.82,62.03a1.25,1.25 0 0 0 0,2.5z" fill="#3a63ff"/>
<circle cx="141.26" cy="66.01" r="1.25" fill="#f4f5f0"/>
<path d="M141.26,64.76a1.25,1.25 0 0 0 0,2.5z" fill="#3a63ff"/>
<circle cx="146.70" cy="68.74" r="1.25" fill="#f4f5f0"/>
<path d="M146.70,67.49a1.25,1.25 0 0 0 0,2.5z" fill="#3a63ff"/>
<circle cx="130.38" cy="71.47" r="1.25" fill="#ee1b14"/>
<circle cx="127.66" cy="74.20" r="1.25" fill="#ee1b14"/>
<circle cx="133.10" cy="74.20" r="1.25" fill="#ee1b14"/>
<circle cx="124.94" cy="76.93" r="1.25" fill="#ee1b14"/>
<circle cx="141.26" cy="76.93" r="1.25" fill="#ee1b14"/>
<circle cx="146.70" cy="79.66" r="1.25" fill="#ee1b14"/>
<circle cx="211.98" cy="98.77" r="1.25" fill="#ee1b14"/>
<circle cx="138.54" cy="139.72" r="1.25" fill="#ee1b14"/>
<circle cx="141.26" cy="150.64" r="1.25" fill="#ee1b14"/>
<circle cx="184.78" cy="150.64" r="1.25" fill="#ee1b14"/>
<circle cx="187.50" cy="147.91" r="1.25" fill="#ee1b14"/>
<circle cx="192.94" cy="145.18" r="1.25" fill="#ee1b14"/>
<circle cx="138.54" cy="139.72" r="1.25" fill="#ee1b14"/>
<circle cx="56.94" cy="120.61" r="1.25" fill="#f4f5f0"/>
<path d="M56.94,119.36a1.25,1.25 0 0 0 0,2.5z" fill="#ee1b14"/>
<circle cx="59.66" cy="123.34" r="1.25" fill="#f4f5f0"/>
<path d="M59.66,122.09a1.25,1.25 0 0 0 0,2.5z" fill="#ee1b14"/>
<circle cx="92.30" cy="112.42" r="1.25" fill="#f4f5f0"/>
<path d="M92.30,111.17a1.25,1.25 0 0 0 0,2.5z" fill="#ee1b14"/>
<circle cx="97.74" cy="117.88" r="1.25" fill="#f4f5f0"/>
<path d="M97.74,116.63a1.25,1.25 0 0 0 0,2.5z" fill="#ee1b14"/>
<circle cx="103.18" cy="126.07" r="1.25" fill="#f4f5f0"/>
<path d="M103.18,124.82a1.25,1.25 0 0 0 0,2.5z" fill="#ee1b14"/>
<circle cx="105.90" cy="131.53" r="1.25" fill="#f4f5f0"/>
<path d="M105.90,130.28a1.25,1.25 0 0 0 0,2.5z" fill="#ee1b14"/>
<circle cx="108.62" cy="134.26" r="1.25" fill="#f4f5f0"/>
<path d="M108.62,133.01a1.25,1.25 0 0 0 0,2.5z" fill="#ee1b14"/>
<circle cx="111.34" cy="139.72" r="1.25" fill="#f4f5f0"/>
<path d="M111.34,138.47a1.25,1.25 0 0 0 0,2.5z" fill="#ee1b14"/>
<circle cx="114.06" cy="145.18" r="1.25" fill="#f4f5f0"/>
<path d="M114.06,143.93a1.25,1.25 0 0 0 0,2.5z" fill="#ee1b14"/>
<circle cx="114.06" cy="147.91" r="1.25" fill="#f4f5f0"/>
<path d="M114.06,146.66a1.25,1.25 0 0 0 0,2.5z" fill="#ee1b14"/>
<circle cx="116.78" cy="150.64" r="1.25" fill="#f4f5f0"/>
<path d="M116.78,149.39a1.25,1.25 0 0 0 0,2.5z" fill="#ee1b14"/>
<circle cx="116.78" cy="153.37" r="1.25" fill="#f4f5f0"/>
<path d="M116.78,152.12a1.25,1.25 0 0 0 0,2.5z" fill="#ee1b14"/>
<circle cx="116.78" cy="156.10" r="1.25" fill="#f4f5f0"/>
<path d="M116.78,154.85a1.25,1.25 0 0 0 0,2.5z" fill="#ee1b14"/>
<circle cx="116.78" cy="158.83" r="1.25" fill="#f4f5f0"/>
<path d="M116.78,157.58a1.25,1.25 0 0 0 0,2.5z" fill="#ee1b14"/>
<circle cx="114.06" cy="158.83" r="1.25" fill="#f4f5f0"/>
<path d="M114.06,157.58a1.25,1.25 0 0 0 0,2.5z" fill="#ee1b14"/>
<circle cx="114.06" cy="161.56" r="1.25" fill="#f4f5f0"/>
<path d="M114.06,160.31a1.25,1.25 0 0 0 0,2.5z" fill="#ee1b14"/>
<circle cx="127.66" cy="169.75" r="1.25" fill="#f4f5f0"/>
<path d="M127.66,168.50a1.25,1.25 0 0 0 0,2.5z" fill="#ee1b14"/>
<circle cx="133.10" cy="126.07" r="1.25" fill="#f4f5f0"/>
<path d="M133.10,124.82a1.25,1.25 0 0 0 0,2.5z" fill="#ee1b14"/>
<circle cx="141.26" cy="150.64" r="1.25" fill="#f4f5f0"/>
<path d="M141.26,149.39a1.25,1.25 0 0 0 0,2.5z" fill="#ee1b14"/>
<circle cx="138.54" cy="161.56" r="1.25" fill="#f4f5f0"/>
<path d="M138.54,160.31a1.25,1.25 0 0 0 0,2.5z" fill="#ee1b14"/>
</g>
<text x="0" y="0" transform="translate(234.00,229.20) rotate(-90)" class="ax">40°N</text>
<text x="0" y="0" transform="translate(234.00,283.80) rotate(-90)" class="ax">30°N</text>
<text x="0" y="0" transform="translate(234.00,338.40) rotate(-90)" class="ax">20°N</text>
<text x="271.60" y="393.90" class="ax2">30°E</text>
<text x="353.40" y="393.90" class="ax2">45°E</text>
<text x="434.80" y="393.90" class="ax2">60°E</text>
<text x="451.70" y="208.10" class="pl">(e)</text>
<rect x="463.4" y="199.3" width="220.2" height="189.9" fill="none" stroke="#8c8c8c" stroke-width="1"/>
<g transform="translate(458.00,197.80)">
<polygon points="22.7,20.8 25.0,20.1 27.3,19.7 31.4,20.1 32.4,22.5 34.4,23.9 37.0,24.6 40.5,25.2 45.8,25.3 50.1,23.6 54.5,21.4 58.9,20.5 64.2,20.5 69.3,20.1 72.8,22.1 76.3,23.3 79.8,23.9 84.5,25.6 90.3,26.5 96.1,26.0 100.8,24.8 105.5,23.3 111.3,22.5 114.8,24.5 117.7,27.4 117.7,30.3 121.2,32.1 124.7,35.0 127.7,36.7 131.2,37.3 134.7,35.6 138.2,33.8 140.7,33.4 142.7,35.3 145.3,39.3 146.6,43.2 151.9,45.2 157.1,48.5 162.4,49.8 169.0,48.5 173.6,47.2 176.8,43.9 182.1,41.9 188.7,41.3 193.9,42.6 199.2,44.5 204.4,47.2 209.7,49.1 213.0,50.4 213.6,55.1 211.0,59.0 209.7,62.9 211.0,68.2 210.2,72.2 210.9,77.2 215.1,78.6 216.2,80.0 213.7,83.5 211.3,86.7 213.0,89.2 215.9,92.7 220.1,94.8 221.5,96.2 221.9,100.5 223.6,101.2 223.3,103.3 219.4,104.7 216.2,105.4 215.5,109.7 214.8,112.5 211.6,111.8 207.4,111.0 200.3,109.9 193.1,108.9 191.1,106.9 190.0,103.3 187.0,102.3 182.9,103.3 178.8,104.9 173.7,103.3 167.6,100.3 162.5,97.2 158.7,94.9 155.1,88.7 151.6,84.4 146.4,83.5 144.6,87.0 142.5,86.3 141.1,87.0 142.9,90.5 142.0,93.1 144.6,95.7 146.1,99.2 149.2,101.8 152.2,105.4 154.3,108.4 155.6,109.8 156.3,107.4 158.4,106.9 160.4,108.4 159.9,113.6 158.4,115.6 161.4,117.6 165.5,118.7 171.6,118.1 175.7,116.6 178.8,113.6 181.9,110.5 184.9,107.4 186.0,106.4 186.5,109.5 187.0,115.1 189.0,116.6 193.1,119.2 198.2,121.2 201.8,123.8 204.9,126.8 204.3,129.9 201.3,134.0 198.2,136.0 196.2,140.1 194.1,144.2 190.4,146.9 185.2,150.9 179.9,154.8 173.4,157.4 166.8,160.0 164.2,162.7 158.9,166.0 152.3,168.6 145.8,171.9 140.5,173.8 133.9,175.8 127.4,177.8 120.8,180.4 115.6,179.8 114.2,174.5 112.9,169.2 112.3,164.0 111.6,158.7 109.0,153.5 105.0,148.2 101.1,141.7 96.9,137.9 93.0,134.0 91.7,127.4 90.3,122.8 85.1,118.2 82.5,114.2 79.8,109.0 75.2,102.4 72.0,97.2 70.0,90.6 69.3,89.5 68.7,90.2 67.5,93.5 66.7,97.2 66.0,97.8 63.5,94.0 60.5,90.5 57.5,87.0 56.5,86.2 55.8,87.0 58.0,90.5 61.0,94.5 62.8,97.5 65.4,103.7 69.3,111.6 73.3,118.2 73.9,122.1 77.2,126.1 79.8,129.4 15.2,129.4 15.2,87.0 14.0,86.0 13.2,84.0 13.5,80.0 14.3,77.8 15.0,77.1 19.7,77.1 25.5,77.7 31.4,79.5 37.2,81.2 41.9,79.5 47.7,77.5 52.4,78.3 57.1,79.8 61.7,79.5 66.0,79.3 67.5,77.1 68.6,74.9 69.7,70.6 71.5,66.9 73.3,63.3 74.4,59.6 74.1,55.2 75.1,52.3 75.9,50.1 74.0,49.4 70.4,49.0 66.7,50.1 63.1,51.6 61.5,51.6 57.2,52.9 53.6,51.6 51.0,49.9 47.5,49.0 44.9,50.7 41.4,52.5 38.8,52.1 36.1,49.9 32.6,49.0 29.1,49.4 27.8,47.2 26.9,45.1 25.6,42.0 22.6,40.7 22.6,38.5 23.4,35.4 21.5,34.4 21.6,30.3 21.2,27.3 23.2,24.5 22.7,21.8" fill="url(#pg)"/>
<g clip-path="url(#land)">
<polygon points="18.4,18.6 125.0,10.0 150.0,25.0 142.0,33.9 160.3,48.8 162.3,52.2 162.3,67.1 158.6,70.1 145.3,69.1 137.0,64.6 130.3,59.7 127.8,58.8 124.5,56.3 119.5,53.3 112.0,50.5 119.3,53.6 111.6,51.1 101.9,48.3 99.0,47.4 92.0,48.0 85.0,48.6 79.5,49.4 78.4,50.9 77.0,53.0 75.1,53.0 70.0,56.0 39.3,54.0 39.0,43.5 33.2,42.7 32.6,36.3 27.6,36.0 27.6,28.3 21.6,28.3 18.4,28.3" fill="url(#pc)"/>
<polygon points="73.0,103.0 83.2,108.5 88.4,110.2 92.8,114.6 98.1,119.0 102.4,124.2 105.9,129.5 109.4,134.8 112.1,140.0 114.7,145.3 116.5,152.3 118.2,159.3 120.8,164.2 129.6,164.9 133.1,159.3 134.0,152.3 132.2,143.5 130.5,134.8 131.3,128.6 134.8,125.1 138.4,120.7 139.2,113.7 137.5,105.0 134.8,96.2 133.1,89.2 132.2,84.0 132.0,89.1 124.0,83.0 124.0,71.8 130.3,70.1 146.9,77.1 148.9,83.8 150.0,92.0 160.0,99.0 159.4,92.6 166.9,93.4 171.9,96.8 178.6,97.6 211.9,97.6 215.5,101.8 219.3,107.1 222.0,112.0 230.0,125.0 230.0,195.0 100.0,195.0 92.0,140.0" fill="url(#pp)"/>
<polygon points="53.4,111.1 58.6,106.4 63.9,105.5 69.2,108.5 75.3,115.5 87.5,133.0 63.0,133.0 59.5,123.4 53.4,119.0" fill="url(#pp)"/>
</g>
<polygon points="25.5,28.3 28.0,27.2 32.0,26.2 36.5,26.5 40.5,27.3 38.0,28.3 34.0,28.9 29.0,29.2" fill="#fff" stroke="#333" stroke-width="0.6"/>
<polyline points="75.1,53.0 77.0,53.0 78.4,50.9 79.5,49.4 85.0,48.6 92.0,48.0 99.0,47.4 105.5,46.9 109.8,46.5" fill="none" stroke="#2d2d2d" stroke-width="0.85" stroke-linejoin="round"/>
<polyline points="109.8,46.5 114.8,46.3 119.5,46.7 121.8,46.7" fill="none" stroke="#2d2d2d" stroke-width="0.85" stroke-linejoin="round"/>
<polyline points="120.5,32.5 119.5,35.6 120.1,39.1 121.2,42.6 121.8,46.7" fill="none" stroke="#2d2d2d" stroke-width="0.85" stroke-linejoin="round"/>
<polyline points="121.8,46.7 124.2,49.6 127.1,52.5 130.0,54.2 131.2,54.8 129.4,57.2 127.1,60.7 127.1,64.2 130.6,68.6 135.0,71.2 138.5,74.7 140.3,78.2 141.1,81.7 142.4,84.4 144.6,87.0" fill="none" stroke="#2d2d2d" stroke-width="0.85" stroke-linejoin="round"/>
<polyline points="109.8,46.5 106.9,50.1 104.0,54.5 103.2,61.4 96.1,64.8 90.8,67.6" fill="none" stroke="#2d2d2d" stroke-width="0.85" stroke-linejoin="round"/>
<polyline points="90.8,67.6 79.2,73.1 72.6,71.3" fill="none" stroke="#2d2d2d" stroke-width="0.85" stroke-linejoin="round"/>
<polyline points="74.2,60.0 77.7,60.7 78.4,62.5 74.0,69.1 72.6,71.3" fill="none" stroke="#2d2d2d" stroke-width="0.85" stroke-linejoin="round"/>
<polyline points="70.2,70.8 72.6,71.3" fill="none" stroke="#2d2d2d" stroke-width="0.85" stroke-linejoin="round"/>
<polyline points="72.6,71.3 71.8,74.0 71.2,78.0 70.6,82.0 70.0,86.0 69.3,89.5" fill="none" stroke="#2d2d2d" stroke-width="0.85" stroke-linejoin="round"/>
<polyline points="66.0,79.3 69.3,89.5" fill="none" stroke="#2d2d2d" stroke-width="0.85" stroke-linejoin="round"/>
<polyline points="90.8,67.6 91.9,73.8" fill="none" stroke="#2d2d2d" stroke-width="0.85" stroke-linejoin="round"/>
<polyline points="91.9,73.8 82.5,76.8 81.2,78.0 85.1,81.4 83.8,84.0 78.5,88.0 74.6,90.6 70.0,90.3" fill="none" stroke="#2d2d2d" stroke-width="0.85" stroke-linejoin="round"/>
<polyline points="91.9,73.8 98.2,76.1 101.1,76.6 104.8,79.4 112.7,84.0 114.9,85.2 120.6,89.3 122.7,90.5 132.4,90.9" fill="none" stroke="#2d2d2d" stroke-width="0.85" stroke-linejoin="round"/>
<polyline points="132.4,90.9 135.0,86.1 141.1,86.1" fill="none" stroke="#2d2d2d" stroke-width="0.85" stroke-linejoin="round"/>
<polyline points="132.4,90.9 139.4,93.1 142.3,93.3" fill="none" stroke="#2d2d2d" stroke-width="0.85" stroke-linejoin="round"/>
<polyline points="155.6,109.8 157.2,113.8 158.4,115.6" fill="none" stroke="#2d2d2d" stroke-width="0.85" stroke-linejoin="round"/>
<polyline points="161.4,117.6 164.0,122.2 165.5,124.3 171.6,124.8 179.8,126.3" fill="none" stroke="#2d2d2d" stroke-width="0.85" stroke-linejoin="round"/>
<polyline points="179.8,126.3 181.9,122.7 182.4,117.6 183.9,114.6 185.4,112.5 185.9,109.5" fill="none" stroke="#2d2d2d" stroke-width="0.85" stroke-linejoin="round"/>
<polyline points="179.8,126.3 182.4,129.9 181.4,135.0 179.8,139.1 176.8,141.1 171.6,143.2 166.5,145.2 162.9,146.3" fill="none" stroke="#2d2d2d" stroke-width="0.85" stroke-linejoin="round"/>
<polyline points="162.9,146.3 168.1,158.1" fill="none" stroke="#2d2d2d" stroke-width="0.85" stroke-linejoin="round"/>
<polyline points="162.9,146.3 153.7,146.9 143.1,150.2 136.6,160.0 132.0,164.0 132.0,158.7 127.4,156.1 120.8,154.1 114.2,154.8 110.3,155.3" fill="none" stroke="#2d2d2d" stroke-width="0.85" stroke-linejoin="round"/>
<polygon points="70.3,74.5 71.8,74.3 71.5,78.3 70.2,78.6 69.8,76.5" fill="none" stroke="#3a3a3a" stroke-width="0.6"/>
<polygon points="22.7,20.8 25.0,20.1 27.3,19.7 31.4,20.1 32.4,22.5 34.4,23.9 37.0,24.6 40.5,25.2 45.8,25.3 50.1,23.6 54.5,21.4 58.9,20.5 64.2,20.5 69.3,20.1 72.8,22.1 76.3,23.3 79.8,23.9 84.5,25.6 90.3,26.5 96.1,26.0 100.8,24.8 105.5,23.3 111.3,22.5 114.8,24.5 117.7,27.4 117.7,30.3 121.2,32.1 124.7,35.0 127.7,36.7 131.2,37.3 134.7,35.6 138.2,33.8 140.7,33.4 142.7,35.3 145.3,39.3 146.6,43.2 151.9,45.2 157.1,48.5 162.4,49.8 169.0,48.5 173.6,47.2 176.8,43.9 182.1,41.9 188.7,41.3 193.9,42.6 199.2,44.5 204.4,47.2 209.7,49.1 213.0,50.4 213.6,55.1 211.0,59.0 209.7,62.9 211.0,68.2 210.2,72.2 210.9,77.2 215.1,78.6 216.2,80.0 213.7,83.5 211.3,86.7 213.0,89.2 215.9,92.7 220.1,94.8 221.5,96.2 221.9,100.5 223.6,101.2 223.3,103.3 219.4,104.7 216.2,105.4 215.5,109.7 214.8,112.5 211.6,111.8 207.4,111.0 200.3,109.9 193.1,108.9 191.1,106.9 190.0,103.3 187.0,102.3 182.9,103.3 178.8,104.9 173.7,103.3 167.6,100.3 162.5,97.2 158.7,94.9 155.1,88.7 151.6,84.4 146.4,83.5 144.6,87.0 142.5,86.3 141.1,87.0 142.9,90.5 142.0,93.1 144.6,95.7 146.1,99.2 149.2,101.8 152.2,105.4 154.3,108.4 155.6,109.8 156.3,107.4 158.4,106.9 160.4,108.4 159.9,113.6 158.4,115.6 161.4,117.6 165.5,118.7 171.6,118.1 175.7,116.6 178.8,113.6 181.9,110.5 184.9,107.4 186.0,106.4 186.5,109.5 187.0,115.1 189.0,116.6 193.1,119.2 198.2,121.2 201.8,123.8 204.9,126.8 204.3,129.9 201.3,134.0 198.2,136.0 196.2,140.1 194.1,144.2 190.4,146.9 185.2,150.9 179.9,154.8 173.4,157.4 166.8,160.0 164.2,162.7 158.9,166.0 152.3,168.6 145.8,171.9 140.5,173.8 133.9,175.8 127.4,177.8 120.8,180.4 115.6,179.8 114.2,174.5 112.9,169.2 112.3,164.0 111.6,158.7 109.0,153.5 105.0,148.2 101.1,141.7 96.9,137.9 93.0,134.0 91.7,127.4 90.3,122.8 85.1,118.2 82.5,114.2 79.8,109.0 75.2,102.4 72.0,97.2 70.0,90.6 69.3,89.5 68.7,90.2 67.5,93.5 66.7,97.2 66.0,97.8 63.5,94.0 60.5,90.5 57.5,87.0 56.5,86.2 55.8,87.0 58.0,90.5 61.0,94.5 62.8,97.5 65.4,103.7 69.3,111.6 73.3,118.2 73.9,122.1 77.2,126.1 79.8,129.4 15.2,129.4 15.2,87.0 14.0,86.0 13.2,84.0 13.5,80.0 14.3,77.8 15.0,77.1 19.7,77.1 25.5,77.7 31.4,79.5 37.2,81.2 41.9,79.5 47.7,77.5 52.4,78.3 57.1,79.8 61.7,79.5 66.0,79.3 67.5,77.1 68.6,74.9 69.7,70.6 71.5,66.9 73.3,63.3 74.4,59.6 74.1,55.2 75.1,52.3 75.9,50.1 74.0,49.4 70.4,49.0 66.7,50.1 63.1,51.6 61.5,51.6 57.2,52.9 53.6,51.6 51.0,49.9 47.5,49.0 44.9,50.7 41.4,52.5 38.8,52.1 36.1,49.9 32.6,49.0 29.1,49.4 27.8,47.2 26.9,45.1 25.6,42.0 22.6,40.7 22.6,38.5 23.4,35.4 21.5,34.4 21.6,30.3 21.2,27.3 23.2,24.5 22.7,21.8" fill="none" stroke="#2d2d2d" stroke-width="0.85" stroke-linejoin="round"/>
<circle cx="111.34" cy="49.63" r="1.25" fill="#3a63ff"/>
<circle cx="119.50" cy="52.36" r="1.25" fill="#3a63ff"/>
<circle cx="78.70" cy="49.63" r="1.25" fill="#3a63ff"/>
<circle cx="111.34" cy="49.63" r="1.25" fill="#3a63ff"/>
<circle cx="119.50" cy="52.36" r="1.25" fill="#3a63ff"/>
<circle cx="124.94" cy="55.09" r="1.25" fill="#3a63ff"/>
<circle cx="127.66" cy="57.82" r="1.25" fill="#3a63ff"/>
<circle cx="24.30" cy="22.33" r="1.25" fill="#f4f5f0"/>
<path d="M24.30,21.08a1.25,1.25 0 0 0 0,2.5z" fill="#3a63ff"/>
<circle cx="24.30" cy="25.06" r="1.25" fill="#f4f5f0"/>
<path d="M24.30,23.81a1.25,1.25 0 0 0 0,2.5z" fill="#3a63ff"/>
<circle cx="24.30" cy="30.52" r="1.25" fill="#f4f5f0"/>
<path d="M24.30,29.27a1.25,1.25 0 0 0 0,2.5z" fill="#3a63ff"/>
<circle cx="27.02" cy="30.52" r="1.25" fill="#f4f5f0"/>
<path d="M27.02,29.27a1.25,1.25 0 0 0 0,2.5z" fill="#3a63ff"/>
<circle cx="27.02" cy="33.25" r="1.25" fill="#f4f5f0"/>
<path d="M27.02,32.00a1.25,1.25 0 0 0 0,2.5z" fill="#3a63ff"/>
<circle cx="29.74" cy="22.33" r="1.25" fill="#f4f5f0"/>
<path d="M29.74,21.08a1.25,1.25 0 0 0 0,2.5z" fill="#3a63ff"/>
<circle cx="29.74" cy="25.06" r="1.25" fill="#f4f5f0"/>
<path d="M29.74,23.81a1.25,1.25 0 0 0 0,2.5z" fill="#3a63ff"/>
<circle cx="29.74" cy="30.52" r="1.25" fill="#f4f5f0"/>
<path d="M29.74,29.27a1.25,1.25 0 0 0 0,2.5z" fill="#3a63ff"/>
<circle cx="29.74" cy="33.25" r="1.25" fill="#f4f5f0"/>
<path d="M29.74,32.00a1.25,1.25 0 0 0 0,2.5z" fill="#3a63ff"/>
<circle cx="29.74" cy="35.98" r="1.25" fill="#f4f5f0"/>
<path d="M29.74,34.73a1.25,1.25 0 0 0 0,2.5z" fill="#3a63ff"/>
<circle cx="29.74" cy="38.71" r="1.25" fill="#f4f5f0"/>
<path d="M29.74,37.46a1.25,1.25 0 0 0 0,2.5z" fill="#3a63ff"/>
<circle cx="32.46" cy="30.52" r="1.25" fill="#f4f5f0"/>
<path d="M32.46,29.27a1.25,1.25 0 0 0 0,2.5z" fill="#3a63ff"/>
<circle cx="32.46" cy="33.25" r="1.25" fill="#f4f5f0"/>
<path d="M32.46,32.00a1.25,1.25 0 0 0 0,2.5z" fill="#3a63ff"/>
<circle cx="32.46" cy="35.98" r="1.25" fill="#f4f5f0"/>
<path d="M32.46,34.73a1.25,1.25 0 0 0 0,2.5z" fill="#3a63ff"/>
<circle cx="32.46" cy="38.71" r="1.25" fill="#f4f5f0"/>
<path d="M32.46,37.46a1.25,1.25 0 0 0 0,2.5z" fill="#3a63ff"/>
<circle cx="35.18" cy="35.98" r="1.25" fill="#f4f5f0"/>
<path d="M35.18,34.73a1.25,1.25 0 0 0 0,2.5z" fill="#3a63ff"/>
<circle cx="35.18" cy="38.71" r="1.25" fill="#f4f5f0"/>
<path d="M35.18,37.46a1.25,1.25 0 0 0 0,2.5z" fill="#3a63ff"/>
<circle cx="35.18" cy="41.44" r="1.25" fill="#f4f5f0"/>
<path d="M35.18,40.19a1.25,1.25 0 0 0 0,2.5z" fill="#3a63ff"/>
<circle cx="35.18" cy="44.17" r="1.25" fill="#f4f5f0"/>
<path d="M35.18,42.92a1.25,1.25 0 0 0 0,2.5z" fill="#3a63ff"/>
<circle cx="37.90" cy="38.71" r="1.25" fill="#f4f5f0"/>
<path d="M37.90,37.46a1.25,1.25 0 0 0 0,2.5z" fill="#3a63ff"/>
<circle cx="37.90" cy="41.44" r="1.25" fill="#f4f5f0"/>
<path d="M37.90,40.19a1.25,1.25 0 0 0 0,2.5z" fill="#3a63ff"/>
<circle cx="37.90" cy="44.17" r="1.25" fill="#f4f5f0"/>
<path d="M37.90,42.92a1.25,1.25 0 0 0 0,2.5z" fill="#3a63ff"/>
<circle cx="40.62" cy="44.17" r="1.25" fill="#f4f5f0"/>
<path d="M40.62,42.92a1.25,1.25 0 0 0 0,2.5z" fill="#3a63ff"/>
<circle cx="40.62" cy="46.90" r="1.25" fill="#f4f5f0"/>
<path d="M40.62,45.65a1.25,1.25 0 0 0 0,2.5z" fill="#3a63ff"/>
<circle cx="40.62" cy="49.63" r="1.25" fill="#f4f5f0"/>
<path d="M40.62,48.38a1.25,1.25 0 0 0 0,2.5z" fill="#3a63ff"/>
<circle cx="59.66" cy="22.33" r="1.25" fill="#f4f5f0"/>
<path d="M59.66,21.08a1.25,1.25 0 0 0 0,2.5z" fill="#3a63ff"/>
<circle cx="92.30" cy="46.90" r="1.25" fill="#f4f5f0"/>
<path d="M92.30,45.65a1.25,1.25 0 0 0 0,2.5z" fill="#3a63ff"/>
<circle cx="95.02" cy="46.90" r="1.25" fill="#f4f5f0"/>
<path d="M95.02,45.65a1.25,1.25 0 0 0 0,2.5z" fill="#3a63ff"/>
<circle cx="81.42" cy="49.63" r="1.25" fill="#f4f5f0"/>
<path d="M81.42,48.38a1.25,1.25 0 0 0 0,2.5z" fill="#3a63ff"/>
<circle cx="105.90" cy="131.53" r="1.25" fill="#ee1b14"/>
<circle cx="108.62" cy="134.26" r="1.25" fill="#ee1b14"/>
<circle cx="111.34" cy="136.99" r="1.25" fill="#ee1b14"/>
<circle cx="111.34" cy="139.72" r="1.25" fill="#ee1b14"/>
<circle cx="114.06" cy="142.45" r="1.25" fill="#ee1b14"/>
<circle cx="114.06" cy="145.18" r="1.25" fill="#ee1b14"/>
<circle cx="116.78" cy="145.18" r="1.25" fill="#ee1b14"/>
<circle cx="114.06" cy="147.91" r="1.25" fill="#ee1b14"/>
<circle cx="116.78" cy="147.91" r="1.25" fill="#ee1b14"/>
<circle cx="119.50" cy="147.91" r="1.25" fill="#ee1b14"/>
<circle cx="116.78" cy="150.64" r="1.25" fill="#ee1b14"/>
<circle cx="119.50" cy="150.64" r="1.25" fill="#ee1b14"/>
<circle cx="108.62" cy="153.37" r="1.25" fill="#ee1b14"/>
<circle cx="116.78" cy="153.37" r="1.25" fill="#ee1b14"/>
<circle cx="119.50" cy="153.37" r="1.25" fill="#ee1b14"/>
<circle cx="111.34" cy="156.10" r="1.25" fill="#ee1b14"/>
<circle cx="114.06" cy="156.10" r="1.25" fill="#ee1b14"/>
<circle cx="116.78" cy="156.10" r="1.25" fill="#ee1b14"/>
<circle cx="119.50" cy="156.10" r="1.25" fill="#ee1b14"/>
<circle cx="114.06" cy="158.83" r="1.25" fill="#ee1b14"/>
<circle cx="116.78" cy="158.83" r="1.25" fill="#ee1b14"/>
<circle cx="119.50" cy="158.83" r="1.25" fill="#ee1b14"/>
<circle cx="116.78" cy="161.56" r="1.25" fill="#ee1b14"/>
<circle cx="119.50" cy="161.56" r="1.25" fill="#ee1b14"/>
<circle cx="133.10" cy="161.56" r="1.25" fill="#ee1b14"/>
<circle cx="135.82" cy="161.56" r="1.25" fill="#ee1b14"/>
<circle cx="138.54" cy="161.56" r="1.25" fill="#ee1b14"/>
<circle cx="119.50" cy="164.29" r="1.25" fill="#ee1b14"/>
<circle cx="122.22" cy="164.29" r="1.25" fill="#ee1b14"/>
<circle cx="124.94" cy="164.29" r="1.25" fill="#ee1b14"/>
<circle cx="127.66" cy="164.29" r="1.25" fill="#ee1b14"/>
<circle cx="130.38" cy="164.29" r="1.25" fill="#ee1b14"/>
<circle cx="133.10" cy="164.29" r="1.25" fill="#ee1b14"/>
<circle cx="135.82" cy="164.29" r="1.25" fill="#ee1b14"/>
<circle cx="122.22" cy="167.02" r="1.25" fill="#ee1b14"/>
<circle cx="124.94" cy="167.02" r="1.25" fill="#ee1b14"/>
<circle cx="127.66" cy="167.02" r="1.25" fill="#ee1b14"/>
<circle cx="130.38" cy="167.02" r="1.25" fill="#ee1b14"/>
<circle cx="133.10" cy="167.02" r="1.25" fill="#ee1b14"/>
<circle cx="127.66" cy="169.75" r="1.25" fill="#ee1b14"/>
<circle cx="133.10" cy="128.80" r="1.25" fill="#ee1b14"/>
<circle cx="130.38" cy="131.53" r="1.25" fill="#ee1b14"/>
<circle cx="133.10" cy="131.53" r="1.25" fill="#ee1b14"/>
<circle cx="130.38" cy="134.26" r="1.25" fill="#ee1b14"/>
<circle cx="133.10" cy="134.26" r="1.25" fill="#ee1b14"/>
<circle cx="130.38" cy="136.99" r="1.25" fill="#ee1b14"/>
<circle cx="133.10" cy="136.99" r="1.25" fill="#ee1b14"/>
<circle cx="135.82" cy="136.99" r="1.25" fill="#ee1b14"/>
<circle cx="130.38" cy="139.72" r="1.25" fill="#ee1b14"/>
<circle cx="133.10" cy="139.72" r="1.25" fill="#ee1b14"/>
<circle cx="135.82" cy="139.72" r="1.25" fill="#ee1b14"/>
<circle cx="133.10" cy="142.45" r="1.25" fill="#ee1b14"/>
<circle cx="135.82" cy="142.45" r="1.25" fill="#ee1b14"/>
<circle cx="138.54" cy="142.45" r="1.25" fill="#ee1b14"/>
<circle cx="133.10" cy="145.18" r="1.25" fill="#ee1b14"/>
<circle cx="135.82" cy="145.18" r="1.25" fill="#ee1b14"/>
<circle cx="138.54" cy="145.18" r="1.25" fill="#ee1b14"/>
<circle cx="135.82" cy="147.91" r="1.25" fill="#ee1b14"/>
<circle cx="138.54" cy="147.91" r="1.25" fill="#ee1b14"/>
<circle cx="135.82" cy="150.64" r="1.25" fill="#ee1b14"/>
<circle cx="138.54" cy="150.64" r="1.25" fill="#ee1b14"/>
<circle cx="141.26" cy="150.64" r="1.25" fill="#ee1b14"/>
<circle cx="135.82" cy="153.37" r="1.25" fill="#ee1b14"/>
<circle cx="138.54" cy="153.37" r="1.25" fill="#ee1b14"/>
<circle cx="133.10" cy="156.10" r="1.25" fill="#ee1b14"/>
<circle cx="135.82" cy="156.10" r="1.25" fill="#ee1b14"/>
<circle cx="138.54" cy="156.10" r="1.25" fill="#ee1b14"/>
<circle cx="133.10" cy="158.83" r="1.25" fill="#ee1b14"/>
<circle cx="135.82" cy="158.83" r="1.25" fill="#ee1b14"/>
<circle cx="138.54" cy="158.83" r="1.25" fill="#ee1b14"/>
<circle cx="124.94" cy="74.20" r="1.25" fill="#f4f5f0"/>
<path d="M124.94,72.95a1.25,1.25 0 0 0 0,2.5z" fill="#ee1b14"/>
<circle cx="124.94" cy="76.93" r="1.25" fill="#f4f5f0"/>
<path d="M124.94,75.68a1.25,1.25 0 0 0 0,2.5z" fill="#ee1b14"/>
<circle cx="124.94" cy="79.66" r="1.25" fill="#f4f5f0"/>
<path d="M124.94,78.41a1.25,1.25 0 0 0 0,2.5z" fill="#ee1b14"/>
<circle cx="127.66" cy="74.20" r="1.25" fill="#f4f5f0"/>
<path d="M127.66,72.95a1.25,1.25 0 0 0 0,2.5z" fill="#ee1b14"/>
<circle cx="127.66" cy="76.93" r="1.25" fill="#f4f5f0"/>
<path d="M127.66,75.68a1.25,1.25 0 0 0 0,2.5z" fill="#ee1b14"/>
<circle cx="127.66" cy="79.66" r="1.25" fill="#f4f5f0"/>
<path d="M127.66,78.41a1.25,1.25 0 0 0 0,2.5z" fill="#ee1b14"/>
<circle cx="127.66" cy="82.39" r="1.25" fill="#f4f5f0"/>
<path d="M127.66,81.14a1.25,1.25 0 0 0 0,2.5z" fill="#ee1b14"/>
<circle cx="127.66" cy="85.12" r="1.25" fill="#f4f5f0"/>
<path d="M127.66,83.87a1.25,1.25 0 0 0 0,2.5z" fill="#ee1b14"/>
<circle cx="130.38" cy="71.47" r="1.25" fill="#f4f5f0"/>
<path d="M130.38,70.22a1.25,1.25 0 0 0 0,2.5z" fill="#ee1b14"/>
<circle cx="130.38" cy="74.20" r="1.25" fill="#f4f5f0"/>
<path d="M130.38,72.95a1.25,1.25 0 0 0 0,2.5z" fill="#ee1b14"/>
<circle cx="130.38" cy="76.93" r="1.25" fill="#f4f5f0"/>
<path d="M130.38,75.68a1.25,1.25 0 0 0 0,2.5z" fill="#ee1b14"/>
<circle cx="130.38" cy="79.66" r="1.25" fill="#f4f5f0"/>
<path d="M130.38,78.41a1.25,1.25 0 0 0 0,2.5z" fill="#ee1b14"/>
<circle cx="130.38" cy="82.39" r="1.25" fill="#f4f5f0"/>
<path d="M130.38,81.14a1.25,1.25 0 0 0 0,2.5z" fill="#ee1b14"/>
<circle cx="130.38" cy="85.12" r="1.25" fill="#f4f5f0"/>
<path d="M130.38,83.87a1.25,1.25 0 0 0 0,2.5z" fill="#ee1b14"/>
<circle cx="133.10" cy="74.20" r="1.25" fill="#f4f5f0"/>
<path d="M133.10,72.95a1.25,1.25 0 0 0 0,2.5z" fill="#ee1b14"/>
<circle cx="133.10" cy="76.93" r="1.25" fill="#f4f5f0"/>
<path d="M133.10,75.68a1.25,1.25 0 0 0 0,2.5z" fill="#ee1b14"/>
<circle cx="133.10" cy="79.66" r="1.25" fill="#f4f5f0"/>
<path d="M133.10,78.41a1.25,1.25 0 0 0 0,2.5z" fill="#ee1b14"/>
<circle cx="133.10" cy="82.39" r="1.25" fill="#f4f5f0"/>
<path d="M133.10,81.14a1.25,1.25 0 0 0 0,2.5z" fill="#ee1b14"/>
<circle cx="135.82" cy="76.93" r="1.25" fill="#f4f5f0"/>
<path d="M135.82,75.68a1.25,1.25 0 0 0 0,2.5z" fill="#ee1b14"/>
<circle cx="135.82" cy="79.66" r="1.25" fill="#f4f5f0"/>
<path d="M135.82,78.41a1.25,1.25 0 0 0 0,2.5z" fill="#ee1b14"/>
<circle cx="135.82" cy="82.39" r="1.25" fill="#f4f5f0"/>
<path d="M135.82,81.14a1.25,1.25 0 0 0 0,2.5z" fill="#ee1b14"/>
<circle cx="138.54" cy="76.93" r="1.25" fill="#f4f5f0"/>
<path d="M138.54,75.68a1.25,1.25 0 0 0 0,2.5z" fill="#ee1b14"/>
<circle cx="138.54" cy="79.66" r="1.25" fill="#f4f5f0"/>
<path d="M138.54,78.41a1.25,1.25 0 0 0 0,2.5z" fill="#ee1b14"/>
<circle cx="138.54" cy="82.39" r="1.25" fill="#f4f5f0"/>
<path d="M138.54,81.14a1.25,1.25 0 0 0 0,2.5z" fill="#ee1b14"/>
<circle cx="141.26" cy="76.93" r="1.25" fill="#f4f5f0"/>
<path d="M141.26,75.68a1.25,1.25 0 0 0 0,2.5z" fill="#ee1b14"/>
<circle cx="141.26" cy="79.66" r="1.25" fill="#f4f5f0"/>
<path d="M141.26,78.41a1.25,1.25 0 0 0 0,2.5z" fill="#ee1b14"/>
<circle cx="141.26" cy="82.39" r="1.25" fill="#f4f5f0"/>
<path d="M141.26,81.14a1.25,1.25 0 0 0 0,2.5z" fill="#ee1b14"/>
<circle cx="141.26" cy="85.12" r="1.25" fill="#f4f5f0"/>
<path d="M141.26,83.87a1.25,1.25 0 0 0 0,2.5z" fill="#ee1b14"/>
<circle cx="143.98" cy="79.66" r="1.25" fill="#f4f5f0"/>
<path d="M143.98,78.41a1.25,1.25 0 0 0 0,2.5z" fill="#ee1b14"/>
<circle cx="143.98" cy="82.39" r="1.25" fill="#f4f5f0"/>
<path d="M143.98,81.14a1.25,1.25 0 0 0 0,2.5z" fill="#ee1b14"/>
<circle cx="143.98" cy="85.12" r="1.25" fill="#f4f5f0"/>
<path d="M143.98,83.87a1.25,1.25 0 0 0 0,2.5z" fill="#ee1b14"/>
<circle cx="146.70" cy="79.66" r="1.25" fill="#f4f5f0"/>
<path d="M146.70,78.41a1.25,1.25 0 0 0 0,2.5z" fill="#ee1b14"/>
<circle cx="133.10" cy="90.58" r="1.25" fill="#f4f5f0"/>
<path d="M133.10,89.33a1.25,1.25 0 0 0 0,2.5z" fill="#ee1b14"/>
<circle cx="133.10" cy="93.31" r="1.25" fill="#f4f5f0"/>
<path d="M133.10,92.06a1.25,1.25 0 0 0 0,2.5z" fill="#ee1b14"/>
<circle cx="135.82" cy="96.04" r="1.25" fill="#f4f5f0"/>
<path d="M135.82,94.79a1.25,1.25 0 0 0 0,2.5z" fill="#ee1b14"/>
<circle cx="135.82" cy="98.77" r="1.25" fill="#f4f5f0"/>
<path d="M135.82,97.52a1.25,1.25 0 0 0 0,2.5z" fill="#ee1b14"/>
<circle cx="135.82" cy="101.50" r="1.25" fill="#f4f5f0"/>
<path d="M135.82,100.25a1.25,1.25 0 0 0 0,2.5z" fill="#ee1b14"/>
<circle cx="135.82" cy="104.23" r="1.25" fill="#f4f5f0"/>
<path d="M135.82,102.98a1.25,1.25 0 0 0 0,2.5z" fill="#ee1b14"/>
<circle cx="135.82" cy="106.96" r="1.25" fill="#f4f5f0"/>
<path d="M135.82,105.71a1.25,1.25 0 0 0 0,2.5z" fill="#ee1b14"/>
<circle cx="135.82" cy="109.69" r="1.25" fill="#f4f5f0"/>
<path d="M135.82,108.44a1.25,1.25 0 0 0 0,2.5z" fill="#ee1b14"/>
<circle cx="138.54" cy="101.50" r="1.25" fill="#f4f5f0"/>
<path d="M138.54,100.25a1.25,1.25 0 0 0 0,2.5z" fill="#ee1b14"/>
<circle cx="138.54" cy="104.23" r="1.25" fill="#f4f5f0"/>
<path d="M138.54,102.98a1.25,1.25 0 0 0 0,2.5z" fill="#ee1b14"/>
<circle cx="138.54" cy="106.96" r="1.25" fill="#f4f5f0"/>
<path d="M138.54,105.71a1.25,1.25 0 0 0 0,2.5z" fill="#ee1b14"/>
<circle cx="138.54" cy="109.69" r="1.25" fill="#f4f5f0"/>
<path d="M138.54,108.44a1.25,1.25 0 0 0 0,2.5z" fill="#ee1b14"/>
<circle cx="160.30" cy="93.31" r="1.25" fill="#f4f5f0"/>
<path d="M160.30,92.06a1.25,1.25 0 0 0 0,2.5z" fill="#ee1b14"/>
<circle cx="160.30" cy="96.04" r="1.25" fill="#f4f5f0"/>
<path d="M160.30,94.79a1.25,1.25 0 0 0 0,2.5z" fill="#ee1b14"/>
<circle cx="163.02" cy="96.04" r="1.25" fill="#f4f5f0"/>
<path d="M163.02,94.79a1.25,1.25 0 0 0 0,2.5z" fill="#ee1b14"/>
<circle cx="165.74" cy="96.04" r="1.25" fill="#f4f5f0"/>
<path d="M165.74,94.79a1.25,1.25 0 0 0 0,2.5z" fill="#ee1b14"/>
<circle cx="168.46" cy="96.04" r="1.25" fill="#f4f5f0"/>
<path d="M168.46,94.79a1.25,1.25 0 0 0 0,2.5z" fill="#ee1b14"/>
<circle cx="171.18" cy="96.04" r="1.25" fill="#f4f5f0"/>
<path d="M171.18,94.79a1.25,1.25 0 0 0 0,2.5z" fill="#ee1b14"/>
<circle cx="179.34" cy="98.77" r="1.25" fill="#f4f5f0"/>
<path d="M179.34,97.52a1.25,1.25 0 0 0 0,2.5z" fill="#ee1b14"/>
<circle cx="182.06" cy="98.77" r="1.25" fill="#f4f5f0"/>
<path d="M182.06,97.52a1.25,1.25 0 0 0 0,2.5z" fill="#ee1b14"/>
<circle cx="184.78" cy="98.77" r="1.25" fill="#f4f5f0"/>
<path d="M184.78,97.52a1.25,1.25 0 0 0 0,2.5z" fill="#ee1b14"/>
<circle cx="187.50" cy="98.77" r="1.25" fill="#f4f5f0"/>
<path d="M187.50,97.52a1.25,1.25 0 0 0 0,2.5z" fill="#ee1b14"/>
<circle cx="190.22" cy="98.77" r="1.25" fill="#f4f5f0"/>
<path d="M190.22,97.52a1.25,1.25 0 0 0 0,2.5z" fill="#ee1b14"/>
<circle cx="192.94" cy="98.77" r="1.25" fill="#f4f5f0"/>
<path d="M192.94,97.52a1.25,1.25 0 0 0 0,2.5z" fill="#ee1b14"/>
<circle cx="195.66" cy="98.77" r="1.25" fill="#f4f5f0"/>
<path d="M195.66,97.52a1.25,1.25 0 0 0 0,2.5z" fill="#ee1b14"/>
<circle cx="198.38" cy="98.77" r="1.25" fill="#f4f5f0"/>
<path d="M198.38,97.52a1.25,1.25 0 0 0 0,2.5z" fill="#ee1b14"/>
<circle cx="201.10" cy="98.77" r="1.25" fill="#f4f5f0"/>
<path d="M201.10,97.52a1.25,1.25 0 0 0 0,2.5z" fill="#ee1b14"/>
<circle cx="203.82" cy="98.77" r="1.25" fill="#f4f5f0"/>
<path d="M203.82,97.52a1.25,1.25 0 0 0 0,2.5z" fill="#ee1b14"/>
<circle cx="206.54" cy="98.77" r="1.25" fill="#f4f5f0"/>
<path d="M206.54,97.52a1.25,1.25 0 0 0 0,2.5z" fill="#ee1b14"/>
<circle cx="209.26" cy="98.77" r="1.25" fill="#f4f5f0"/>
<path d="M209.26,97.52a1.25,1.25 0 0 0 0,2.5z" fill="#ee1b14"/>
<circle cx="211.98" cy="98.77" r="1.25" fill="#f4f5f0"/>
<path d="M211.98,97.52a1.25,1.25 0 0 0 0,2.5z" fill="#ee1b14"/>
<circle cx="211.98" cy="101.50" r="1.25" fill="#f4f5f0"/>
<path d="M211.98,100.25a1.25,1.25 0 0 0 0,2.5z" fill="#ee1b14"/>
<circle cx="214.70" cy="104.23" r="1.25" fill="#f4f5f0"/>
<path d="M214.70,102.98a1.25,1.25 0 0 0 0,2.5z" fill="#ee1b14"/>
<circle cx="214.70" cy="106.96" r="1.25" fill="#f4f5f0"/>
<path d="M214.70,105.71a1.25,1.25 0 0 0 0,2.5z" fill="#ee1b14"/>
<circle cx="214.70" cy="109.69" r="1.25" fill="#f4f5f0"/>
<path d="M214.70,108.44a1.25,1.25 0 0 0 0,2.5z" fill="#ee1b14"/>
<circle cx="54.22" cy="112.42" r="1.25" fill="#f4f5f0"/>
<path d="M54.22,111.17a1.25,1.25 0 0 0 0,2.5z" fill="#ee1b14"/>
<circle cx="54.22" cy="117.88" r="1.25" fill="#f4f5f0"/>
<path d="M54.22,116.63a1.25,1.25 0 0 0 0,2.5z" fill="#ee1b14"/>
<circle cx="67.82" cy="112.42" r="1.25" fill="#f4f5f0"/>
<path d="M67.82,111.17a1.25,1.25 0 0 0 0,2.5z" fill="#ee1b14"/>
<circle cx="133.10" cy="98.77" r="1.25" fill="#f4f5f0"/>
<path d="M133.10,97.52a1.25,1.25 0 0 0 0,2.5z" fill="#ee1b14"/>
<circle cx="135.82" cy="104.23" r="1.25" fill="#f4f5f0"/>
<path d="M135.82,102.98a1.25,1.25 0 0 0 0,2.5z" fill="#ee1b14"/>
<circle cx="138.54" cy="109.69" r="1.25" fill="#f4f5f0"/>
<path d="M138.54,108.44a1.25,1.25 0 0 0 0,2.5z" fill="#ee1b14"/>
<circle cx="138.54" cy="112.42" r="1.25" fill="#f4f5f0"/>
<path d="M138.54,111.17a1.25,1.25 0 0 0 0,2.5z" fill="#ee1b14"/>
<circle cx="141.26" cy="117.88" r="1.25" fill="#f4f5f0"/>
<path d="M141.26,116.63a1.25,1.25 0 0 0 0,2.5z" fill="#ee1b14"/>
<circle cx="135.82" cy="123.34" r="1.25" fill="#f4f5f0"/>
<path d="M135.82,122.09a1.25,1.25 0 0 0 0,2.5z" fill="#ee1b14"/>
<circle cx="127.66" cy="82.39" r="1.25" fill="#f4f5f0"/>
<path d="M127.66,81.14a1.25,1.25 0 0 0 0,2.5z" fill="#ee1b14"/>
<circle cx="130.38" cy="87.85" r="1.25" fill="#f4f5f0"/>
<path d="M130.38,86.60a1.25,1.25 0 0 0 0,2.5z" fill="#ee1b14"/>
<circle cx="141.26" cy="85.12" r="1.25" fill="#f4f5f0"/>
<path d="M141.26,83.87a1.25,1.25 0 0 0 0,2.5z" fill="#ee1b14"/>
<circle cx="143.98" cy="85.12" r="1.25" fill="#f4f5f0"/>
<path d="M143.98,83.87a1.25,1.25 0 0 0 0,2.5z" fill="#ee1b14"/>
<circle cx="135.82" cy="123.34" r="1.25" fill="#f4f5f0"/>
<path d="M135.82,122.09a1.25,1.25 0 0 0 0,2.5z" fill="#ee1b14"/>
<circle cx="138.54" cy="120.61" r="1.25" fill="#f4f5f0"/>
<path d="M138.54,119.36a1.25,1.25 0 0 0 0,2.5z" fill="#ee1b14"/>
<circle cx="141.26" cy="117.88" r="1.25" fill="#f4f5f0"/>
<path d="M141.26,116.63a1.25,1.25 0 0 0 0,2.5z" fill="#ee1b14"/>
<circle cx="141.26" cy="115.15" r="1.25" fill="#f4f5f0"/>
<path d="M141.26,113.90a1.25,1.25 0 0 0 0,2.5z" fill="#ee1b14"/>
</g>
<text x="0" y="0" transform="translate(463.10,229.20) rotate(-90)" class="ax">40°N</text>
<text x="0" y="0" transform="translate(463.10,283.80) rotate(-90)" class="ax">30°N</text>
<text x="0" y="0" transform="translate(463.10,338.40) rotate(-90)" class="ax">20°N</text>
<text x="500.70" y="393.80" class="ax2">30°E</text>
<text x="582.50" y="393.80" class="ax2">45°E</text>
<text x="663.90" y="393.80" class="ax2">60°E</text>
<text x="680.70" y="208.10" class="pl">(f)</text>
<rect x="5.4" y="401.5" width="220.1" height="189.3" fill="none" stroke="#8c8c8c" stroke-width="1"/>
<g transform="translate(0.00,400.00)">
<polygon points="22.7,20.8 25.0,20.1 27.3,19.7 31.4,20.1 32.4,22.5 34.4,23.9 37.0,24.6 40.5,25.2 45.8,25.3 50.1,23.6 54.5,21.4 58.9,20.5 64.2,20.5 69.3,20.1 72.8,22.1 76.3,23.3 79.8,23.9 84.5,25.6 90.3,26.5 96.1,26.0 100.8,24.8 105.5,23.3 111.3,22.5 114.8,24.5 117.7,27.4 117.7,30.3 121.2,32.1 124.7,35.0 127.7,36.7 131.2,37.3 134.7,35.6 138.2,33.8 140.7,33.4 142.7,35.3 145.3,39.3 146.6,43.2 151.9,45.2 157.1,48.5 162.4,49.8 169.0,48.5 173.6,47.2 176.8,43.9 182.1,41.9 188.7,41.3 193.9,42.6 199.2,44.5 204.4,47.2 209.7,49.1 213.0,50.4 213.6,55.1 211.0,59.0 209.7,62.9 211.0,68.2 210.2,72.2 210.9,77.2 215.1,78.6 216.2,80.0 213.7,83.5 211.3,86.7 213.0,89.2 215.9,92.7 220.1,94.8 221.5,96.2 221.9,100.5 223.6,101.2 223.3,103.3 219.4,104.7 216.2,105.4 215.5,109.7 214.8,112.5 211.6,111.8 207.4,111.0 200.3,109.9 193.1,108.9 191.1,106.9 190.0,103.3 187.0,102.3 182.9,103.3 178.8,104.9 173.7,103.3 167.6,100.3 162.5,97.2 158.7,94.9 155.1,88.7 151.6,84.4 146.4,83.5 144.6,87.0 142.5,86.3 141.1,87.0 142.9,90.5 142.0,93.1 144.6,95.7 146.1,99.2 149.2,101.8 152.2,105.4 154.3,108.4 155.6,109.8 156.3,107.4 158.4,106.9 160.4,108.4 159.9,113.6 158.4,115.6 161.4,117.6 165.5,118.7 171.6,118.1 175.7,116.6 178.8,113.6 181.9,110.5 184.9,107.4 186.0,106.4 186.5,109.5 187.0,115.1 189.0,116.6 193.1,119.2 198.2,121.2 201.8,123.8 204.9,126.8 204.3,129.9 201.3,134.0 198.2,136.0 196.2,140.1 194.1,144.2 190.4,146.9 185.2,150.9 179.9,154.8 173.4,157.4 166.8,160.0 164.2,162.7 158.9,166.0 152.3,168.6 145.8,171.9 140.5,173.8 133.9,175.8 127.4,177.8 120.8,180.4 115.6,179.8 114.2,174.5 112.9,169.2 112.3,164.0 111.6,158.7 109.0,153.5 105.0,148.2 101.1,141.7 96.9,137.9 93.0,134.0 91.7,127.4 90.3,122.8 85.1,118.2 82.5,114.2 79.8,109.0 75.2,102.4 72.0,97.2 70.0,90.6 69.3,89.5 68.7,90.2 67.5,93.5 66.7,97.2 66.0,97.8 63.5,94.0 60.5,90.5 57.5,87.0 56.5,86.2 55.8,87.0 58.0,90.5 61.0,94.5 62.8,97.5 65.4,103.7 69.3,111.6 73.3,118.2 73.9,122.1 77.2,126.1 79.8,129.4 15.2,129.4 15.2,87.0 14.0,86.0 13.2,84.0 13.5,80.0 14.3,77.8 15.0,77.1 19.7,77.1 25.5,77.7 31.4,79.5 37.2,81.2 41.9,79.5 47.7,77.5 52.4,78.3 57.1,79.8 61.7,79.5 66.0,79.3 67.5,77.1 68.6,74.9 69.7,70.6 71.5,66.9 73.3,63.3 74.4,59.6 74.1,55.2 75.1,52.3 75.9,50.1 74.0,49.4 70.4,49.0 66.7,50.1 63.1,51.6 61.5,51.6 57.2,52.9 53.6,51.6 51.0,49.9 47.5,49.0 44.9,50.7 41.4,52.5 38.8,52.1 36.1,49.9 32.6,49.0 29.1,49.4 27.8,47.2 26.9,45.1 25.6,42.0 22.6,40.7 22.6,38.5 23.4,35.4 21.5,34.4 21.6,30.3 21.2,27.3 23.2,24.5 22.7,21.8" fill="url(#pg)"/>
<g clip-path="url(#land)">
<polygon points="19.6,18.1 125.0,10.0 150.0,25.0 160.8,48.7 164.2,51.2 168.4,56.3 171.8,61.4 173.5,67.3 176.0,73.3 181.1,78.3 183.7,84.3 177.7,88.5 172.7,88.0 167.6,83.8 160.8,78.7 154.0,74.4 148.9,71.9 140.5,66.8 133.7,61.7 126.9,57.5 119.3,53.3 110.0,50.7 120.0,54.2 110.0,51.1 100.8,48.8 99.0,47.4 92.0,48.0 85.0,48.6 79.5,49.4 78.4,50.9 77.0,53.0 75.1,53.0 70.0,56.0 43.4,54.2 41.8,45.7 38.0,42.7 33.4,39.6 33.4,28.1 24.2,28.1 19.6,28.1" fill="url(#pc)"/>
<polygon points="182.8,52.1 194.7,45.0 204.8,45.8 212.5,50.4 213.0,64.3 204.8,66.0 194.7,61.7 182.8,57.5" fill="url(#pc)"/>
<polygon points="73.0,103.0 81.2,106.1 86.4,107.9 91.7,112.4 96.1,117.7 100.4,122.9 104.8,127.3 109.2,132.6 113.6,138.7 117.1,144.0 118.3,153.1 119.2,156.6 119.7,164.5 127.6,167.1 132.0,164.5 135.5,162.7 136.0,147.8 134.6,142.6 132.0,137.3 129.3,132.0 132.0,125.0 135.5,122.4 139.3,118.0 139.3,109.3 137.2,100.5 135.5,95.3 134.6,90.0 132.0,91.0 124.4,84.3 124.4,74.1 130.3,72.9 145.6,78.3 147.3,83.4 150.0,92.0 160.0,99.0 157.9,92.4 169.3,96.6 211.6,96.6 215.8,101.7 219.2,106.3 222.0,112.0 230.0,125.0 230.0,195.0 100.0,195.0 92.0,140.0" fill="url(#pp)"/>
<polygon points="53.1,109.3 57.5,105.4 64.5,105.4 68.9,109.3 75.0,118.0 85.5,133.8 59.3,133.8 56.6,123.3 53.1,118.0" fill="url(#pp)"/>
</g>
<polygon points="25.5,28.3 28.0,27.2 32.0,26.2 36.5,26.5 40.5,27.3 38.0,28.3 34.0,28.9 29.0,29.2" fill="#fff" stroke="#333" stroke-width="0.6"/>
<polyline points="75.1,53.0 77.0,53.0 78.4,50.9 79.5,49.4 85.0,48.6 92.0,48.0 99.0,47.4 105.5,46.9 109.8,46.5" fill="none" stroke="#2d2d2d" stroke-width="0.85" stroke-linejoin="round"/>
<polyline points="109.8,46.5 114.8,46.3 119.5,46.7 121.8,46.7" fill="none" stroke="#2d2d2d" stroke-width="0.85" stroke-linejoin="round"/>
<polyline points="120.5,32.5 119.5,35.6 120.1,39.1 121.2,42.6 121.8,46.7" fill="none" stroke="#2d2d2d" stroke-width="0.85" stroke-linejoin="round"/>
<polyline points="121.8,46.7 124.2,49.6 127.1,52.5 130.0,54.2 131.2,54.8 129.4,57.2 127.1,60.7 127.1,64.2 130.6,68.6 135.0,71.2 138.5,74.7 140.3,78.2 141.1,81.7 142.4,84.4 144.6,87.0" fill="none" stroke="#2d2d2d" stroke-width="0.85" stroke-linejoin="round"/>
<polyline points="109.8,46.5 106.9,50.1 104.0,54.5 103.2,61.4 96.1,64.8 90.8,67.6" fill="none" stroke="#2d2d2d" stroke-width="0.85" stroke-linejoin="round"/>
<polyline points="90.8,67.6 79.2,73.1 72.6,71.3" fill="none" stroke="#2d2d2d" stroke-width="0.85" stroke-linejoin="round"/>
<polyline points="74.2,60.0 77.7,60.7 78.4,62.5 74.0,69.1 72.6,71.3" fill="none" stroke="#2d2d2d" stroke-width="0.85" stroke-linejoin="round"/>
<polyline points="70.2,70.8 72.6,71.3" fill="none" stroke="#2d2d2d" stroke-width="0.85" stroke-linejoin="round"/>
<polyline points="72.6,71.3 71.8,74.0 71.2,78.0 70.6,82.0 70.0,86.0 69.3,89.5" fill="none" stroke="#2d2d2d" stroke-width="0.85" stroke-linejoin="round"/>
<polyline points="66.0,79.3 69.3,89.5" fill="none" stroke="#2d2d2d" stroke-width="0.85" stroke-linejoin="round"/>
<polyline points="90.8,67.6 91.9,73.8" fill="none" stroke="#2d2d2d" stroke-width="0.85" stroke-linejoin="round"/>
<polyline points="91.9,73.8 82.5,76.8 81.2,78.0 85.1,81.4 83.8,84.0 78.5,88.0 74.6,90.6 70.0,90.3" fill="none" stroke="#2d2d2d" stroke-width="0.85" stroke-linejoin="round"/>
<polyline points="91.9,73.8 98.2,76.1 101.1,76.6 104.8,79.4 112.7,84.0 114.9,85.2 120.6,89.3 122.7,90.5 132.4,90.9" fill="none" stroke="#2d2d2d" stroke-width="0.85" stroke-linejoin="round"/>
<polyline points="132.4,90.9 135.0,86.1 141.1,86.1" fill="none" stroke="#2d2d2d" stroke-width="0.85" stroke-linejoin="round"/>
<polyline points="132.4,90.9 139.4,93.1 142.3,93.3" fill="none" stroke="#2d2d2d" stroke-width="0.85" stroke-linejoin="round"/>
<polyline points="155.6,109.8 157.2,113.8 158.4,115.6" fill="none" stroke="#2d2d2d" stroke-width="0.85" stroke-linejoin="round"/>
<polyline points="161.4,117.6 164.0,122.2 165.5,124.3 171.6,124.8 179.8,126.3" fill="none" stroke="#2d2d2d" stroke-width="0.85" stroke-linejoin="round"/>
<polyline points="179.8,126.3 181.9,122.7 182.4,117.6 183.9,114.6 185.4,112.5 185.9,109.5" fill="none" stroke="#2d2d2d" stroke-width="0.85" stroke-linejoin="round"/>
<polyline points="179.8,126.3 182.4,129.9 181.4,135.0 179.8,139.1 176.8,141.1 171.6,143.2 166.5,145.2 162.9,146.3" fill="none" stroke="#2d2d2d" stroke-width="0.85" stroke-linejoin="round"/>
<polyline points="162.9,146.3 168.1,158.1" fill="none" stroke="#2d2d2d" stroke-width="0.85" stroke-linejoin="round"/>
<polyline points="162.9,146.3 153.7,146.9 143.1,150.2 136.6,160.0 132.0,164.0 132.0,158.7 127.4,156.1 120.8,154.1 114.2,154.8 110.3,155.3" fill="none" stroke="#2d2d2d" stroke-width="0.85" stroke-linejoin="round"/>
<polygon points="70.3,74.5 71.8,74.3 71.5,78.3 70.2,78.6 69.8,76.5" fill="none" stroke="#3a3a3a" stroke-width="0.6"/>
<polygon points="22.7,20.8 25.0,20.1 27.3,19.7 31.4,20.1 32.4,22.5 34.4,23.9 37.0,24.6 40.5,25.2 45.8,25.3 50.1,23.6 54.5,21.4 58.9,20.5 64.2,20.5 69.3,20.1 72.8,22.1 76.3,23.3 79.8,23.9 84.5,25.6 90.3,26.5 96.1,26.0 100.8,24.8 105.5,23.3 111.3,22.5 114.8,24.5 117.7,27.4 117.7,30.3 121.2,32.1 124.7,35.0 127.7,36.7 131.2,37.3 134.7,35.6 138.2,33.8 140.7,33.4 142.7,35.3 145.3,39.3 146.6,43.2 151.9,45.2 157.1,48.5 162.4,49.8 169.0,48.5 173.6,47.2 176.8,43.9 182.1,41.9 188.7,41.3 193.9,42.6 199.2,44.5 204.4,47.2 209.7,49.1 213.0,50.4 213.6,55.1 211.0,59.0 209.7,62.9 211.0,68.2 210.2,72.2 210.9,77.2 215.1,78.6 216.2,80.0 213.7,83.5 211.3,86.7 213.0,89.2 215.9,92.7 220.1,94.8 221.5,96.2 221.9,100.5 223.6,101.2 223.3,103.3 219.4,104.7 216.2,105.4 215.5,109.7 214.8,112.5 211.6,111.8 207.4,111.0 200.3,109.9 193.1,108.9 191.1,106.9 190.0,103.3 187.0,102.3 182.9,103.3 178.8,104.9 173.7,103.3 167.6,100.3 162.5,97.2 158.7,94.9 155.1,88.7 151.6,84.4 146.4,83.5 144.6,87.0 142.5,86.3 141.1,87.0 142.9,90.5 142.0,93.1 144.6,95.7 146.1,99.2 149.2,101.8 152.2,105.4 154.3,108.4 155.6,109.8 156.3,107.4 158.4,106.9 160.4,108.4 159.9,113.6 158.4,115.6 161.4,117.6 165.5,118.7 171.6,118.1 175.7,116.6 178.8,113.6 181.9,110.5 184.9,107.4 186.0,106.4 186.5,109.5 187.0,115.1 189.0,116.6 193.1,119.2 198.2,121.2 201.8,123.8 204.9,126.8 204.3,129.9 201.3,134.0 198.2,136.0 196.2,140.1 194.1,144.2 190.4,146.9 185.2,150.9 179.9,154.8 173.4,157.4 166.8,160.0 164.2,162.7 158.9,166.0 152.3,168.6 145.8,171.9 140.5,173.8 133.9,175.8 127.4,177.8 120.8,180.4 115.6,179.8 114.2,174.5 112.9,169.2 112.3,164.0 111.6,158.7 109.0,153.5 105.0,148.2 101.1,141.7 96.9,137.9 93.0,134.0 91.7,127.4 90.3,122.8 85.1,118.2 82.5,114.2 79.8,109.0 75.2,102.4 72.0,97.2 70.0,90.6 69.3,89.5 68.7,90.2 67.5,93.5 66.7,97.2 66.0,97.8 63.5,94.0 60.5,90.5 57.5,87.0 56.5,86.2 55.8,87.0 58.0,90.5 61.0,94.5 62.8,97.5 65.4,103.7 69.3,111.6 73.3,118.2 73.9,122.1 77.2,126.1 79.8,129.4 15.2,129.4 15.2,87.0 14.0,86.0 13.2,84.0 13.5,80.0 14.3,77.8 15.0,77.1 19.7,77.1 25.5,77.7 31.4,79.5 37.2,81.2 41.9,79.5 47.7,77.5 52.4,78.3 57.1,79.8 61.7,79.5 66.0,79.3 67.5,77.1 68.6,74.9 69.7,70.6 71.5,66.9 73.3,63.3 74.4,59.6 74.1,55.2 75.1,52.3 75.9,50.1 74.0,49.4 70.4,49.0 66.7,50.1 63.1,51.6 61.5,51.6 57.2,52.9 53.6,51.6 51.0,49.9 47.5,49.0 44.9,50.7 41.4,52.5 38.8,52.1 36.1,49.9 32.6,49.0 29.1,49.4 27.8,47.2 26.9,45.1 25.6,42.0 22.6,40.7 22.6,38.5 23.4,35.4 21.5,34.4 21.6,30.3 21.2,27.3 23.2,24.5 22.7,21.8" fill="none" stroke="#2d2d2d" stroke-width="0.85" stroke-linejoin="round"/>
<circle cx="119.50" cy="52.36" r="1.25" fill="#3a63ff"/>
<circle cx="119.50" cy="52.36" r="1.25" fill="#3a63ff"/>
<circle cx="124.94" cy="55.09" r="1.25" fill="#3a63ff"/>
<circle cx="127.66" cy="57.82" r="1.25" fill="#3a63ff"/>
<circle cx="133.10" cy="60.55" r="1.25" fill="#3a63ff"/>
<circle cx="149.42" cy="71.47" r="1.25" fill="#3a63ff"/>
<circle cx="152.14" cy="71.47" r="1.25" fill="#3a63ff"/>
<circle cx="154.86" cy="74.20" r="1.25" fill="#3a63ff"/>
<circle cx="157.58" cy="74.20" r="1.25" fill="#3a63ff"/>
<circle cx="160.30" cy="74.20" r="1.25" fill="#3a63ff"/>
<circle cx="160.30" cy="76.93" r="1.25" fill="#3a63ff"/>
<circle cx="163.02" cy="76.93" r="1.25" fill="#3a63ff"/>
<circle cx="163.02" cy="79.66" r="1.25" fill="#3a63ff"/>
<circle cx="165.74" cy="82.39" r="1.25" fill="#3a63ff"/>
<circle cx="168.46" cy="82.39" r="1.25" fill="#3a63ff"/>
<circle cx="171.18" cy="85.12" r="1.25" fill="#3a63ff"/>
<circle cx="173.90" cy="87.85" r="1.25" fill="#3a63ff"/>
<circle cx="176.62" cy="87.85" r="1.25" fill="#3a63ff"/>
<circle cx="179.34" cy="87.85" r="1.25" fill="#3a63ff"/>
<circle cx="163.02" cy="52.36" r="1.25" fill="#3a63ff"/>
<circle cx="165.74" cy="55.09" r="1.25" fill="#3a63ff"/>
<circle cx="168.46" cy="57.82" r="1.25" fill="#3a63ff"/>
<circle cx="171.18" cy="60.55" r="1.25" fill="#3a63ff"/>
<circle cx="171.18" cy="63.28" r="1.25" fill="#3a63ff"/>
<circle cx="173.90" cy="66.01" r="1.25" fill="#3a63ff"/>
<circle cx="171.18" cy="68.74" r="1.25" fill="#3a63ff"/>
<circle cx="173.90" cy="71.47" r="1.25" fill="#3a63ff"/>
<circle cx="176.62" cy="74.20" r="1.25" fill="#3a63ff"/>
<circle cx="179.34" cy="76.93" r="1.25" fill="#3a63ff"/>
<circle cx="179.34" cy="79.66" r="1.25" fill="#3a63ff"/>
<circle cx="182.06" cy="79.66" r="1.25" fill="#3a63ff"/>
<circle cx="184.78" cy="82.39" r="1.25" fill="#3a63ff"/>
<circle cx="184.78" cy="85.12" r="1.25" fill="#3a63ff"/>
<circle cx="182.06" cy="85.12" r="1.25" fill="#3a63ff"/>
<circle cx="179.34" cy="85.12" r="1.25" fill="#3a63ff"/>
<circle cx="192.94" cy="46.90" r="1.25" fill="#3a63ff"/>
<circle cx="195.66" cy="46.90" r="1.25" fill="#3a63ff"/>
<circle cx="190.22" cy="49.63" r="1.25" fill="#3a63ff"/>
<circle cx="192.94" cy="49.63" r="1.25" fill="#3a63ff"/>
<circle cx="195.66" cy="49.63" r="1.25" fill="#3a63ff"/>
<circle cx="187.50" cy="52.36" r="1.25" fill="#3a63ff"/>
<circle cx="190.22" cy="52.36" r="1.25" fill="#3a63ff"/>
<circle cx="192.94" cy="52.36" r="1.25" fill="#3a63ff"/>
<circle cx="184.78" cy="55.09" r="1.25" fill="#3a63ff"/>
<circle cx="187.50" cy="55.09" r="1.25" fill="#3a63ff"/>
<circle cx="190.22" cy="55.09" r="1.25" fill="#3a63ff"/>
<circle cx="182.06" cy="55.09" r="1.25" fill="#3a63ff"/>
<circle cx="184.78" cy="57.82" r="1.25" fill="#3a63ff"/>
<circle cx="187.50" cy="57.82" r="1.25" fill="#3a63ff"/>
<circle cx="190.22" cy="57.82" r="1.25" fill="#3a63ff"/>
<circle cx="192.94" cy="57.82" r="1.25" fill="#3a63ff"/>
<circle cx="195.66" cy="60.55" r="1.25" fill="#3a63ff"/>
<circle cx="198.38" cy="63.28" r="1.25" fill="#3a63ff"/>
<circle cx="201.10" cy="63.28" r="1.25" fill="#3a63ff"/>
<circle cx="203.82" cy="66.01" r="1.25" fill="#3a63ff"/>
<circle cx="206.54" cy="63.28" r="1.25" fill="#3a63ff"/>
<circle cx="24.30" cy="22.33" r="1.25" fill="#f4f5f0"/>
<path d="M24.30,21.08a1.25,1.25 0 0 0 0,2.5z" fill="#3a63ff"/>
<circle cx="29.74" cy="25.06" r="1.25" fill="#f4f5f0"/>
<path d="M29.74,23.81a1.25,1.25 0 0 0 0,2.5z" fill="#3a63ff"/>
<circle cx="27.02" cy="33.25" r="1.25" fill="#f4f5f0"/>
<path d="M27.02,32.00a1.25,1.25 0 0 0 0,2.5z" fill="#3a63ff"/>
<circle cx="29.74" cy="30.52" r="1.25" fill="#f4f5f0"/>
<path d="M29.74,29.27a1.25,1.25 0 0 0 0,2.5z" fill="#3a63ff"/>
<circle cx="29.74" cy="33.25" r="1.25" fill="#f4f5f0"/>
<path d="M29.74,32.00a1.25,1.25 0 0 0 0,2.5z" fill="#3a63ff"/>
<circle cx="32.46" cy="33.25" r="1.25" fill="#f4f5f0"/>
<path d="M32.46,32.00a1.25,1.25 0 0 0 0,2.5z" fill="#3a63ff"/>
<circle cx="37.90" cy="41.44" r="1.25" fill="#f4f5f0"/>
<path d="M37.90,40.19a1.25,1.25 0 0 0 0,2.5z" fill="#3a63ff"/>
<circle cx="40.62" cy="44.17" r="1.25" fill="#f4f5f0"/>
<path d="M40.62,42.92a1.25,1.25 0 0 0 0,2.5z" fill="#3a63ff"/>
<circle cx="103.18" cy="126.07" r="1.25" fill="#ee1b14"/>
<circle cx="108.62" cy="134.26" r="1.25" fill="#ee1b14"/>
<circle cx="111.34" cy="136.99" r="1.25" fill="#ee1b14"/>
<circle cx="114.06" cy="142.45" r="1.25" fill="#ee1b14"/>
<circle cx="116.78" cy="145.18" r="1.25" fill="#ee1b14"/>
<circle cx="116.78" cy="147.91" r="1.25" fill="#ee1b14"/>
<circle cx="116.78" cy="150.64" r="1.25" fill="#ee1b14"/>
<circle cx="116.78" cy="153.37" r="1.25" fill="#ee1b14"/>
<circle cx="111.34" cy="156.10" r="1.25" fill="#ee1b14"/>
<circle cx="119.50" cy="158.83" r="1.25" fill="#ee1b14"/>
<circle cx="119.50" cy="161.56" r="1.25" fill="#ee1b14"/>
<circle cx="127.66" cy="167.02" r="1.25" fill="#ee1b14"/>
<circle cx="130.38" cy="167.02" r="1.25" fill="#ee1b14"/>
<circle cx="138.54" cy="120.61" r="1.25" fill="#ee1b14"/>
<circle cx="135.82" cy="123.34" r="1.25" fill="#ee1b14"/>
<circle cx="133.10" cy="126.07" r="1.25" fill="#ee1b14"/>
<circle cx="130.38" cy="128.80" r="1.25" fill="#ee1b14"/>
<circle cx="130.38" cy="131.53" r="1.25" fill="#ee1b14"/>
<circle cx="130.38" cy="134.26" r="1.25" fill="#ee1b14"/>
<circle cx="130.38" cy="136.99" r="1.25" fill="#ee1b14"/>
<circle cx="133.10" cy="128.80" r="1.25" fill="#ee1b14"/>
<circle cx="133.10" cy="131.53" r="1.25" fill="#ee1b14"/>
<circle cx="133.10" cy="134.26" r="1.25" fill="#ee1b14"/>
<circle cx="133.10" cy="136.99" r="1.25" fill="#ee1b14"/>
<circle cx="133.10" cy="139.72" r="1.25" fill="#ee1b14"/>
<circle cx="135.82" cy="139.72" r="1.25" fill="#ee1b14"/>
<circle cx="135.82" cy="142.45" r="1.25" fill="#ee1b14"/>
<circle cx="138.54" cy="145.18" r="1.25" fill="#ee1b14"/>
<circle cx="138.54" cy="147.91" r="1.25" fill="#ee1b14"/>
<circle cx="138.54" cy="150.64" r="1.25" fill="#ee1b14"/>
<circle cx="138.54" cy="153.37" r="1.25" fill="#ee1b14"/>
<circle cx="138.54" cy="156.10" r="1.25" fill="#ee1b14"/>
<circle cx="135.82" cy="156.10" r="1.25" fill="#ee1b14"/>
<circle cx="135.82" cy="158.83" r="1.25" fill="#ee1b14"/>
<circle cx="135.82" cy="161.56" r="1.25" fill="#ee1b14"/>
<circle cx="138.54" cy="142.45" r="1.25" fill="#ee1b14"/>
<circle cx="124.94" cy="76.93" r="1.25" fill="#f4f5f0"/>
<path d="M124.94,75.68a1.25,1.25 0 0 0 0,2.5z" fill="#ee1b14"/>
<circle cx="127.66" cy="74.20" r="1.25" fill="#f4f5f0"/>
<path d="M127.66,72.95a1.25,1.25 0 0 0 0,2.5z" fill="#ee1b14"/>
<circle cx="130.38" cy="74.20" r="1.25" fill="#f4f5f0"/>
<path d="M130.38,72.95a1.25,1.25 0 0 0 0,2.5z" fill="#ee1b14"/>
<circle cx="133.10" cy="74.20" r="1.25" fill="#f4f5f0"/>
<path d="M133.10,72.95a1.25,1.25 0 0 0 0,2.5z" fill="#ee1b14"/>
<circle cx="135.82" cy="76.93" r="1.25" fill="#f4f5f0"/>
<path d="M135.82,75.68a1.25,1.25 0 0 0 0,2.5z" fill="#ee1b14"/>
<circle cx="138.54" cy="76.93" r="1.25" fill="#f4f5f0"/>
<path d="M138.54,75.68a1.25,1.25 0 0 0 0,2.5z" fill="#ee1b14"/>
<circle cx="141.26" cy="79.66" r="1.25" fill="#f4f5f0"/>
<path d="M141.26,78.41a1.25,1.25 0 0 0 0,2.5z" fill="#ee1b14"/>
<circle cx="143.98" cy="79.66" r="1.25" fill="#f4f5f0"/>
<path d="M143.98,78.41a1.25,1.25 0 0 0 0,2.5z" fill="#ee1b14"/>
<circle cx="143.98" cy="82.39" r="1.25" fill="#f4f5f0"/>
<path d="M143.98,81.14a1.25,1.25 0 0 0 0,2.5z" fill="#ee1b14"/>
<circle cx="127.66" cy="79.66" r="1.25" fill="#f4f5f0"/>
<path d="M127.66,78.41a1.25,1.25 0 0 0 0,2.5z" fill="#ee1b14"/>
<circle cx="130.38" cy="76.93" r="1.25" fill="#f4f5f0"/>
<path d="M130.38,75.68a1.25,1.25 0 0 0 0,2.5z" fill="#ee1b14"/>
<circle cx="160.30" cy="93.31" r="1.25" fill="#f4f5f0"/>
<path d="M160.30,92.06a1.25,1.25 0 0 0 0,2.5z" fill="#ee1b14"/>
<circle cx="160.30" cy="96.04" r="1.25" fill="#f4f5f0"/>
<path d="M160.30,94.79a1.25,1.25 0 0 0 0,2.5z" fill="#ee1b14"/>
<circle cx="165.74" cy="96.04" r="1.25" fill="#f4f5f0"/>
<path d="M165.74,94.79a1.25,1.25 0 0 0 0,2.5z" fill="#ee1b14"/>
<circle cx="168.46" cy="96.04" r="1.25" fill="#f4f5f0"/>
<path d="M168.46,94.79a1.25,1.25 0 0 0 0,2.5z" fill="#ee1b14"/>
<circle cx="182.06" cy="98.77" r="1.25" fill="#f4f5f0"/>
<path d="M182.06,97.52a1.25,1.25 0 0 0 0,2.5z" fill="#ee1b14"/>
<circle cx="184.78" cy="98.77" r="1.25" fill="#f4f5f0"/>
<path d="M184.78,97.52a1.25,1.25 0 0 0 0,2.5z" fill="#ee1b14"/>
<circle cx="187.50" cy="98.77" r="1.25" fill="#f4f5f0"/>
<path d="M187.50,97.52a1.25,1.25 0 0 0 0,2.5z" fill="#ee1b14"/>
<circle cx="190.22" cy="98.77" r="1.25" fill="#f4f5f0"/>
<path d="M190.22,97.52a1.25,1.25 0 0 0 0,2.5z" fill="#ee1b14"/>
<circle cx="192.94" cy="98.77" r="1.25" fill="#f4f5f0"/>
<path d="M192.94,97.52a1.25,1.25 0 0 0 0,2.5z" fill="#ee1b14"/>
<circle cx="195.66" cy="98.77" r="1.25" fill="#f4f5f0"/>
<path d="M195.66,97.52a1.25,1.25 0 0 0 0,2.5z" fill="#ee1b14"/>
<circle cx="198.38" cy="98.77" r="1.25" fill="#f4f5f0"/>
<path d="M198.38,97.52a1.25,1.25 0 0 0 0,2.5z" fill="#ee1b14"/>
<circle cx="201.10" cy="98.77" r="1.25" fill="#f4f5f0"/>
<path d="M201.10,97.52a1.25,1.25 0 0 0 0,2.5z" fill="#ee1b14"/>
<circle cx="203.82" cy="98.77" r="1.25" fill="#f4f5f0"/>
<path d="M203.82,97.52a1.25,1.25 0 0 0 0,2.5z" fill="#ee1b14"/>
<circle cx="206.54" cy="98.77" r="1.25" fill="#f4f5f0"/>
<path d="M206.54,97.52a1.25,1.25 0 0 0 0,2.5z" fill="#ee1b14"/>
<circle cx="209.26" cy="98.77" r="1.25" fill="#f4f5f0"/>
<path d="M209.26,97.52a1.25,1.25 0 0 0 0,2.5z" fill="#ee1b14"/>
<circle cx="211.98" cy="104.23" r="1.25" fill="#f4f5f0"/>
<path d="M211.98,102.98a1.25,1.25 0 0 0 0,2.5z" fill="#ee1b14"/>
<circle cx="214.70" cy="104.23" r="1.25" fill="#f4f5f0"/>
<path d="M214.70,102.98a1.25,1.25 0 0 0 0,2.5z" fill="#ee1b14"/>
<circle cx="54.22" cy="109.69" r="1.25" fill="#f4f5f0"/>
<path d="M54.22,108.44a1.25,1.25 0 0 0 0,2.5z" fill="#ee1b14"/>
<circle cx="56.94" cy="106.96" r="1.25" fill="#f4f5f0"/>
<path d="M56.94,105.71a1.25,1.25 0 0 0 0,2.5z" fill="#ee1b14"/>
<circle cx="65.10" cy="106.96" r="1.25" fill="#f4f5f0"/>
<path d="M65.10,105.71a1.25,1.25 0 0 0 0,2.5z" fill="#ee1b14"/>
<circle cx="67.82" cy="112.42" r="1.25" fill="#f4f5f0"/>
<path d="M67.82,111.17a1.25,1.25 0 0 0 0,2.5z" fill="#ee1b14"/>
<circle cx="56.94" cy="120.61" r="1.25" fill="#f4f5f0"/>
<path d="M56.94,119.36a1.25,1.25 0 0 0 0,2.5z" fill="#ee1b14"/>
<circle cx="59.66" cy="123.34" r="1.25" fill="#f4f5f0"/>
<path d="M59.66,122.09a1.25,1.25 0 0 0 0,2.5z" fill="#ee1b14"/>
<circle cx="62.38" cy="128.80" r="1.25" fill="#f4f5f0"/>
<path d="M62.38,127.55a1.25,1.25 0 0 0 0,2.5z" fill="#ee1b14"/>
<circle cx="81.42" cy="106.96" r="1.25" fill="#f4f5f0"/>
<path d="M81.42,105.71a1.25,1.25 0 0 0 0,2.5z" fill="#ee1b14"/>
<circle cx="84.14" cy="106.96" r="1.25" fill="#f4f5f0"/>
<path d="M84.14,105.71a1.25,1.25 0 0 0 0,2.5z" fill="#ee1b14"/>
<circle cx="92.30" cy="112.42" r="1.25" fill="#f4f5f0"/>
<path d="M92.30,111.17a1.25,1.25 0 0 0 0,2.5z" fill="#ee1b14"/>
<circle cx="138.54" cy="106.96" r="1.25" fill="#f4f5f0"/>
<path d="M138.54,105.71a1.25,1.25 0 0 0 0,2.5z" fill="#ee1b14"/>
</g>
<text x="0" y="0" transform="translate(5.10,431.40) rotate(-90)" class="ax">40°N</text>
<text x="0" y="0" transform="translate(5.10,486.00) rotate(-90)" class="ax">30°N</text>
<text x="0" y="0" transform="translate(5.10,540.60) rotate(-90)" class="ax">20°N</text>
<text x="42.70" y="595.40" class="ax2">30°E</text>
<text x="124.50" y="595.40" class="ax2">45°E</text>
<text x="205.90" y="595.40" class="ax2">60°E</text>
<text x="222.60" y="410.30" class="pl">(g)</text>
<rect x="234.3" y="401.5" width="220.3" height="189.9" fill="none" stroke="#8c8c8c" stroke-width="1"/>
<g transform="translate(228.90,400.80)">
<polygon points="22.7,20.8 25.0,20.1 27.3,19.7 31.4,20.1 32.4,22.5 34.4,23.9 37.0,24.6 40.5,25.2 45.8,25.3 50.1,23.6 54.5,21.4 58.9,20.5 64.2,20.5 69.3,20.1 72.8,22.1 76.3,23.3 79.8,23.9 84.5,25.6 90.3,26.5 96.1,26.0 100.8,24.8 105.5,23.3 111.3,22.5 114.8,24.5 117.7,27.4 117.7,30.3 121.2,32.1 124.7,35.0 127.7,36.7 131.2,37.3 134.7,35.6 138.2,33.8 140.7,33.4 142.7,35.3 145.3,39.3 146.6,43.2 151.9,45.2 157.1,48.5 162.4,49.8 169.0,48.5 173.6,47.2 176.8,43.9 182.1,41.9 188.7,41.3 193.9,42.6 199.2,44.5 204.4,47.2 209.7,49.1 213.0,50.4 213.6,55.1 211.0,59.0 209.7,62.9 211.0,68.2 210.2,72.2 210.9,77.2 215.1,78.6 216.2,80.0 213.7,83.5 211.3,86.7 213.0,89.2 215.9,92.7 220.1,94.8 221.5,96.2 221.9,100.5 223.6,101.2 223.3,103.3 219.4,104.7 216.2,105.4 215.5,109.7 214.8,112.5 211.6,111.8 207.4,111.0 200.3,109.9 193.1,108.9 191.1,106.9 190.0,103.3 187.0,102.3 182.9,103.3 178.8,104.9 173.7,103.3 167.6,100.3 162.5,97.2 158.7,94.9 155.1,88.7 151.6,84.4 146.4,83.5 144.6,87.0 142.5,86.3 141.1,87.0 142.9,90.5 142.0,93.1 144.6,95.7 146.1,99.2 149.2,101.8 152.2,105.4 154.3,108.4 155.6,109.8 156.3,107.4 158.4,106.9 160.4,108.4 159.9,113.6 158.4,115.6 161.4,117.6 165.5,118.7 171.6,118.1 175.7,116.6 178.8,113.6 181.9,110.5 184.9,107.4 186.0,106.4 186.5,109.5 187.0,115.1 189.0,116.6 193.1,119.2 198.2,121.2 201.8,123.8 204.9,126.8 204.3,129.9 201.3,134.0 198.2,136.0 196.2,140.1 194.1,144.2 190.4,146.9 185.2,150.9 179.9,154.8 173.4,157.4 166.8,160.0 164.2,162.7 158.9,166.0 152.3,168.6 145.8,171.9 140.5,173.8 133.9,175.8 127.4,177.8 120.8,180.4 115.6,179.8 114.2,174.5 112.9,169.2 112.3,164.0 111.6,158.7 109.0,153.5 105.0,148.2 101.1,141.7 96.9,137.9 93.0,134.0 91.7,127.4 90.3,122.8 85.1,118.2 82.5,114.2 79.8,109.0 75.2,102.4 72.0,97.2 70.0,90.6 69.3,89.5 68.7,90.2 67.5,93.5 66.7,97.2 66.0,97.8 63.5,94.0 60.5,90.5 57.5,87.0 56.5,86.2 55.8,87.0 58.0,90.5 61.0,94.5 62.8,97.5 65.4,103.7 69.3,111.6 73.3,118.2 73.9,122.1 77.2,126.1 79.8,129.4 15.2,129.4 15.2,87.0 14.0,86.0 13.2,84.0 13.5,80.0 14.3,77.8 15.0,77.1 19.7,77.1 25.5,77.7 31.4,79.5 37.2,81.2 41.9,79.5 47.7,77.5 52.4,78.3 57.1,79.8 61.7,79.5 66.0,79.3 67.5,77.1 68.6,74.9 69.7,70.6 71.5,66.9 73.3,63.3 74.4,59.6 74.1,55.2 75.1,52.3 75.9,50.1 74.0,49.4 70.4,49.0 66.7,50.1 63.1,51.6 61.5,51.6 57.2,52.9 53.6,51.6 51.0,49.9 47.5,49.0 44.9,50.7 41.4,52.5 38.8,52.1 36.1,49.9 32.6,49.0 29.1,49.4 27.8,47.2 26.9,45.1 25.6,42.0 22.6,40.7 22.6,38.5 23.4,35.4 21.5,34.4 21.6,30.3 21.2,27.3 23.2,24.5 22.7,21.8" fill="url(#pg)"/>
<g clip-path="url(#land)">
<polygon points="19.7,17.3 125.0,10.0 150.0,25.0 160.9,49.6 166.8,53.0 170.2,58.1 173.6,64.8 177.0,73.3 181.2,76.7 185.5,84.3 177.8,87.7 171.1,86.0 166.0,80.9 160.9,75.8 154.1,73.3 149.0,69.9 144.0,66.5 135.5,62.3 127.0,57.2 120.3,50.4 110.1,48.8 120.1,49.5 110.1,48.8 99.0,47.4 92.0,48.0 85.0,48.6 79.5,49.4 78.4,50.9 77.0,53.0 75.1,53.0 70.0,56.0 43.5,53.4 42.7,49.5 41.2,43.4 38.1,39.6 35.0,35.7 33.5,28.1 24.3,27.3 19.7,27.3" fill="url(#pc)"/>
<polygon points="205.0,52.0 212.0,52.0 212.0,57.0 205.0,57.0" fill="url(#pc)"/>
<polygon points="73.0,103.0 83.0,108.1 88.3,109.0 92.7,113.4 97.9,117.8 103.2,123.0 107.5,128.3 111.9,132.6 115.4,137.9 118.1,143.2 118.9,148.8 120.2,154.4 121.0,164.9 131.5,164.9 133.3,162.8 135.6,155.8 135.6,152.3 132.9,145.3 130.3,141.8 129.4,133.0 130.3,124.2 132.9,120.7 136.1,117.2 136.8,106.7 135.6,99.7 134.7,92.7 134.7,89.2 137.2,91.9 127.0,88.6 127.0,75.8 133.8,74.7 144.0,80.1 146.5,86.0 150.0,92.0 160.0,99.0 159.2,91.6 166.0,96.7 211.0,99.8 213.6,104.5 213.8,113.5 222.0,116.0 230.0,125.0 230.0,195.0 100.0,195.0 92.0,140.0" fill="url(#pp)"/>
<polygon points="53.2,110.2 57.6,105.5 62.0,104.6 67.3,108.8 72.5,115.5 85.6,133.0 61.1,133.0 57.6,124.2 53.2,118.1" fill="url(#pp)"/>
</g>
<polygon points="25.5,28.3 28.0,27.2 32.0,26.2 36.5,26.5 40.5,27.3 38.0,28.3 34.0,28.9 29.0,29.2" fill="#fff" stroke="#333" stroke-width="0.6"/>
<polyline points="75.1,53.0 77.0,53.0 78.4,50.9 79.5,49.4 85.0,48.6 92.0,48.0 99.0,47.4 105.5,46.9 109.8,46.5" fill="none" stroke="#2d2d2d" stroke-width="0.85" stroke-linejoin="round"/>
<polyline points="109.8,46.5 114.8,46.3 119.5,46.7 121.8,46.7" fill="none" stroke="#2d2d2d" stroke-width="0.85" stroke-linejoin="round"/>
<polyline points="120.5,32.5 119.5,35.6 120.1,39.1 121.2,42.6 121.8,46.7" fill="none" stroke="#2d2d2d" stroke-width="0.85" stroke-linejoin="round"/>
<polyline points="121.8,46.7 124.2,49.6 127.1,52.5 130.0,54.2 131.2,54.8 129.4,57.2 127.1,60.7 127.1,64.2 130.6,68.6 135.0,71.2 138.5,74.7 140.3,78.2 141.1,81.7 142.4,84.4 144.6,87.0" fill="none" stroke="#2d2d2d" stroke-width="0.85" stroke-linejoin="round"/>
<polyline points="109.8,46.5 106.9,50.1 104.0,54.5 103.2,61.4 96.1,64.8 90.8,67.6" fill="none" stroke="#2d2d2d" stroke-width="0.85" stroke-linejoin="round"/>
<polyline points="90.8,67.6 79.2,73.1 72.6,71.3" fill="none" stroke="#2d2d2d" stroke-width="0.85" stroke-linejoin="round"/>
<polyline points="74.2,60.0 77.7,60.7 78.4,62.5 74.0,69.1 72.6,71.3" fill="none" stroke="#2d2d2d" stroke-width="0.85" stroke-linejoin="round"/>
<polyline points="70.2,70.8 72.6,71.3" fill="none" stroke="#2d2d2d" stroke-width="0.85" stroke-linejoin="round"/>
<polyline points="72.6,71.3 71.8,74.0 71.2,78.0 70.6,82.0 70.0,86.0 69.3,89.5" fill="none" stroke="#2d2d2d" stroke-width="0.85" stroke-linejoin="round"/>
<polyline points="66.0,79.3 69.3,89.5" fill="none" stroke="#2d2d2d" stroke-width="0.85" stroke-linejoin="round"/>
<polyline points="90.8,67.6 91.9,73.8" fill="none" stroke="#2d2d2d" stroke-width="0.85" stroke-linejoin="round"/>
<polyline points="91.9,73.8 82.5,76.8 81.2,78.0 85.1,81.4 83.8,84.0 78.5,88.0 74.6,90.6 70.0,90.3" fill="none" stroke="#2d2d2d" stroke-width="0.85" stroke-linejoin="round"/>
<polyline points="91.9,73.8 98.2,76.1 101.1,76.6 104.8,79.4 112.7,84.0 114.9,85.2 120.6,89.3 122.7,90.5 132.4,90.9" fill="none" stroke="#2d2d2d" stroke-width="0.85" stroke-linejoin="round"/>
<polyline points="132.4,90.9 135.0,86.1 141.1,86.1" fill="none" stroke="#2d2d2d" stroke-width="0.85" stroke-linejoin="round"/>
<polyline points="132.4,90.9 139.4,93.1 142.3,93.3" fill="none" stroke="#2d2d2d" stroke-width="0.85" stroke-linejoin="round"/>
<polyline points="155.6,109.8 157.2,113.8 158.4,115.6" fill="none" stroke="#2d2d2d" stroke-width="0.85" stroke-linejoin="round"/>
<polyline points="161.4,117.6 164.0,122.2 165.5,124.3 171.6,124.8 179.8,126.3" fill="none" stroke="#2d2d2d" stroke-width="0.85" stroke-linejoin="round"/>
<polyline points="179.8,126.3 181.9,122.7 182.4,117.6 183.9,114.6 185.4,112.5 185.9,109.5" fill="none" stroke="#2d2d2d" stroke-width="0.85" stroke-linejoin="round"/>
<polyline points="179.8,126.3 182.4,129.9 181.4,135.0 179.8,139.1 176.8,141.1 171.6,143.2 166.5,145.2 162.9,146.3" fill="none" stroke="#2d2d2d" stroke-width="0.85" stroke-linejoin="round"/>
<polyline points="162.9,146.3 168.1,158.1" fill="none" stroke="#2d2d2d" stroke-width="0.85" stroke-linejoin="round"/>
<polyline points="162.9,146.3 153.7,146.9 143.1,150.2 136.6,160.0 132.0,164.0 132.0,158.7 127.4,156.1 120.8,154.1 114.2,154.8 110.3,155.3" fill="none" stroke="#2d2d2d" stroke-width="0.85" stroke-linejoin="round"/>
<polygon points="70.3,74.5 71.8,74.3 71.5,78.3 70.2,78.6 69.8,76.5" fill="none" stroke="#3a3a3a" stroke-width="0.6"/>
<polygon points="22.7,20.8 25.0,20.1 27.3,19.7 31.4,20.1 32.4,22.5 34.4,23.9 37.0,24.6 40.5,25.2 45.8,25.3 50.1,23.6 54.5,21.4 58.9,20.5 64.2,20.5 69.3,20.1 72.8,22.1 76.3,23.3 79.8,23.9 84.5,25.6 90.3,26.5 96.1,26.0 100.8,24.8 105.5,23.3 111.3,22.5 114.8,24.5 117.7,27.4 117.7,30.3 121.2,32.1 124.7,35.0 127.7,36.7 131.2,37.3 134.7,35.6 138.2,33.8 140.7,33.4 142.7,35.3 145.3,39.3 146.6,43.2 151.9,45.2 157.1,48.5 162.4,49.8 169.0,48.5 173.6,47.2 176.8,43.9 182.1,41.9 188.7,41.3 193.9,42.6 199.2,44.5 204.4,47.2 209.7,49.1 213.0,50.4 213.6,55.1 211.0,59.0 209.7,62.9 211.0,68.2 210.2,72.2 210.9,77.2 215.1,78.6 216.2,80.0 213.7,83.5 211.3,86.7 213.0,89.2 215.9,92.7 220.1,94.8 221.5,96.2 221.9,100.5 223.6,101.2 223.3,103.3 219.4,104.7 216.2,105.4 215.5,109.7 214.8,112.5 211.6,111.8 207.4,111.0 200.3,109.9 193.1,108.9 191.1,106.9 190.0,103.3 187.0,102.3 182.9,103.3 178.8,104.9 173.7,103.3 167.6,100.3 162.5,97.2 158.7,94.9 155.1,88.7 151.6,84.4 146.4,83.5 144.6,87.0 142.5,86.3 141.1,87.0 142.9,90.5 142.0,93.1 144.6,95.7 146.1,99.2 149.2,101.8 152.2,105.4 154.3,108.4 155.6,109.8 156.3,107.4 158.4,106.9 160.4,108.4 159.9,113.6 158.4,115.6 161.4,117.6 165.5,118.7 171.6,118.1 175.7,116.6 178.8,113.6 181.9,110.5 184.9,107.4 186.0,106.4 186.5,109.5 187.0,115.1 189.0,116.6 193.1,119.2 198.2,121.2 201.8,123.8 204.9,126.8 204.3,129.9 201.3,134.0 198.2,136.0 196.2,140.1 194.1,144.2 190.4,146.9 185.2,150.9 179.9,154.8 173.4,157.4 166.8,160.0 164.2,162.7 158.9,166.0 152.3,168.6 145.8,171.9 140.5,173.8 133.9,175.8 127.4,177.8 120.8,180.4 115.6,179.8 114.2,174.5 112.9,169.2 112.3,164.0 111.6,158.7 109.0,153.5 105.0,148.2 101.1,141.7 96.9,137.9 93.0,134.0 91.7,127.4 90.3,122.8 85.1,118.2 82.5,114.2 79.8,109.0 75.2,102.4 72.0,97.2 70.0,90.6 69.3,89.5 68.7,90.2 67.5,93.5 66.7,97.2 66.0,97.8 63.5,94.0 60.5,90.5 57.5,87.0 56.5,86.2 55.8,87.0 58.0,90.5 61.0,94.5 62.8,97.5 65.4,103.7 69.3,111.6 73.3,118.2 73.9,122.1 77.2,126.1 79.8,129.4 15.2,129.4 15.2,87.0 14.0,86.0 13.2,84.0 13.5,80.0 14.3,77.8 15.0,77.1 19.7,77.1 25.5,77.7 31.4,79.5 37.2,81.2 41.9,79.5 47.7,77.5 52.4,78.3 57.1,79.8 61.7,79.5 66.0,79.3 67.5,77.1 68.6,74.9 69.7,70.6 71.5,66.9 73.3,63.3 74.4,59.6 74.1,55.2 75.1,52.3 75.9,50.1 74.0,49.4 70.4,49.0 66.7,50.1 63.1,51.6 61.5,51.6 57.2,52.9 53.6,51.6 51.0,49.9 47.5,49.0 44.9,50.7 41.4,52.5 38.8,52.1 36.1,49.9 32.6,49.0 29.1,49.4 27.8,47.2 26.9,45.1 25.6,42.0 22.6,40.7 22.6,38.5 23.4,35.4 21.5,34.4 21.6,30.3 21.2,27.3 23.2,24.5 22.7,21.8" fill="none" stroke="#2d2d2d" stroke-width="0.85" stroke-linejoin="round"/>
<circle cx="24.30" cy="22.33" r="1.25" fill="#3a63ff"/>
<circle cx="24.30" cy="25.06" r="1.25" fill="#3a63ff"/>
<circle cx="29.74" cy="25.06" r="1.25" fill="#3a63ff"/>
<circle cx="32.46" cy="25.06" r="1.25" fill="#3a63ff"/>
<circle cx="27.02" cy="33.25" r="1.25" fill="#3a63ff"/>
<circle cx="29.74" cy="30.52" r="1.25" fill="#3a63ff"/>
<circle cx="32.46" cy="30.52" r="1.25" fill="#3a63ff"/>
<circle cx="29.74" cy="33.25" r="1.25" fill="#3a63ff"/>
<circle cx="32.46" cy="33.25" r="1.25" fill="#3a63ff"/>
<circle cx="29.74" cy="35.98" r="1.25" fill="#3a63ff"/>
<circle cx="32.46" cy="35.98" r="1.25" fill="#3a63ff"/>
<circle cx="35.18" cy="38.71" r="1.25" fill="#3a63ff"/>
<circle cx="37.90" cy="41.44" r="1.25" fill="#3a63ff"/>
<circle cx="37.90" cy="44.17" r="1.25" fill="#3a63ff"/>
<circle cx="40.62" cy="46.90" r="1.25" fill="#3a63ff"/>
<circle cx="35.18" cy="35.98" r="1.25" fill="#3a63ff"/>
<circle cx="37.90" cy="38.71" r="1.25" fill="#3a63ff"/>
<circle cx="78.70" cy="49.63" r="1.25" fill="#3a63ff"/>
<circle cx="84.14" cy="49.63" r="1.25" fill="#3a63ff"/>
<circle cx="86.86" cy="49.63" r="1.25" fill="#3a63ff"/>
<circle cx="160.30" cy="52.36" r="1.25" fill="#f4f5f0"/>
<path d="M160.30,51.11a1.25,1.25 0 0 0 0,2.5z" fill="#3a63ff"/>
<circle cx="160.30" cy="55.09" r="1.25" fill="#f4f5f0"/>
<path d="M160.30,53.84a1.25,1.25 0 0 0 0,2.5z" fill="#3a63ff"/>
<circle cx="163.02" cy="52.36" r="1.25" fill="#f4f5f0"/>
<path d="M163.02,51.11a1.25,1.25 0 0 0 0,2.5z" fill="#3a63ff"/>
<circle cx="163.02" cy="55.09" r="1.25" fill="#f4f5f0"/>
<path d="M163.02,53.84a1.25,1.25 0 0 0 0,2.5z" fill="#3a63ff"/>
<circle cx="165.74" cy="55.09" r="1.25" fill="#f4f5f0"/>
<path d="M165.74,53.84a1.25,1.25 0 0 0 0,2.5z" fill="#3a63ff"/>
<circle cx="165.74" cy="57.82" r="1.25" fill="#f4f5f0"/>
<path d="M165.74,56.57a1.25,1.25 0 0 0 0,2.5z" fill="#3a63ff"/>
<circle cx="168.46" cy="55.09" r="1.25" fill="#f4f5f0"/>
<path d="M168.46,53.84a1.25,1.25 0 0 0 0,2.5z" fill="#3a63ff"/>
<circle cx="168.46" cy="57.82" r="1.25" fill="#f4f5f0"/>
<path d="M168.46,56.57a1.25,1.25 0 0 0 0,2.5z" fill="#3a63ff"/>
<circle cx="168.46" cy="60.55" r="1.25" fill="#f4f5f0"/>
<path d="M168.46,59.30a1.25,1.25 0 0 0 0,2.5z" fill="#3a63ff"/>
<circle cx="168.46" cy="63.28" r="1.25" fill="#f4f5f0"/>
<path d="M168.46,62.03a1.25,1.25 0 0 0 0,2.5z" fill="#3a63ff"/>
<circle cx="168.46" cy="66.01" r="1.25" fill="#f4f5f0"/>
<path d="M168.46,64.76a1.25,1.25 0 0 0 0,2.5z" fill="#3a63ff"/>
<circle cx="168.46" cy="68.74" r="1.25" fill="#f4f5f0"/>
<path d="M168.46,67.49a1.25,1.25 0 0 0 0,2.5z" fill="#3a63ff"/>
<circle cx="168.46" cy="71.47" r="1.25" fill="#f4f5f0"/>
<path d="M168.46,70.22a1.25,1.25 0 0 0 0,2.5z" fill="#3a63ff"/>
<circle cx="168.46" cy="74.20" r="1.25" fill="#f4f5f0"/>
<path d="M168.46,72.95a1.25,1.25 0 0 0 0,2.5z" fill="#3a63ff"/>
<circle cx="171.18" cy="60.55" r="1.25" fill="#f4f5f0"/>
<path d="M171.18,59.30a1.25,1.25 0 0 0 0,2.5z" fill="#3a63ff"/>
<circle cx="171.18" cy="63.28" r="1.25" fill="#f4f5f0"/>
<path d="M171.18,62.03a1.25,1.25 0 0 0 0,2.5z" fill="#3a63ff"/>
<circle cx="171.18" cy="66.01" r="1.25" fill="#f4f5f0"/>
<path d="M171.18,64.76a1.25,1.25 0 0 0 0,2.5z" fill="#3a63ff"/>
<circle cx="171.18" cy="68.74" r="1.25" fill="#f4f5f0"/>
<path d="M171.18,67.49a1.25,1.25 0 0 0 0,2.5z" fill="#3a63ff"/>
<circle cx="171.18" cy="71.47" r="1.25" fill="#f4f5f0"/>
<path d="M171.18,70.22a1.25,1.25 0 0 0 0,2.5z" fill="#3a63ff"/>
<circle cx="171.18" cy="74.20" r="1.25" fill="#f4f5f0"/>
<path d="M171.18,72.95a1.25,1.25 0 0 0 0,2.5z" fill="#3a63ff"/>
<circle cx="171.18" cy="76.93" r="1.25" fill="#f4f5f0"/>
<path d="M171.18,75.68a1.25,1.25 0 0 0 0,2.5z" fill="#3a63ff"/>
<circle cx="171.18" cy="79.66" r="1.25" fill="#f4f5f0"/>
<path d="M171.18,78.41a1.25,1.25 0 0 0 0,2.5z" fill="#3a63ff"/>
<circle cx="173.90" cy="63.28" r="1.25" fill="#f4f5f0"/>
<path d="M173.90,62.03a1.25,1.25 0 0 0 0,2.5z" fill="#3a63ff"/>
<circle cx="173.90" cy="66.01" r="1.25" fill="#f4f5f0"/>
<path d="M173.90,64.76a1.25,1.25 0 0 0 0,2.5z" fill="#3a63ff"/>
<circle cx="173.90" cy="68.74" r="1.25" fill="#f4f5f0"/>
<path d="M173.90,67.49a1.25,1.25 0 0 0 0,2.5z" fill="#3a63ff"/>
<circle cx="173.90" cy="71.47" r="1.25" fill="#f4f5f0"/>
<path d="M173.90,70.22a1.25,1.25 0 0 0 0,2.5z" fill="#3a63ff"/>
<circle cx="173.90" cy="74.20" r="1.25" fill="#f4f5f0"/>
<path d="M173.90,72.95a1.25,1.25 0 0 0 0,2.5z" fill="#3a63ff"/>
<circle cx="173.90" cy="76.93" r="1.25" fill="#f4f5f0"/>
<path d="M173.90,75.68a1.25,1.25 0 0 0 0,2.5z" fill="#3a63ff"/>
<circle cx="173.90" cy="79.66" r="1.25" fill="#f4f5f0"/>
<path d="M173.90,78.41a1.25,1.25 0 0 0 0,2.5z" fill="#3a63ff"/>
<circle cx="173.90" cy="82.39" r="1.25" fill="#f4f5f0"/>
<path d="M173.90,81.14a1.25,1.25 0 0 0 0,2.5z" fill="#3a63ff"/>
<circle cx="176.62" cy="68.74" r="1.25" fill="#f4f5f0"/>
<path d="M176.62,67.49a1.25,1.25 0 0 0 0,2.5z" fill="#3a63ff"/>
<circle cx="176.62" cy="71.47" r="1.25" fill="#f4f5f0"/>
<path d="M176.62,70.22a1.25,1.25 0 0 0 0,2.5z" fill="#3a63ff"/>
<circle cx="176.62" cy="74.20" r="1.25" fill="#f4f5f0"/>
<path d="M176.62,72.95a1.25,1.25 0 0 0 0,2.5z" fill="#3a63ff"/>
<circle cx="176.62" cy="76.93" r="1.25" fill="#f4f5f0"/>
<path d="M176.62,75.68a1.25,1.25 0 0 0 0,2.5z" fill="#3a63ff"/>
<circle cx="176.62" cy="79.66" r="1.25" fill="#f4f5f0"/>
<path d="M176.62,78.41a1.25,1.25 0 0 0 0,2.5z" fill="#3a63ff"/>
<circle cx="176.62" cy="82.39" r="1.25" fill="#f4f5f0"/>
<path d="M176.62,81.14a1.25,1.25 0 0 0 0,2.5z" fill="#3a63ff"/>
<circle cx="176.62" cy="85.12" r="1.25" fill="#f4f5f0"/>
<path d="M176.62,83.87a1.25,1.25 0 0 0 0,2.5z" fill="#3a63ff"/>
<circle cx="179.34" cy="74.20" r="1.25" fill="#f4f5f0"/>
<path d="M179.34,72.95a1.25,1.25 0 0 0 0,2.5z" fill="#3a63ff"/>
<circle cx="179.34" cy="76.93" r="1.25" fill="#f4f5f0"/>
<path d="M179.34,75.68a1.25,1.25 0 0 0 0,2.5z" fill="#3a63ff"/>
<circle cx="179.34" cy="79.66" r="1.25" fill="#f4f5f0"/>
<path d="M179.34,78.41a1.25,1.25 0 0 0 0,2.5z" fill="#3a63ff"/>
<circle cx="179.34" cy="82.39" r="1.25" fill="#f4f5f0"/>
<path d="M179.34,81.14a1.25,1.25 0 0 0 0,2.5z" fill="#3a63ff"/>
<circle cx="179.34" cy="85.12" r="1.25" fill="#f4f5f0"/>
<path d="M179.34,83.87a1.25,1.25 0 0 0 0,2.5z" fill="#3a63ff"/>
<circle cx="182.06" cy="76.93" r="1.25" fill="#f4f5f0"/>
<path d="M182.06,75.68a1.25,1.25 0 0 0 0,2.5z" fill="#3a63ff"/>
<circle cx="182.06" cy="79.66" r="1.25" fill="#f4f5f0"/>
<path d="M182.06,78.41a1.25,1.25 0 0 0 0,2.5z" fill="#3a63ff"/>
<circle cx="182.06" cy="82.39" r="1.25" fill="#f4f5f0"/>
<path d="M182.06,81.14a1.25,1.25 0 0 0 0,2.5z" fill="#3a63ff"/>
<circle cx="182.06" cy="85.12" r="1.25" fill="#f4f5f0"/>
<path d="M182.06,83.87a1.25,1.25 0 0 0 0,2.5z" fill="#3a63ff"/>
<circle cx="184.78" cy="82.39" r="1.25" fill="#f4f5f0"/>
<path d="M184.78,81.14a1.25,1.25 0 0 0 0,2.5z" fill="#3a63ff"/>
<circle cx="184.78" cy="85.12" r="1.25" fill="#f4f5f0"/>
<path d="M184.78,83.87a1.25,1.25 0 0 0 0,2.5z" fill="#3a63ff"/>
<circle cx="182.06" cy="55.09" r="1.25" fill="#f4f5f0"/>
<path d="M182.06,53.84a1.25,1.25 0 0 0 0,2.5z" fill="#3a63ff"/>
<circle cx="184.78" cy="52.36" r="1.25" fill="#f4f5f0"/>
<path d="M184.78,51.11a1.25,1.25 0 0 0 0,2.5z" fill="#3a63ff"/>
<circle cx="184.78" cy="55.09" r="1.25" fill="#f4f5f0"/>
<path d="M184.78,53.84a1.25,1.25 0 0 0 0,2.5z" fill="#3a63ff"/>
<circle cx="184.78" cy="57.82" r="1.25" fill="#f4f5f0"/>
<path d="M184.78,56.57a1.25,1.25 0 0 0 0,2.5z" fill="#3a63ff"/>
<circle cx="187.50" cy="49.63" r="1.25" fill="#f4f5f0"/>
<path d="M187.50,48.38a1.25,1.25 0 0 0 0,2.5z" fill="#3a63ff"/>
<circle cx="187.50" cy="52.36" r="1.25" fill="#f4f5f0"/>
<path d="M187.50,51.11a1.25,1.25 0 0 0 0,2.5z" fill="#3a63ff"/>
<circle cx="187.50" cy="55.09" r="1.25" fill="#f4f5f0"/>
<path d="M187.50,53.84a1.25,1.25 0 0 0 0,2.5z" fill="#3a63ff"/>
<circle cx="187.50" cy="57.82" r="1.25" fill="#f4f5f0"/>
<path d="M187.50,56.57a1.25,1.25 0 0 0 0,2.5z" fill="#3a63ff"/>
<circle cx="190.22" cy="46.90" r="1.25" fill="#f4f5f0"/>
<path d="M190.22,45.65a1.25,1.25 0 0 0 0,2.5z" fill="#3a63ff"/>
<circle cx="190.22" cy="49.63" r="1.25" fill="#f4f5f0"/>
<path d="M190.22,48.38a1.25,1.25 0 0 0 0,2.5z" fill="#3a63ff"/>
<circle cx="190.22" cy="52.36" r="1.25" fill="#f4f5f0"/>
<path d="M190.22,51.11a1.25,1.25 0 0 0 0,2.5z" fill="#3a63ff"/>
<circle cx="190.22" cy="55.09" r="1.25" fill="#f4f5f0"/>
<path d="M190.22,53.84a1.25,1.25 0 0 0 0,2.5z" fill="#3a63ff"/>
<circle cx="190.22" cy="57.82" r="1.25" fill="#f4f5f0"/>
<path d="M190.22,56.57a1.25,1.25 0 0 0 0,2.5z" fill="#3a63ff"/>
<circle cx="192.94" cy="46.90" r="1.25" fill="#f4f5f0"/>
<path d="M192.94,45.65a1.25,1.25 0 0 0 0,2.5z" fill="#3a63ff"/>
<circle cx="192.94" cy="49.63" r="1.25" fill="#f4f5f0"/>
<path d="M192.94,48.38a1.25,1.25 0 0 0 0,2.5z" fill="#3a63ff"/>
<circle cx="192.94" cy="52.36" r="1.25" fill="#f4f5f0"/>
<path d="M192.94,51.11a1.25,1.25 0 0 0 0,2.5z" fill="#3a63ff"/>
<circle cx="192.94" cy="55.09" r="1.25" fill="#f4f5f0"/>
<path d="M192.94,53.84a1.25,1.25 0 0 0 0,2.5z" fill="#3a63ff"/>
<circle cx="192.94" cy="57.82" r="1.25" fill="#f4f5f0"/>
<path d="M192.94,56.57a1.25,1.25 0 0 0 0,2.5z" fill="#3a63ff"/>
<circle cx="195.66" cy="44.17" r="1.25" fill="#f4f5f0"/>
<path d="M195.66,42.92a1.25,1.25 0 0 0 0,2.5z" fill="#3a63ff"/>
<circle cx="195.66" cy="46.90" r="1.25" fill="#f4f5f0"/>
<path d="M195.66,45.65a1.25,1.25 0 0 0 0,2.5z" fill="#3a63ff"/>
<circle cx="195.66" cy="49.63" r="1.25" fill="#f4f5f0"/>
<path d="M195.66,48.38a1.25,1.25 0 0 0 0,2.5z" fill="#3a63ff"/>
<circle cx="195.66" cy="52.36" r="1.25" fill="#f4f5f0"/>
<path d="M195.66,51.11a1.25,1.25 0 0 0 0,2.5z" fill="#3a63ff"/>
<circle cx="195.66" cy="55.09" r="1.25" fill="#f4f5f0"/>
<path d="M195.66,53.84a1.25,1.25 0 0 0 0,2.5z" fill="#3a63ff"/>
<circle cx="195.66" cy="57.82" r="1.25" fill="#f4f5f0"/>
<path d="M195.66,56.57a1.25,1.25 0 0 0 0,2.5z" fill="#3a63ff"/>
<circle cx="195.66" cy="60.55" r="1.25" fill="#f4f5f0"/>
<path d="M195.66,59.30a1.25,1.25 0 0 0 0,2.5z" fill="#3a63ff"/>
<circle cx="195.66" cy="63.28" r="1.25" fill="#f4f5f0"/>
<path d="M195.66,62.03a1.25,1.25 0 0 0 0,2.5z" fill="#3a63ff"/>
<circle cx="198.38" cy="44.17" r="1.25" fill="#f4f5f0"/>
<path d="M198.38,42.92a1.25,1.25 0 0 0 0,2.5z" fill="#3a63ff"/>
<circle cx="198.38" cy="46.90" r="1.25" fill="#f4f5f0"/>
<path d="M198.38,45.65a1.25,1.25 0 0 0 0,2.5z" fill="#3a63ff"/>
<circle cx="198.38" cy="49.63" r="1.25" fill="#f4f5f0"/>
<path d="M198.38,48.38a1.25,1.25 0 0 0 0,2.5z" fill="#3a63ff"/>
<circle cx="198.38" cy="52.36" r="1.25" fill="#f4f5f0"/>
<path d="M198.38,51.11a1.25,1.25 0 0 0 0,2.5z" fill="#3a63ff"/>
<circle cx="198.38" cy="55.09" r="1.25" fill="#f4f5f0"/>
<path d="M198.38,53.84a1.25,1.25 0 0 0 0,2.5z" fill="#3a63ff"/>
<circle cx="198.38" cy="57.82" r="1.25" fill="#f4f5f0"/>
<path d="M198.38,56.57a1.25,1.25 0 0 0 0,2.5z" fill="#3a63ff"/>
<circle cx="198.38" cy="60.55" r="1.25" fill="#f4f5f0"/>
<path d="M198.38,59.30a1.25,1.25 0 0 0 0,2.5z" fill="#3a63ff"/>
<circle cx="198.38" cy="63.28" r="1.25" fill="#f4f5f0"/>
<path d="M198.38,62.03a1.25,1.25 0 0 0 0,2.5z" fill="#3a63ff"/>
<circle cx="201.10" cy="46.90" r="1.25" fill="#f4f5f0"/>
<path d="M201.10,45.65a1.25,1.25 0 0 0 0,2.5z" fill="#3a63ff"/>
<circle cx="201.10" cy="49.63" r="1.25" fill="#f4f5f0"/>
<path d="M201.10,48.38a1.25,1.25 0 0 0 0,2.5z" fill="#3a63ff"/>
<circle cx="201.10" cy="52.36" r="1.25" fill="#f4f5f0"/>
<path d="M201.10,51.11a1.25,1.25 0 0 0 0,2.5z" fill="#3a63ff"/>
<circle cx="201.10" cy="55.09" r="1.25" fill="#f4f5f0"/>
<path d="M201.10,53.84a1.25,1.25 0 0 0 0,2.5z" fill="#3a63ff"/>
<circle cx="201.10" cy="57.82" r="1.25" fill="#f4f5f0"/>
<path d="M201.10,56.57a1.25,1.25 0 0 0 0,2.5z" fill="#3a63ff"/>
<circle cx="201.10" cy="60.55" r="1.25" fill="#f4f5f0"/>
<path d="M201.10,59.30a1.25,1.25 0 0 0 0,2.5z" fill="#3a63ff"/>
<circle cx="201.10" cy="63.28" r="1.25" fill="#f4f5f0"/>
<path d="M201.10,62.03a1.25,1.25 0 0 0 0,2.5z" fill="#3a63ff"/>
<circle cx="203.82" cy="46.90" r="1.25" fill="#f4f5f0"/>
<path d="M203.82,45.65a1.25,1.25 0 0 0 0,2.5z" fill="#3a63ff"/>
<circle cx="203.82" cy="49.63" r="1.25" fill="#f4f5f0"/>
<path d="M203.82,48.38a1.25,1.25 0 0 0 0,2.5z" fill="#3a63ff"/>
<circle cx="203.82" cy="52.36" r="1.25" fill="#f4f5f0"/>
<path d="M203.82,51.11a1.25,1.25 0 0 0 0,2.5z" fill="#3a63ff"/>
<circle cx="203.82" cy="55.09" r="1.25" fill="#f4f5f0"/>
<path d="M203.82,53.84a1.25,1.25 0 0 0 0,2.5z" fill="#3a63ff"/>
<circle cx="203.82" cy="57.82" r="1.25" fill="#f4f5f0"/>
<path d="M203.82,56.57a1.25,1.25 0 0 0 0,2.5z" fill="#3a63ff"/>
<circle cx="203.82" cy="60.55" r="1.25" fill="#f4f5f0"/>
<path d="M203.82,59.30a1.25,1.25 0 0 0 0,2.5z" fill="#3a63ff"/>
<circle cx="203.82" cy="63.28" r="1.25" fill="#f4f5f0"/>
<path d="M203.82,62.03a1.25,1.25 0 0 0 0,2.5z" fill="#3a63ff"/>
<circle cx="206.54" cy="49.63" r="1.25" fill="#f4f5f0"/>
<path d="M206.54,48.38a1.25,1.25 0 0 0 0,2.5z" fill="#3a63ff"/>
<circle cx="206.54" cy="52.36" r="1.25" fill="#f4f5f0"/>
<path d="M206.54,51.11a1.25,1.25 0 0 0 0,2.5z" fill="#3a63ff"/>
<circle cx="206.54" cy="55.09" r="1.25" fill="#f4f5f0"/>
<path d="M206.54,53.84a1.25,1.25 0 0 0 0,2.5z" fill="#3a63ff"/>
<circle cx="206.54" cy="57.82" r="1.25" fill="#f4f5f0"/>
<path d="M206.54,56.57a1.25,1.25 0 0 0 0,2.5z" fill="#3a63ff"/>
<circle cx="206.54" cy="60.55" r="1.25" fill="#f4f5f0"/>
<path d="M206.54,59.30a1.25,1.25 0 0 0 0,2.5z" fill="#3a63ff"/>
<circle cx="209.26" cy="49.63" r="1.25" fill="#f4f5f0"/>
<path d="M209.26,48.38a1.25,1.25 0 0 0 0,2.5z" fill="#3a63ff"/>
<circle cx="209.26" cy="52.36" r="1.25" fill="#f4f5f0"/>
<path d="M209.26,51.11a1.25,1.25 0 0 0 0,2.5z" fill="#3a63ff"/>
<circle cx="209.26" cy="55.09" r="1.25" fill="#f4f5f0"/>
<path d="M209.26,53.84a1.25,1.25 0 0 0 0,2.5z" fill="#3a63ff"/>
<circle cx="209.26" cy="57.82" r="1.25" fill="#f4f5f0"/>
<path d="M209.26,56.57a1.25,1.25 0 0 0 0,2.5z" fill="#3a63ff"/>
<circle cx="209.26" cy="60.55" r="1.25" fill="#f4f5f0"/>
<path d="M209.26,59.30a1.25,1.25 0 0 0 0,2.5z" fill="#3a63ff"/>
<circle cx="211.98" cy="52.36" r="1.25" fill="#f4f5f0"/>
<path d="M211.98,51.11a1.25,1.25 0 0 0 0,2.5z" fill="#3a63ff"/>
<circle cx="211.98" cy="55.09" r="1.25" fill="#f4f5f0"/>
<path d="M211.98,53.84a1.25,1.25 0 0 0 0,2.5z" fill="#3a63ff"/>
<circle cx="149.42" cy="71.47" r="1.25" fill="#f4f5f0"/>
<path d="M149.42,70.22a1.25,1.25 0 0 0 0,2.5z" fill="#3a63ff"/>
<circle cx="152.14" cy="71.47" r="1.25" fill="#f4f5f0"/>
<path d="M152.14,70.22a1.25,1.25 0 0 0 0,2.5z" fill="#3a63ff"/>
<circle cx="154.86" cy="74.20" r="1.25" fill="#f4f5f0"/>
<path d="M154.86,72.95a1.25,1.25 0 0 0 0,2.5z" fill="#3a63ff"/>
<circle cx="157.58" cy="74.20" r="1.25" fill="#f4f5f0"/>
<path d="M157.58,72.95a1.25,1.25 0 0 0 0,2.5z" fill="#3a63ff"/>
<circle cx="160.30" cy="74.20" r="1.25" fill="#f4f5f0"/>
<path d="M160.30,72.95a1.25,1.25 0 0 0 0,2.5z" fill="#3a63ff"/>
<circle cx="160.30" cy="76.93" r="1.25" fill="#f4f5f0"/>
<path d="M160.30,75.68a1.25,1.25 0 0 0 0,2.5z" fill="#3a63ff"/>
<circle cx="163.02" cy="76.93" r="1.25" fill="#f4f5f0"/>
<path d="M163.02,75.68a1.25,1.25 0 0 0 0,2.5z" fill="#3a63ff"/>
<circle cx="165.74" cy="76.93" r="1.25" fill="#f4f5f0"/>
<path d="M165.74,75.68a1.25,1.25 0 0 0 0,2.5z" fill="#3a63ff"/>
<circle cx="165.74" cy="79.66" r="1.25" fill="#f4f5f0"/>
<path d="M165.74,78.41a1.25,1.25 0 0 0 0,2.5z" fill="#3a63ff"/>
<circle cx="168.46" cy="79.66" r="1.25" fill="#f4f5f0"/>
<path d="M168.46,78.41a1.25,1.25 0 0 0 0,2.5z" fill="#3a63ff"/>
<circle cx="168.46" cy="82.39" r="1.25" fill="#f4f5f0"/>
<path d="M168.46,81.14a1.25,1.25 0 0 0 0,2.5z" fill="#3a63ff"/>
<circle cx="171.18" cy="82.39" r="1.25" fill="#f4f5f0"/>
<path d="M171.18,81.14a1.25,1.25 0 0 0 0,2.5z" fill="#3a63ff"/>
<circle cx="171.18" cy="85.12" r="1.25" fill="#f4f5f0"/>
<path d="M171.18,83.87a1.25,1.25 0 0 0 0,2.5z" fill="#3a63ff"/>
<circle cx="173.90" cy="85.12" r="1.25" fill="#f4f5f0"/>
<path d="M173.90,83.87a1.25,1.25 0 0 0 0,2.5z" fill="#3a63ff"/>
<circle cx="182.06" cy="98.77" r="1.25" fill="#ee1b14"/>
<circle cx="184.78" cy="98.77" r="1.25" fill="#ee1b14"/>
<circle cx="187.50" cy="98.77" r="1.25" fill="#ee1b14"/>
<circle cx="190.22" cy="98.77" r="1.25" fill="#ee1b14"/>
<circle cx="192.94" cy="98.77" r="1.25" fill="#ee1b14"/>
<circle cx="195.66" cy="98.77" r="1.25" fill="#ee1b14"/>
<circle cx="198.38" cy="98.77" r="1.25" fill="#ee1b14"/>
<circle cx="201.10" cy="98.77" r="1.25" fill="#ee1b14"/>
<circle cx="203.82" cy="98.77" r="1.25" fill="#ee1b14"/>
<circle cx="209.26" cy="101.50" r="1.25" fill="#ee1b14"/>
<circle cx="160.30" cy="93.31" r="1.25" fill="#ee1b14"/>
<circle cx="163.02" cy="93.31" r="1.25" fill="#ee1b14"/>
<circle cx="163.02" cy="96.04" r="1.25" fill="#ee1b14"/>
<circle cx="165.74" cy="98.77" r="1.25" fill="#ee1b14"/>
<circle cx="135.82" cy="101.50" r="1.25" fill="#ee1b14"/>
<circle cx="135.82" cy="104.23" r="1.25" fill="#ee1b14"/>
<circle cx="138.54" cy="106.96" r="1.25" fill="#ee1b14"/>
<circle cx="97.74" cy="117.88" r="1.25" fill="#ee1b14"/>
<circle cx="100.46" cy="120.61" r="1.25" fill="#ee1b14"/>
<circle cx="135.82" cy="101.50" r="1.25" fill="#ee1b14"/>
<circle cx="135.82" cy="104.23" r="1.25" fill="#ee1b14"/>
<circle cx="138.54" cy="106.96" r="1.25" fill="#ee1b14"/>
<circle cx="138.54" cy="109.69" r="1.25" fill="#ee1b14"/>
<circle cx="138.54" cy="112.42" r="1.25" fill="#ee1b14"/>
<circle cx="138.54" cy="115.15" r="1.25" fill="#ee1b14"/>
<circle cx="138.54" cy="117.88" r="1.25" fill="#ee1b14"/>
<circle cx="135.82" cy="120.61" r="1.25" fill="#ee1b14"/>
<circle cx="130.38" cy="123.34" r="1.25" fill="#ee1b14"/>
<circle cx="130.38" cy="126.07" r="1.25" fill="#ee1b14"/>
<circle cx="130.38" cy="139.72" r="1.25" fill="#ee1b14"/>
<circle cx="54.22" cy="112.42" r="1.25" fill="#f4f5f0"/>
<path d="M54.22,111.17a1.25,1.25 0 0 0 0,2.5z" fill="#ee1b14"/>
<circle cx="54.22" cy="115.15" r="1.25" fill="#f4f5f0"/>
<path d="M54.22,113.90a1.25,1.25 0 0 0 0,2.5z" fill="#ee1b14"/>
<circle cx="56.94" cy="109.69" r="1.25" fill="#f4f5f0"/>
<path d="M56.94,108.44a1.25,1.25 0 0 0 0,2.5z" fill="#ee1b14"/>
<circle cx="59.66" cy="106.96" r="1.25" fill="#f4f5f0"/>
<path d="M59.66,105.71a1.25,1.25 0 0 0 0,2.5z" fill="#ee1b14"/>
<circle cx="119.50" cy="158.83" r="1.25" fill="#f4f5f0"/>
<path d="M119.50,157.58a1.25,1.25 0 0 0 0,2.5z" fill="#ee1b14"/>
<circle cx="203.82" cy="128.80" r="1.25" fill="#f4f5f0"/>
<path d="M203.82,127.55a1.25,1.25 0 0 0 0,2.5z" fill="#ee1b14"/>
<circle cx="192.94" cy="145.18" r="1.25" fill="#f4f5f0"/>
<path d="M192.94,143.93a1.25,1.25 0 0 0 0,2.5z" fill="#ee1b14"/>
<circle cx="179.34" cy="156.10" r="1.25" fill="#f4f5f0"/>
<path d="M179.34,154.85a1.25,1.25 0 0 0 0,2.5z" fill="#ee1b14"/>
</g>
<text x="0" y="0" transform="translate(234.00,432.20) rotate(-90)" class="ax">40°N</text>
<text x="0" y="0" transform="translate(234.00,486.80) rotate(-90)" class="ax">30°N</text>
<text x="0" y="0" transform="translate(234.00,541.40) rotate(-90)" class="ax">20°N</text>
<text x="271.60" y="596.00" class="ax2">30°E</text>
<text x="353.40" y="596.00" class="ax2">45°E</text>
<text x="434.80" y="596.00" class="ax2">60°E</text>
<text x="451.70" y="410.30" class="pl">(h)</text>
<rect x="463.5" y="402.4" width="220.1" height="189.1" fill="none" stroke="#8c8c8c" stroke-width="1"/>
<g transform="translate(458.10,400.90)">
<polygon points="22.7,20.8 25.0,20.1 27.3,19.7 31.4,20.1 32.4,22.5 34.4,23.9 37.0,24.6 40.5,25.2 45.8,25.3 50.1,23.6 54.5,21.4 58.9,20.5 64.2,20.5 69.3,20.1 72.8,22.1 76.3,23.3 79.8,23.9 84.5,25.6 90.3,26.5 96.1,26.0 100.8,24.8 105.5,23.3 111.3,22.5 114.8,24.5 117.7,27.4 117.7,30.3 121.2,32.1 124.7,35.0 127.7,36.7 131.2,37.3 134.7,35.6 138.2,33.8 140.7,33.4 142.7,35.3 145.3,39.3 146.6,43.2 151.9,45.2 157.1,48.5 162.4,49.8 169.0,48.5 173.6,47.2 176.8,43.9 182.1,41.9 188.7,41.3 193.9,42.6 199.2,44.5 204.4,47.2 209.7,49.1 213.0,50.4 213.6,55.1 211.0,59.0 209.7,62.9 211.0,68.2 210.2,72.2 210.9,77.2 215.1,78.6 216.2,80.0 213.7,83.5 211.3,86.7 213.0,89.2 215.9,92.7 220.1,94.8 221.5,96.2 221.9,100.5 223.6,101.2 223.3,103.3 219.4,104.7 216.2,105.4 215.5,109.7 214.8,112.5 211.6,111.8 207.4,111.0 200.3,109.9 193.1,108.9 191.1,106.9 190.0,103.3 187.0,102.3 182.9,103.3 178.8,104.9 173.7,103.3 167.6,100.3 162.5,97.2 158.7,94.9 155.1,88.7 151.6,84.4 146.4,83.5 144.6,87.0 142.5,86.3 141.1,87.0 142.9,90.5 142.0,93.1 144.6,95.7 146.1,99.2 149.2,101.8 152.2,105.4 154.3,108.4 155.6,109.8 156.3,107.4 158.4,106.9 160.4,108.4 159.9,113.6 158.4,115.6 161.4,117.6 165.5,118.7 171.6,118.1 175.7,116.6 178.8,113.6 181.9,110.5 184.9,107.4 186.0,106.4 186.5,109.5 187.0,115.1 189.0,116.6 193.1,119.2 198.2,121.2 201.8,123.8 204.9,126.8 204.3,129.9 201.3,134.0 198.2,136.0 196.2,140.1 194.1,144.2 190.4,146.9 185.2,150.9 179.9,154.8 173.4,157.4 166.8,160.0 164.2,162.7 158.9,166.0 152.3,168.6 145.8,171.9 140.5,173.8 133.9,175.8 127.4,177.8 120.8,180.4 115.6,179.8 114.2,174.5 112.9,169.2 112.3,164.0 111.6,158.7 109.0,153.5 105.0,148.2 101.1,141.7 96.9,137.9 93.0,134.0 91.7,127.4 90.3,122.8 85.1,118.2 82.5,114.2 79.8,109.0 75.2,102.4 72.0,97.2 70.0,90.6 69.3,89.5 68.7,90.2 67.5,93.5 66.7,97.2 66.0,97.8 63.5,94.0 60.5,90.5 57.5,87.0 56.5,86.2 55.8,87.0 58.0,90.5 61.0,94.5 62.8,97.5 65.4,103.7 69.3,111.6 73.3,118.2 73.9,122.1 77.2,126.1 79.8,129.4 15.2,129.4 15.2,87.0 14.0,86.0 13.2,84.0 13.5,80.0 14.3,77.8 15.0,77.1 19.7,77.1 25.5,77.7 31.4,79.5 37.2,81.2 41.9,79.5 47.7,77.5 52.4,78.3 57.1,79.8 61.7,79.5 66.0,79.3 67.5,77.1 68.6,74.9 69.7,70.6 71.5,66.9 73.3,63.3 74.4,59.6 74.1,55.2 75.1,52.3 75.9,50.1 74.0,49.4 70.4,49.0 66.7,50.1 63.1,51.6 61.5,51.6 57.2,52.9 53.6,51.6 51.0,49.9 47.5,49.0 44.9,50.7 41.4,52.5 38.8,52.1 36.1,49.9 32.6,49.0 29.1,49.4 27.8,47.2 26.9,45.1 25.6,42.0 22.6,40.7 22.6,38.5 23.4,35.4 21.5,34.4 21.6,30.3 21.2,27.3 23.2,24.5 22.7,21.8" fill="url(#pg)"/>
<g clip-path="url(#land)">
<polygon points="18.0,18.2 125.0,10.0 150.0,25.0 160.7,48.8 164.6,50.5 164.6,72.9 160.7,73.2 153.9,71.2 145.5,67.8 137.8,63.5 131.9,59.3 126.8,56.8 120.1,52.5 109.9,50.8 119.9,52.3 109.9,50.1 99.0,47.4 92.0,48.0 85.0,48.6 79.5,49.4 78.4,50.9 77.0,53.0 75.1,53.0 70.0,56.0 55.0,58.0 15.0,58.0 15.0,20.0" fill="url(#pc)"/>
<polygon points="73.0,103.0 82.8,108.0 88.1,109.8 93.3,114.2 97.7,118.5 102.1,122.9 106.5,127.3 110.8,132.5 115.2,137.8 117.9,143.1 118.7,148.7 120.0,154.3 120.8,165.1 131.3,165.1 133.1,162.7 135.7,157.4 135.7,148.7 132.7,143.4 129.2,138.2 127.5,131.1 128.4,124.1 131.0,118.9 136.6,113.6 137.5,106.6 136.3,99.6 135.4,92.6 134.5,89.1 135.3,92.8 126.8,89.5 126.8,75.9 131.9,75.1 141.2,81.0 143.8,86.1 150.0,92.0 160.0,99.0 159.0,92.5 164.1,96.7 203.0,96.7 211.5,99.3 216.6,104.7 222.0,112.0 230.0,125.0 230.0,195.0 100.0,195.0 92.0,140.0" fill="url(#pp)"/>
<polygon points="56.5,111.0 60.9,105.2 63.5,105.2 67.9,111.0 74.9,118.9 85.4,132.9 61.8,132.9 59.2,124.1 56.5,119.8" fill="url(#pp)"/>
</g>
<polygon points="25.5,28.3 28.0,27.2 32.0,26.2 36.5,26.5 40.5,27.3 38.0,28.3 34.0,28.9 29.0,29.2" fill="#fff" stroke="#333" stroke-width="0.6"/>
<polyline points="75.1,53.0 77.0,53.0 78.4,50.9 79.5,49.4 85.0,48.6 92.0,48.0 99.0,47.4 105.5,46.9 109.8,46.5" fill="none" stroke="#2d2d2d" stroke-width="0.85" stroke-linejoin="round"/>
<polyline points="109.8,46.5 114.8,46.3 119.5,46.7 121.8,46.7" fill="none" stroke="#2d2d2d" stroke-width="0.85" stroke-linejoin="round"/>
<polyline points="120.5,32.5 119.5,35.6 120.1,39.1 121.2,42.6 121.8,46.7" fill="none" stroke="#2d2d2d" stroke-width="0.85" stroke-linejoin="round"/>
<polyline points="121.8,46.7 124.2,49.6 127.1,52.5 130.0,54.2 131.2,54.8 129.4,57.2 127.1,60.7 127.1,64.2 130.6,68.6 135.0,71.2 138.5,74.7 140.3,78.2 141.1,81.7 142.4,84.4 144.6,87.0" fill="none" stroke="#2d2d2d" stroke-width="0.85" stroke-linejoin="round"/>
<polyline points="109.8,46.5 106.9,50.1 104.0,54.5 103.2,61.4 96.1,64.8 90.8,67.6" fill="none" stroke="#2d2d2d" stroke-width="0.85" stroke-linejoin="round"/>
<polyline points="90.8,67.6 79.2,73.1 72.6,71.3" fill="none" stroke="#2d2d2d" stroke-width="0.85" stroke-linejoin="round"/>
<polyline points="74.2,60.0 77.7,60.7 78.4,62.5 74.0,69.1 72.6,71.3" fill="none" stroke="#2d2d2d" stroke-width="0.85" stroke-linejoin="round"/>
<polyline points="70.2,70.8 72.6,71.3" fill="none" stroke="#2d2d2d" stroke-width="0.85" stroke-linejoin="round"/>
<polyline points="72.6,71.3 71.8,74.0 71.2,78.0 70.6,82.0 70.0,86.0 69.3,89.5" fill="none" stroke="#2d2d2d" stroke-width="0.85" stroke-linejoin="round"/>
<polyline points="66.0,79.3 69.3,89.5" fill="none" stroke="#2d2d2d" stroke-width="0.85" stroke-linejoin="round"/>
<polyline points="90.8,67.6 91.9,73.8" fill="none" stroke="#2d2d2d" stroke-width="0.85" stroke-linejoin="round"/>
<polyline points="91.9,73.8 82.5,76.8 81.2,78.0 85.1,81.4 83.8,84.0 78.5,88.0 74.6,90.6 70.0,90.3" fill="none" stroke="#2d2d2d" stroke-width="0.85" stroke-linejoin="round"/>
<polyline points="91.9,73.8 98.2,76.1 101.1,76.6 104.8,79.4 112.7,84.0 114.9,85.2 120.6,89.3 122.7,90.5 132.4,90.9" fill="none" stroke="#2d2d2d" stroke-width="0.85" stroke-linejoin="round"/>
<polyline points="132.4,90.9 135.0,86.1 141.1,86.1" fill="none" stroke="#2d2d2d" stroke-width="0.85" stroke-linejoin="round"/>
<polyline points="132.4,90.9 139.4,93.1 142.3,93.3" fill="none" stroke="#2d2d2d" stroke-width="0.85" stroke-linejoin="round"/>
<polyline points="155.6,109.8 157.2,113.8 158.4,115.6" fill="none" stroke="#2d2d2d" stroke-width="0.85" stroke-linejoin="round"/>
<polyline points="161.4,117.6 164.0,122.2 165.5,124.3 171.6,124.8 179.8,126.3" fill="none" stroke="#2d2d2d" stroke-width="0.85" stroke-linejoin="round"/>
<polyline points="179.8,126.3 181.9,122.7 182.4,117.6 183.9,114.6 185.4,112.5 185.9,109.5" fill="none" stroke="#2d2d2d" stroke-width="0.85" stroke-linejoin="round"/>
<polyline points="179.8,126.3 182.4,129.9 181.4,135.0 179.8,139.1 176.8,141.1 171.6,143.2 166.5,145.2 162.9,146.3" fill="none" stroke="#2d2d2d" stroke-width="0.85" stroke-linejoin="round"/>
<polyline points="162.9,146.3 168.1,158.1" fill="none" stroke="#2d2d2d" stroke-width="0.85" stroke-linejoin="round"/>
<polyline points="162.9,146.3 153.7,146.9 143.1,150.2 136.6,160.0 132.0,164.0 132.0,158.7 127.4,156.1 120.8,154.1 114.2,154.8 110.3,155.3" fill="none" stroke="#2d2d2d" stroke-width="0.85" stroke-linejoin="round"/>
<polygon points="70.3,74.5 71.8,74.3 71.5,78.3 70.2,78.6 69.8,76.5" fill="none" stroke="#3a3a3a" stroke-width="0.6"/>
<polygon points="22.7,20.8 25.0,20.1 27.3,19.7 31.4,20.1 32.4,22.5 34.4,23.9 37.0,24.6 40.5,25.2 45.8,25.3 50.1,23.6 54.5,21.4 58.9,20.5 64.2,20.5 69.3,20.1 72.8,22.1 76.3,23.3 79.8,23.9 84.5,25.6 90.3,26.5 96.1,26.0 100.8,24.8 105.5,23.3 111.3,22.5 114.8,24.5 117.7,27.4 117.7,30.3 121.2,32.1 124.7,35.0 127.7,36.7 131.2,37.3 134.7,35.6 138.2,33.8 140.7,33.4 142.7,35.3 145.3,39.3 146.6,43.2 151.9,45.2 157.1,48.5 162.4,49.8 169.0,48.5 173.6,47.2 176.8,43.9 182.1,41.9 188.7,41.3 193.9,42.6 199.2,44.5 204.4,47.2 209.7,49.1 213.0,50.4 213.6,55.1 211.0,59.0 209.7,62.9 211.0,68.2 210.2,72.2 210.9,77.2 215.1,78.6 216.2,80.0 213.7,83.5 211.3,86.7 213.0,89.2 215.9,92.7 220.1,94.8 221.5,96.2 221.9,100.5 223.6,101.2 223.3,103.3 219.4,104.7 216.2,105.4 215.5,109.7 214.8,112.5 211.6,111.8 207.4,111.0 200.3,109.9 193.1,108.9 191.1,106.9 190.0,103.3 187.0,102.3 182.9,103.3 178.8,104.9 173.7,103.3 167.6,100.3 162.5,97.2 158.7,94.9 155.1,88.7 151.6,84.4 146.4,83.5 144.6,87.0 142.5,86.3 141.1,87.0 142.9,90.5 142.0,93.1 144.6,95.7 146.1,99.2 149.2,101.8 152.2,105.4 154.3,108.4 155.6,109.8 156.3,107.4 158.4,106.9 160.4,108.4 159.9,113.6 158.4,115.6 161.4,117.6 165.5,118.7 171.6,118.1 175.7,116.6 178.8,113.6 181.9,110.5 184.9,107.4 186.0,106.4 186.5,109.5 187.0,115.1 189.0,116.6 193.1,119.2 198.2,121.2 201.8,123.8 204.9,126.8 204.3,129.9 201.3,134.0 198.2,136.0 196.2,140.1 194.1,144.2 190.4,146.9 185.2,150.9 179.9,154.8 173.4,157.4 166.8,160.0 164.2,162.7 158.9,166.0 152.3,168.6 145.8,171.9 140.5,173.8 133.9,175.8 127.4,177.8 120.8,180.4 115.6,179.8 114.2,174.5 112.9,169.2 112.3,164.0 111.6,158.7 109.0,153.5 105.0,148.2 101.1,141.7 96.9,137.9 93.0,134.0 91.7,127.4 90.3,122.8 85.1,118.2 82.5,114.2 79.8,109.0 75.2,102.4 72.0,97.2 70.0,90.6 69.3,89.5 68.7,90.2 67.5,93.5 66.7,97.2 66.0,97.8 63.5,94.0 60.5,90.5 57.5,87.0 56.5,86.2 55.8,87.0 58.0,90.5 61.0,94.5 62.8,97.5 65.4,103.7 69.3,111.6 73.3,118.2 73.9,122.1 77.2,126.1 79.8,129.4 15.2,129.4 15.2,87.0 14.0,86.0 13.2,84.0 13.5,80.0 14.3,77.8 15.0,77.1 19.7,77.1 25.5,77.7 31.4,79.5 37.2,81.2 41.9,79.5 47.7,77.5 52.4,78.3 57.1,79.8 61.7,79.5 66.0,79.3 67.5,77.1 68.6,74.9 69.7,70.6 71.5,66.9 73.3,63.3 74.4,59.6 74.1,55.2 75.1,52.3 75.9,50.1 74.0,49.4 70.4,49.0 66.7,50.1 63.1,51.6 61.5,51.6 57.2,52.9 53.6,51.6 51.0,49.9 47.5,49.0 44.9,50.7 41.4,52.5 38.8,52.1 36.1,49.9 32.6,49.0 29.1,49.4 27.8,47.2 26.9,45.1 25.6,42.0 22.6,40.7 22.6,38.5 23.4,35.4 21.5,34.4 21.6,30.3 21.2,27.3 23.2,24.5 22.7,21.8" fill="none" stroke="#2d2d2d" stroke-width="0.85" stroke-linejoin="round"/>
<circle cx="29.74" cy="22.33" r="1.25" fill="#3a63ff"/>
<circle cx="56.94" cy="22.33" r="1.25" fill="#3a63ff"/>
<circle cx="24.30" cy="30.52" r="1.25" fill="#3a63ff"/>
<circle cx="24.30" cy="33.25" r="1.25" fill="#3a63ff"/>
<circle cx="27.02" cy="35.98" r="1.25" fill="#3a63ff"/>
<circle cx="29.74" cy="38.71" r="1.25" fill="#3a63ff"/>
<circle cx="29.74" cy="41.44" r="1.25" fill="#3a63ff"/>
<circle cx="32.46" cy="41.44" r="1.25" fill="#3a63ff"/>
<circle cx="32.46" cy="44.17" r="1.25" fill="#3a63ff"/>
<circle cx="27.02" cy="41.44" r="1.25" fill="#3a63ff"/>
<circle cx="160.30" cy="52.36" r="1.25" fill="#3a63ff"/>
<circle cx="163.02" cy="57.82" r="1.25" fill="#3a63ff"/>
<circle cx="86.86" cy="49.63" r="1.25" fill="#f4f5f0"/>
<path d="M86.86,48.38a1.25,1.25 0 0 0 0,2.5z" fill="#3a63ff"/>
<circle cx="163.02" cy="71.47" r="1.25" fill="#f4f5f0"/>
<path d="M163.02,70.22a1.25,1.25 0 0 0 0,2.5z" fill="#3a63ff"/>
<circle cx="168.46" cy="76.93" r="1.25" fill="#f4f5f0"/>
<path d="M168.46,75.68a1.25,1.25 0 0 0 0,2.5z" fill="#3a63ff"/>
<circle cx="168.46" cy="79.66" r="1.25" fill="#f4f5f0"/>
<path d="M168.46,78.41a1.25,1.25 0 0 0 0,2.5z" fill="#3a63ff"/>
<circle cx="171.18" cy="76.93" r="1.25" fill="#f4f5f0"/>
<path d="M171.18,75.68a1.25,1.25 0 0 0 0,2.5z" fill="#3a63ff"/>
<circle cx="171.18" cy="79.66" r="1.25" fill="#f4f5f0"/>
<path d="M171.18,78.41a1.25,1.25 0 0 0 0,2.5z" fill="#3a63ff"/>
<circle cx="176.62" cy="82.39" r="1.25" fill="#f4f5f0"/>
<path d="M176.62,81.14a1.25,1.25 0 0 0 0,2.5z" fill="#3a63ff"/>
<circle cx="176.62" cy="85.12" r="1.25" fill="#f4f5f0"/>
<path d="M176.62,83.87a1.25,1.25 0 0 0 0,2.5z" fill="#3a63ff"/>
<circle cx="206.54" cy="55.09" r="1.25" fill="#f4f5f0"/>
<path d="M206.54,53.84a1.25,1.25 0 0 0 0,2.5z" fill="#3a63ff"/>
<circle cx="209.26" cy="55.09" r="1.25" fill="#f4f5f0"/>
<path d="M209.26,53.84a1.25,1.25 0 0 0 0,2.5z" fill="#3a63ff"/>
<circle cx="127.66" cy="82.39" r="1.25" fill="#ee1b14"/>
<circle cx="160.30" cy="96.04" r="1.25" fill="#ee1b14"/>
<circle cx="165.74" cy="96.04" r="1.25" fill="#ee1b14"/>
<circle cx="168.46" cy="96.04" r="1.25" fill="#ee1b14"/>
<circle cx="203.82" cy="98.77" r="1.25" fill="#ee1b14"/>
<circle cx="206.54" cy="98.77" r="1.25" fill="#ee1b14"/>
<circle cx="209.26" cy="98.77" r="1.25" fill="#ee1b14"/>
<circle cx="211.98" cy="104.23" r="1.25" fill="#ee1b14"/>
<circle cx="103.18" cy="123.34" r="1.25" fill="#ee1b14"/>
<circle cx="105.90" cy="128.80" r="1.25" fill="#ee1b14"/>
<circle cx="108.62" cy="131.53" r="1.25" fill="#ee1b14"/>
<circle cx="114.06" cy="139.72" r="1.25" fill="#ee1b14"/>
<circle cx="135.82" cy="115.15" r="1.25" fill="#ee1b14"/>
<circle cx="135.82" cy="117.88" r="1.25" fill="#ee1b14"/>
<circle cx="130.38" cy="120.61" r="1.25" fill="#ee1b14"/>
<circle cx="133.10" cy="120.61" r="1.25" fill="#ee1b14"/>
<circle cx="127.66" cy="128.80" r="1.25" fill="#ee1b14"/>
<circle cx="127.66" cy="131.53" r="1.25" fill="#ee1b14"/>
<circle cx="127.66" cy="134.26" r="1.25" fill="#ee1b14"/>
<circle cx="130.38" cy="142.45" r="1.25" fill="#ee1b14"/>
<circle cx="133.10" cy="145.18" r="1.25" fill="#ee1b14"/>
<circle cx="119.50" cy="158.83" r="1.25" fill="#ee1b14"/>
<circle cx="56.94" cy="115.15" r="1.25" fill="#f4f5f0"/>
<path d="M56.94,113.90a1.25,1.25 0 0 0 0,2.5z" fill="#ee1b14"/>
<circle cx="59.66" cy="120.61" r="1.25" fill="#f4f5f0"/>
<path d="M59.66,119.36a1.25,1.25 0 0 0 0,2.5z" fill="#ee1b14"/>
<circle cx="62.38" cy="123.34" r="1.25" fill="#f4f5f0"/>
<path d="M62.38,122.09a1.25,1.25 0 0 0 0,2.5z" fill="#ee1b14"/>
<circle cx="62.38" cy="126.07" r="1.25" fill="#f4f5f0"/>
<path d="M62.38,124.82a1.25,1.25 0 0 0 0,2.5z" fill="#ee1b14"/>
<circle cx="65.10" cy="109.69" r="1.25" fill="#f4f5f0"/>
<path d="M65.10,108.44a1.25,1.25 0 0 0 0,2.5z" fill="#ee1b14"/>
<circle cx="135.82" cy="156.10" r="1.25" fill="#f4f5f0"/>
<path d="M135.82,154.85a1.25,1.25 0 0 0 0,2.5z" fill="#ee1b14"/>
<circle cx="130.38" cy="167.02" r="1.25" fill="#f4f5f0"/>
<path d="M130.38,165.77a1.25,1.25 0 0 0 0,2.5z" fill="#ee1b14"/>
<circle cx="198.38" cy="128.80" r="1.25" fill="#f4f5f0"/>
<path d="M198.38,127.55a1.25,1.25 0 0 0 0,2.5z" fill="#ee1b14"/>
<circle cx="195.66" cy="134.26" r="1.25" fill="#f4f5f0"/>
<path d="M195.66,133.01a1.25,1.25 0 0 0 0,2.5z" fill="#ee1b14"/>
<circle cx="190.22" cy="142.45" r="1.25" fill="#f4f5f0"/>
<path d="M190.22,141.20a1.25,1.25 0 0 0 0,2.5z" fill="#ee1b14"/>
<circle cx="187.50" cy="147.91" r="1.25" fill="#f4f5f0"/>
<path d="M187.50,146.66a1.25,1.25 0 0 0 0,2.5z" fill="#ee1b14"/>
<circle cx="182.06" cy="153.37" r="1.25" fill="#f4f5f0"/>
<path d="M182.06,152.12a1.25,1.25 0 0 0 0,2.5z" fill="#ee1b14"/>
<circle cx="173.90" cy="156.10" r="1.25" fill="#f4f5f0"/>
<path d="M173.90,154.85a1.25,1.25 0 0 0 0,2.5z" fill="#ee1b14"/>
</g>
<text x="0" y="0" transform="translate(463.20,432.30) rotate(-90)" class="ax">40°N</text>
<text x="0" y="0" transform="translate(463.20,486.90) rotate(-90)" class="ax">30°N</text>
<text x="0" y="0" transform="translate(463.20,541.50) rotate(-90)" class="ax">20°N</text>
<text x="500.80" y="596.10" class="ax2">30°E</text>
<text x="582.60" y="596.10" class="ax2">45°E</text>
<text x="664.00" y="596.10" class="ax2">60°E</text>
<text x="680.70" y="411.20" class="pl">(i)</text>
<circle cx="93.7" cy="622.5" r="10.9" fill="#ee1b14"/>
<text x="108.0" y="625.4" class="lg" textLength="37.7" lengthAdjust="spacingAndGlyphs">Not Sig to Hot</text>
<circle cx="184.2" cy="622.5" r="10.5" fill="#f2b8c0" stroke="#777" stroke-width="0.8"/>
<text x="198.5" y="625.4" class="lg" textLength="27.8" lengthAdjust="spacingAndGlyphs">Hot to Hot</text>
<circle cx="250.0" cy="622.5" r="10.4" fill="#f4f5f0" stroke="#ee1b14" stroke-width="1"/>
<path d="M250.0,611.6a10.9,10.9 0 0 0 0,21.8z" fill="#ee1b14"/>
<text x="264.3" y="625.4" class="lg" textLength="38.0" lengthAdjust="spacingAndGlyphs">Hot to Not Sig</text>
<circle cx="325.5" cy="622.5" r="10.5" fill="#f4f5f0" stroke="#777" stroke-width="0.8"/>
<text x="339.9" y="625.4" class="lg" textLength="48.2" lengthAdjust="spacingAndGlyphs">Not Sig to Not Sig</text>
<circle cx="406.0" cy="622.5" r="10.4" fill="#f4f5f0" stroke="#3a63ff" stroke-width="1"/>
<path d="M406.0,611.6a10.9,10.9 0 0 0 0,21.8z" fill="#3a63ff"/>
<text x="420.2" y="625.4" class="lg" textLength="40.3" lengthAdjust="spacingAndGlyphs">Cold to Not Sig</text>
<circle cx="482.5" cy="622.5" r="10.5" fill="#c8f3f8" stroke="#777" stroke-width="0.8"/>
<text x="497.0" y="625.4" class="lg" textLength="32.2" lengthAdjust="spacingAndGlyphs">Cold to Cold</text>
<circle cx="556.0" cy="622.5" r="10.9" fill="#3a63ff"/>
<text x="570.5" y="625.4" class="lg" textLength="40.1" lengthAdjust="spacingAndGlyphs">Not Sig to Cold</text>
</svg>
</body></html>
